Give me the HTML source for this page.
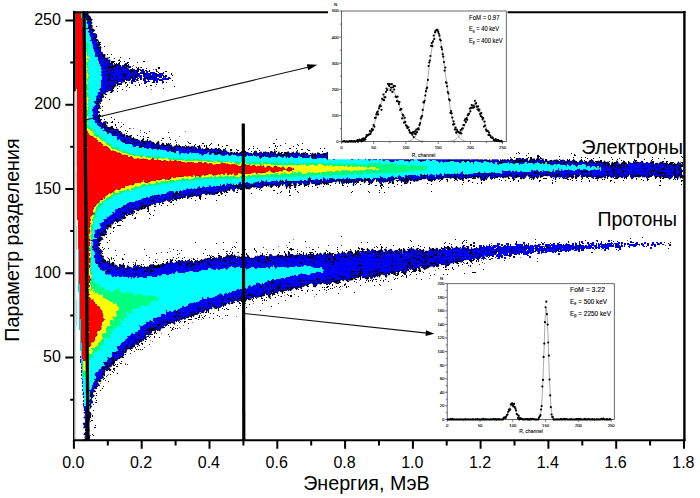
<!DOCTYPE html>
<html><head><meta charset="utf-8"><title>PSD</title>
<style>
html,body{margin:0;padding:0;background:#fff;}
body{width:700px;height:498px;position:relative;overflow:hidden;font-family:"Liberation Sans",sans-serif;color:#000;}
.t{position:absolute;white-space:nowrap;line-height:1;}
.xt{font-size:16px;top:454.5px;width:40px;margin-left:-20px;text-align:center;}
.yt{font-size:16px;left:19.4px;width:41.5px;text-align:right;}
</style></head><body>
<svg width="700" height="498" viewBox="0 0 700 498" style="position:absolute;left:0;top:0">
<rect x="0" y="0" width="700" height="498" fill="#fff"/>
<g id="density" shape-rendering="crispEdges">
<path d="M170.2 251.6h0.5M211.1 255.3h0.5M266.0 249.7h0.5M359.4 249.3h0.5M191.3 258.3h0.5M157.3 259.3h0.5M105.8 249.4h0.5M300.5 245.6h0.5M256.2 252.8h0.5M231.1 255.2h0.5M306.2 247.0h0.5M149.4 260.1h0.5M195.9 247.0h0.5M286.5 244.3h0.5M321.8 253.2h0.5M133.2 262.9h0.5M172.5 261.5h0.5M237.3 252.4h0.5M112.7 262.7h0.5M143.1 260.7h0.5M141.0 264.2h0.5M179.6 254.3h0.5M193.6 259.2h0.5M186.6 252.6h0.5M349.8 244.7h0.5M260.1 252.7h0.5M216.0 257.1h0.5M309.0 247.8h0.5M286.0 245.5h0.5M281.8 244.5h0.5M107.2 257.9h0.5M169.8 261.8h0.5M311.9 252.1h0.5M277.7 238.7h0.5M270.5 252.5h0.5M245.8 241.0h0.5M130.9 262.6h0.5M297.3 249.0h0.5M238.3 255.4h0.5M142.5 256.5h0.5M166.2 259.7h0.5M265.9 248.9h0.5M169.2 248.6h0.5M267.2 252.2h0.5M293.3 239.8h0.5M267.0 252.4h0.5M278.1 246.2h0.5M218.3 256.9h0.5" stroke="#000" stroke-width="0.5" fill="none"/>
<path d="M230.9 249.8h0.8M143.1 264.7h0.8M111.4 257.1h0.8M229.4 253.2h0.8M162.8 261.7h0.8M135.1 262.6h0.8M227.0 251.9h0.8M155.2 259.1h0.8M196.9 258.5h0.8M357.7 248.4h0.8M149.5 258.8h0.8M134.7 263.3h0.8M290.7 250.0h0.8M244.9 249.5h0.8M148.8 257.5h0.8M262.7 247.2h0.8M111.1 259.1h0.8M160.8 252.8h0.8M236.0 256.2h0.8M103.8 248.1h0.8M236.2 242.7h0.8M268.8 254.5h0.8M155.6 254.6h0.8M109.1 260.8h0.8M341.2 245.5h0.8M328.4 245.8h0.8M177.2 250.7h0.8M178.9 253.8h0.8M306.3 253.4h0.8M283.5 246.4h0.8M311.6 246.8h0.8M232.5 255.9h0.8M120.3 264.9h0.8M318.2 247.4h0.8M284.8 254.3h0.8M165.5 254.6h0.8M167.6 256.7h0.8M349.5 240.7h0.8M271.6 254.5h0.8M116.0 255.5h0.8" stroke="#000" stroke-width="0.8" fill="none"/>
<path d="M176.8 254.4h1M226.8 256.2h1M254.3 249.2h1M305.0 241.5h1M143.5 249.2h1M103.2 249.6h1M324.9 252.4h1M108.2 258.0h1M253.7 248.5h1M181.9 260.8h1M272.7 249.9h1M132.5 264.5h1M312.1 249.6h1M108.1 248.4h1M194.8 242.5h1M204.5 249.3h1M341.2 236.6h1M167.1 259.7h1M217.8 253.3h1M202.9 253.3h1M217.9 253.7h1M155.5 262.3h1M177.4 250.5h1M113.3 258.6h1M213.3 256.4h1M192.7 259.3h1M311.8 252.4h1M145.5 255.7h1M222.7 249.9h1M180.8 250.3h1M172.4 259.7h1M114.5 250.7h1M175.7 258.6h1M279.4 252.1h1M172.6 249.8h1M184.4 257.5h1M211.9 256.9h1M108.3 248.3h1M336.8 249.6h1M215.8 243.2h1M222.8 242.2h1M155.7 253.7h1" stroke="#000" stroke-width="1.0" fill="none"/>
<path d="M409.0 275.8h0.5M254.5 308.7h0.5M243.3 307.9h0.5M102.7 386.6h0.5M284.0 295.5h0.5M183.0 325.0h0.5M92.6 404.2h0.5M179.4 327.4h0.5M315.8 288.5h0.5M305.9 290.5h0.5M201.3 319.7h0.5M97.7 392.1h0.5M501.9 258.2h0.5M292.8 294.0h0.5M180.9 331.9h0.5M308.0 289.8h0.5M252.1 300.4h0.5M346.5 289.5h0.5M331.9 291.2h0.5M305.0 293.5h0.5M486.4 259.9h0.5M119.8 365.9h0.5M180.2 328.7h0.5M291.3 292.6h0.5M381.3 278.1h0.5M452.0 268.4h0.5M119.1 362.4h0.5M108.2 374.4h0.5M183.7 330.4h0.5M140.8 345.6h0.5M436.6 272.5h0.5M272.5 300.7h0.5M422.2 271.2h0.5M430.8 272.6h0.5M280.3 296.1h0.5M340.3 289.5h0.5M401.6 276.1h0.5M455.5 268.4h0.5M207.6 316.8h0.5M173.3 329.6h0.5M448.6 278.2h0.5M403.4 276.0h0.5M96.3 393.7h0.5M236.9 313.8h0.5M422.6 271.6h0.5M359.4 280.2h0.5M355.8 292.2h0.5M354.9 281.2h0.5M241.7 304.1h0.5M458.9 272.3h0.5M393.4 277.2h0.5M384.6 276.9h0.5M185.7 326.6h0.5M126.7 353.3h0.5M162.7 338.6h0.5M330.7 288.9h0.5M100.3 383.7h0.5M234.9 312.4h0.5M97.7 396.2h0.5M458.2 266.2h0.5M361.8 286.9h0.5M178.7 329.7h0.5M337.6 286.8h0.5M152.1 341.8h0.5M515.8 263.3h0.5M429.3 273.6h0.5M236.2 316.2h0.5M509.0 258.5h0.5M296.8 295.1h0.5M520.0 257.4h0.5M258.8 308.8h0.5M484.4 263.3h0.5M440.3 275.4h0.5M473.9 266.5h0.5M135.0 348.0h0.5M469.9 268.9h0.5M383.6 283.9h0.5M177.9 327.4h0.5M349.9 289.9h0.5M119.5 364.4h0.5M192.2 322.4h0.5M314.2 296.7h0.5M145.4 341.1h0.5M161.1 333.5h0.5M150.1 340.1h0.5M340.5 283.6h0.5M361.6 288.2h0.5M114.4 369.1h0.5M326.4 292.0h0.5M257.6 300.5h0.5M461.7 269.5h0.5M243.9 301.6h0.5M125.2 363.2h0.5M429.0 278.1h0.5M222.4 318.3h0.5M419.1 273.3h0.5M342.4 286.9h0.5M253.2 303.4h0.5M177.0 325.2h0.5" stroke="#000" stroke-width="0.5" fill="none"/>
<path d="M92.8 404.8h0.8M263.6 297.2h0.8M149.3 344.0h0.8M124.9 364.2h0.8M376.0 281.5h0.8M382.9 281.9h0.8M132.2 348.9h0.8M169.1 336.4h0.8M345.2 283.4h0.8M106.3 376.2h0.8M306.7 291.9h0.8M240.0 305.9h0.8M485.6 261.4h0.8M285.2 300.5h0.8M356.2 282.6h0.8M244.7 301.9h0.8M130.1 353.5h0.8M371.7 281.9h0.8M121.1 363.6h0.8M134.0 351.8h0.8M385.3 279.2h0.8M126.7 364.1h0.8M94.8 402.2h0.8M293.8 294.5h0.8M105.3 380.8h0.8M263.7 299.8h0.8M334.1 287.4h0.8M188.6 324.0h0.8M200.9 315.4h0.8M235.9 306.2h0.8M394.9 275.9h0.8M287.3 294.4h0.8M225.2 315.4h0.8M278.4 303.2h0.8M244.8 303.7h0.8M147.6 337.0h0.8M394.7 278.3h0.8M293.6 296.0h0.8M332.6 285.9h0.8M217.7 309.6h0.8M452.1 268.8h0.8M286.5 295.6h0.8M494.5 265.3h0.8M209.3 317.2h0.8M226.8 309.4h0.8M452.3 267.6h0.8M243.5 305.1h0.8M143.0 340.9h0.8M261.8 303.0h0.8M252.2 300.8h0.8M483.2 269.0h0.8M504.3 260.3h0.8M467.9 265.5h0.8M452.5 271.5h0.8M415.8 278.2h0.8M131.0 350.4h0.8M130.9 350.7h0.8M106.8 375.3h0.8M237.5 306.3h0.8M482.1 262.1h0.8M259.5 306.5h0.8M111.5 374.3h0.8M326.1 290.8h0.8M272.3 295.4h0.8M144.1 347.3h0.8M297.9 296.7h0.8M150.3 336.8h0.8M188.1 328.2h0.8M253.0 301.2h0.8M354.0 292.0h0.8M380.2 285.5h0.8M420.5 281.8h0.8M241.5 302.6h0.8" stroke="#000" stroke-width="0.8" fill="none"/>
<path d="M266.4 300.2h1M198.5 317.1h1M402.0 275.8h1M153.8 337.4h1M221.6 308.5h1M374.2 285.6h1M176.7 328.9h1M340.1 286.0h1M373.1 279.9h1M141.3 343.4h1M116.0 366.7h1M266.0 297.6h1M107.6 381.9h1M364.5 282.3h1M445.2 267.0h1M170.6 330.1h1M237.7 308.3h1M110.4 370.6h1M217.9 310.7h1M95.4 398.3h1M240.1 303.6h1M463.8 273.8h1M198.9 316.1h1M171.9 328.7h1M434.4 274.8h1M343.7 285.7h1M380.0 280.0h1M318.7 290.7h1M227.9 309.9h1M421.4 279.3h1M306.9 291.8h1M213.1 313.3h1M316.3 294.5h1M204.7 315.3h1M443.3 274.1h1M140.3 349.1h1M329.9 288.9h1M329.8 288.5h1M219.0 316.1h1M95.7 400.3h1M472.3 263.0h1M331.5 285.5h1M259.8 310.4h1M172.9 327.6h1M167.6 334.6h1M393.8 279.2h1M264.0 300.8h1M280.5 296.3h1M116.6 364.2h1M95.6 395.2h1M203.1 318.8h1M119.6 363.3h1M204.0 316.8h1M348.1 286.8h1M210.1 313.4h1M391.0 289.8h1M135.2 347.8h1M287.7 295.3h1M367.7 281.8h1M278.4 295.2h1M213.1 318.6h1M114.4 370.3h1M141.8 343.8h1M195.0 318.0h1M137.0 346.7h1M482.9 269.3h1M198.1 317.4h1M142.3 349.7h1M270.8 306.6h1M311.8 290.7h1M207.9 312.7h1M453.4 269.9h1M102.7 386.5h1M125.1 354.4h1M416.0 274.3h1M125.4 354.6h1M226.7 315.0h1M171.7 329.9h1M201.6 317.7h1M149.4 337.3h1M249.2 304.6h1M141.5 344.7h1M338.1 293.0h1M429.9 275.1h1M216.5 315.8h1M332.3 288.1h1M242.3 302.1h1M353.8 281.8h1" stroke="#000" stroke-width="1.0" fill="none"/>
<path d="M237.5 144.6h0.5M133.3 128.7h0.5M179.3 136.4h0.5M201.4 145.1h0.5M140.2 132.2h0.5M187.3 141.9h0.5M271.6 149.0h0.5M130.2 128.0h0.5M192.7 138.5h0.5M242.5 146.3h0.5M185.0 131.4h0.5M121.4 122.9h0.5M252.5 145.2h0.5M120.3 127.6h0.5M178.1 144.6h0.5" stroke="#000" stroke-width="0.5" fill="none"/>
<path d="M267.5 150.0h0.8M139.9 130.8h0.8M176.4 142.2h0.8M188.7 143.9h0.8M148.7 131.2h0.8M225.2 148.5h0.8M139.8 136.5h0.8M129.4 128.3h0.8M285.0 143.2h0.8M252.5 141.5h0.8" stroke="#000" stroke-width="0.8" fill="none"/>
<path d="M302.1 143.8h1M308.2 150.1h1M168.0 132.7h1M118.3 122.3h1M225.5 145.9h1M206.4 145.8h1M123.0 124.8h1M160.9 140.0h1M247.9 149.9h1M242.9 149.1h1M137.3 135.9h1M224.6 148.5h1M169.0 137.8h1M210.9 143.8h1M276.4 148.4h1" stroke="#000" stroke-width="1.0" fill="none"/>
<path d="M153.5 73.6h1.2M129.8 77.1h1.2M147.3 75.3h1.2M150.6 73.8h1.2M158.3 76.5h1.2M129.7 74.9h1.2M159.7 80.0h1.2M156.8 81.2h1.2M128.8 74.5h1.2M121.8 75.8h1.2M146.7 81.5h1.2M125.6 67.5h1.2M134.7 77.4h1.2M140.0 72.4h1.2M119.6 78.0h1.2M128.0 80.2h1.2M146.3 81.8h1.2M153.2 78.9h1.2M153.2 74.4h1.2M132.0 78.7h1.2M138.2 73.3h1.2M133.0 72.9h1.2M140.7 75.1h1.2M149.2 77.8h1.2M121.6 72.3h1.2M143.3 73.4h1.2M130.2 72.7h1.2M137.3 74.4h1.2M143.6 76.2h1.2M156.2 77.6h1.2M119.1 76.7h1.2M138.8 74.0h1.2M146.7 76.7h1.2M125.4 76.4h1.2M126.8 84.5h1.2M164.7 77.2h1.2M125.6 76.2h1.2M144.1 79.3h1.2M160.1 75.7h1.2M135.0 75.6h1.2M140.6 79.8h1.2M128.1 78.5h1.2M162.8 77.4h1.2M132.8 70.6h1.2M163.2 75.9h1.2M121.3 76.2h1.2M149.0 77.0h1.2M138.0 73.4h1.2M132.1 70.5h1.2M161.0 79.2h1.2M132.5 73.2h1.2M120.7 70.4h1.2M154.7 75.7h1.2M120.7 79.2h1.2M152.3 76.2h1.2M148.5 74.4h1.2M124.6 70.2h1.2M162.4 79.2h1.2M142.7 78.6h1.2M144.5 76.9h1.2M147.0 74.4h1.2M124.3 77.0h1.2M142.6 76.5h1.2M153.1 72.4h1.2M126.9 85.5h1.2M153.1 77.8h1.2M154.4 78.5h1.2M137.9 74.8h1.2M128.5 79.4h1.2M140.8 76.7h1.2M138.0 74.9h1.2M134.3 74.1h1.2M141.1 70.9h1.2M160.2 77.1h1.2M139.5 75.8h1.2M165.7 79.0h1.2M140.9 79.4h1.2M125.1 72.2h1.2M125.1 73.9h1.2M134.8 76.8h1.2M132.2 77.1h1.2M140.3 79.8h1.2M129.0 76.3h1.2M147.2 79.2h1.2M130.7 76.5h1.2M134.0 74.2h1.2M129.0 77.5h1.2M146.7 79.0h1.2M124.1 75.2h1.2M144.6 77.9h1.2M119.4 75.5h1.2M137.2 77.1h1.2M119.5 81.1h1.2M127.0 73.8h1.2" stroke="#0000ff" stroke-width="1.2" fill="none"/>
<path d="M148.2 81.4h1.7M147.0 77.7h1.7M142.6 71.0h1.7M143.1 72.6h1.7M147.2 74.6h1.7M133.3 78.5h1.7M163.8 76.4h1.7M118.3 84.1h1.7M140.3 73.3h1.7M149.5 79.0h1.7M143.6 76.0h1.7M121.5 67.8h1.7M153.4 80.1h1.7M120.6 69.5h1.7M130.4 78.6h1.7M121.5 66.2h1.7M154.8 78.9h1.7M136.2 80.2h1.7M145.9 74.2h1.7M153.7 75.4h1.7M139.8 77.9h1.7M144.2 73.8h1.7M129.3 67.3h1.7M155.2 76.8h1.7M143.9 76.0h1.7M126.1 76.4h1.7M126.3 73.2h1.7M131.1 75.8h1.7M127.8 77.2h1.7M155.6 75.0h1.7M126.5 72.2h1.7M132.2 73.8h1.7M120.8 75.0h1.7M154.9 79.7h1.7M129.3 78.3h1.7M149.9 78.0h1.7M151.4 76.2h1.7M148.1 76.6h1.7M136.8 78.4h1.7M147.4 75.4h1.7M154.0 78.7h1.7M123.9 70.7h1.7M144.9 77.0h1.7M164.0 78.9h1.7M146.0 72.2h1.7M141.6 73.3h1.7M157.8 74.7h1.7M144.2 82.9h1.7M162.1 73.4h1.7M129.9 76.1h1.7M126.5 76.5h1.7M129.7 69.9h1.7M146.4 75.6h1.7M135.8 76.0h1.7M126.0 69.5h1.7M156.1 80.7h1.7M154.8 74.3h1.7M130.6 77.1h1.7M148.5 78.5h1.7M126.0 74.3h1.7M130.4 74.3h1.7M162.2 78.9h1.7M161.8 82.0h1.7M139.1 69.6h1.7M135.6 71.2h1.7M151.5 75.4h1.7M142.9 74.2h1.7M142.9 78.4h1.7M152.2 76.9h1.7M148.5 77.1h1.7M140.1 78.1h1.7M153.0 79.2h1.7M130.1 74.6h1.7M149.1 76.3h1.7M120.8 72.1h1.7M162.6 79.2h1.7M135.2 76.3h1.7M156.5 76.4h1.7M125.0 74.0h1.7M124.7 79.2h1.7M163.2 76.5h1.7" stroke="#0000ff" stroke-width="1.7" fill="none"/>
<path d="M160.3 74.5h2.2M125.1 64.3h2.2M154.3 75.6h2.2M153.3 76.0h2.2M152.7 81.9h2.2M150.4 73.2h2.2M167.5 77.7h2.2M133.9 75.3h2.2M154.3 77.4h2.2M118.9 73.5h2.2M130.9 70.6h2.2M152.2 78.7h2.2M131.7 79.2h2.2M120.1 68.4h2.2M155.9 75.2h2.2M118.2 78.3h2.2M141.5 69.9h2.2M131.1 83.0h2.2M148.6 73.9h2.2M148.0 74.9h2.2M152.6 77.1h2.2M160.3 79.9h2.2M137.4 76.0h2.2M139.1 76.4h2.2M155.9 81.4h2.2M131.1 74.0h2.2M127.3 78.1h2.2M125.7 76.6h2.2M122.8 77.2h2.2M142.8 80.2h2.2M138.8 75.6h2.2M150.7 78.8h2.2M152.6 75.1h2.2M134.6 70.6h2.2M146.5 74.2h2.2M140.7 71.2h2.2M127.0 65.8h2.2M134.5 72.9h2.2M153.5 75.6h2.2M156.4 79.0h2.2M131.4 80.6h2.2M121.4 70.4h2.2M136.3 75.7h2.2M135.5 73.7h2.2M126.4 75.7h2.2M143.5 77.6h2.2M159.0 79.8h2.2M140.3 72.6h2.2M121.4 78.5h2.2M129.1 78.4h2.2M130.5 76.4h2.2M143.0 74.9h2.2M152.7 72.7h2.2M123.2 68.6h2.2M144.8 74.7h2.2M146.9 78.7h2.2M136.2 75.1h2.2M152.3 76.6h2.2M152.5 78.3h2.2M129.7 74.5h2.2M156.5 74.9h2.2M151.5 73.7h2.2M138.1 75.4h2.2M131.7 71.4h2.2M139.9 78.4h2.2M145.8 78.0h2.2M166.3 79.3h2.2M126.8 74.0h2.2M122.4 73.5h2.2M132.3 70.2h2.2M164.5 76.3h2.2M120.2 83.8h2.2M134.9 76.9h2.2M158.7 76.8h2.2M146.3 78.3h2.2M150.6 72.9h2.2M148.6 77.5h2.2M148.4 77.7h2.2M132.7 81.2h2.2M157.5 75.6h2.2M150.1 76.1h2.2M133.6 78.8h2.2M143.2 71.6h2.2M143.6 80.4h2.2M125.9 75.5h2.2" stroke="#0000ff" stroke-width="2.2" fill="none"/>
<path d="M116.6 64.4h0.6M123.8 77.4h0.6M119.2 86.4h0.6M164.9 78.5h0.6M120.5 74.1h0.6M115.8 76.0h0.6M130.4 73.0h0.6M141.5 70.4h0.6M135.0 73.9h0.6M152.0 78.7h0.6M166.7 75.9h0.6M157.4 71.4h0.6M156.8 84.9h0.6M137.8 70.4h0.6M138.0 82.2h0.6M131.5 70.8h0.6M148.3 71.9h0.6M135.6 77.4h0.6M148.0 74.0h0.6M153.1 81.0h0.6M114.6 65.3h0.6M154.0 77.9h0.6M118.6 68.8h0.6M150.7 81.7h0.6M114.0 73.7h0.6M119.5 62.8h0.6M119.9 68.0h0.6M115.9 67.7h0.6M154.4 82.0h0.6M125.7 79.6h0.6M127.7 77.8h0.6M126.4 90.6h0.6M140.9 83.5h0.6M144.5 73.5h0.6M155.3 86.1h0.6M119.0 86.7h0.6M150.4 77.8h0.6M162.3 83.8h0.6M128.9 82.3h0.6M124.8 70.1h0.6M160.9 76.9h0.6M119.3 59.0h0.6M133.4 65.4h0.6M150.6 65.0h0.6M119.6 76.1h0.6M132.9 79.7h0.6M160.5 89.6h0.6M115.5 73.1h0.6M163.0 75.4h0.6M117.0 75.8h0.6M122.1 73.5h0.6M134.2 77.0h0.6M136.2 72.6h0.6M153.0 69.2h0.6M137.9 80.0h0.6M142.3 69.6h0.6M141.6 83.0h0.6M140.2 67.0h0.6M145.7 81.2h0.6M116.7 69.4h0.6M153.6 81.1h0.6M155.1 69.4h0.6M132.1 66.1h0.6M119.9 66.5h0.6M133.0 71.8h0.6M120.1 70.0h0.6M141.6 67.1h0.6M114.2 82.4h0.6M156.7 76.8h0.6M136.5 77.2h0.6M122.9 66.7h0.6M155.6 71.7h0.6M133.0 78.0h0.6M164.1 77.4h0.6M161.2 76.0h0.6M146.2 76.2h0.6M150.9 89.6h0.6M168.8 72.1h0.6M168.6 73.3h0.6" stroke="#000" stroke-width="0.6" fill="none"/>
<path d="M144.6 78.3h0.9M146.5 70.8h0.9M133.0 78.4h0.9M136.7 75.0h0.9M128.2 70.0h0.9M163.4 72.5h0.9M119.6 72.8h0.9M133.8 77.0h0.9M133.0 78.4h0.9M145.5 81.6h0.9M158.7 73.5h0.9M133.3 74.3h0.9M122.9 67.6h0.9M113.4 76.3h0.9M132.0 68.2h0.9M162.8 76.5h0.9M148.2 80.5h0.9M146.1 68.3h0.9M126.6 79.1h0.9M157.7 72.4h0.9M116.0 77.7h0.9M130.4 74.9h0.9M123.5 76.2h0.9M135.3 81.0h0.9M150.7 75.1h0.9M133.1 73.3h0.9M156.1 84.8h0.9M148.7 79.3h0.9M161.4 77.8h0.9M112.3 77.2h0.9M114.3 58.2h0.9M142.4 73.7h0.9M125.7 80.1h0.9M124.3 61.4h0.9M171.8 80.5h0.9M117.7 80.0h0.9M155.3 73.9h0.9M143.0 73.6h0.9M122.9 77.8h0.9M151.7 72.3h0.9M134.5 72.0h0.9M162.8 88.4h0.9M145.3 80.1h0.9M127.7 67.7h0.9M142.9 72.7h0.9M159.7 73.4h0.9M151.1 77.7h0.9M145.9 77.9h0.9M140.6 67.1h0.9M144.1 77.6h0.9M114.9 77.8h0.9M136.6 62.6h0.9M121.1 81.5h0.9M132.5 85.0h0.9M145.3 80.1h0.9M135.3 85.8h0.9M137.6 73.0h0.9M136.1 71.7h0.9M140.5 72.9h0.9M114.0 71.0h0.9M170.5 86.3h0.9M126.0 80.5h0.9M125.8 77.0h0.9M165.9 75.2h0.9M145.7 86.6h0.9M118.9 73.3h0.9M119.1 76.4h0.9M148.1 78.0h0.9M123.0 75.3h0.9M123.1 69.4h0.9M134.9 77.1h0.9M130.5 78.1h0.9M134.5 70.7h0.9M155.5 81.5h0.9M130.6 69.6h0.9M136.3 72.8h0.9M127.2 73.1h0.9M129.3 87.3h0.9" stroke="#000" stroke-width="0.9" fill="none"/>
<path d="M140.2 73.7h1.2M154.4 77.6h1.2M137.3 71.0h1.2M119.6 57.8h1.2M115.9 73.7h1.2M118.3 60.5h1.2M136.7 72.5h1.2M173.8 86.1h1.2M127.1 63.6h1.2M113.4 61.6h1.2M143.6 78.6h1.2M129.4 74.4h1.2M130.0 72.0h1.2M137.4 69.0h1.2M120.4 74.4h1.2M126.4 75.4h1.2M137.5 78.3h1.2M155.6 75.3h1.2M127.1 75.1h1.2M119.7 61.6h1.2M136.4 75.6h1.2M116.5 85.4h1.2M140.2 78.7h1.2M143.4 61.1h1.2M121.0 69.7h1.2M118.7 81.6h1.2M120.1 84.1h1.2M127.2 62.8h1.2M144.5 73.3h1.2M121.0 75.8h1.2M125.7 65.8h1.2M151.9 82.1h1.2M143.5 83.1h1.2M150.4 85.2h1.2M140.0 78.9h1.2M160.4 80.4h1.2M149.1 71.0h1.2M156.0 69.6h1.2M121.7 72.5h1.2M138.5 85.7h1.2M130.4 75.1h1.2M143.4 74.6h1.2M147.2 78.4h1.2M125.0 65.4h1.2M112.8 68.5h1.2M136.7 77.2h1.2M116.1 66.2h1.2M146.7 77.4h1.2M145.3 70.2h1.2M125.6 72.3h1.2M139.6 70.5h1.2M134.5 81.3h1.2M156.1 70.9h1.2M164.9 76.1h1.2M137.2 70.0h1.2M172.2 75.8h1.2M165.9 82.2h1.2M145.9 82.6h1.2M129.0 67.8h1.2M117.1 77.9h1.2M168.0 78.8h1.2M170.7 73.9h1.2M132.7 72.3h1.2M158.0 74.8h1.2M171.9 80.1h1.2M140.6 70.1h1.2M169.9 78.4h1.2M158.4 68.0h1.2M149.5 73.5h1.2M150.2 77.5h1.2M122.6 70.4h1.2M156.6 74.5h1.2M139.5 77.8h1.2M125.7 82.2h1.2M165.4 71.8h1.2M124.6 69.2h1.2M115.8 80.8h1.2M151.8 78.6h1.2M127.4 76.0h1.2M116.9 68.0h1.2M149.7 73.0h1.2M130.2 72.1h1.2M120.1 74.3h1.2" stroke="#000" stroke-width="1.2" fill="none"/>
<defs>
<path id="bp" d="M82.8 11.2 L85.2 12.1 L86.2 12.5 L87.7 11.3 L88.0 12.9 L88.1 13.7 L88.1 14.5 L88.0 15.3 L89.5 15.8 L90.4 16.7 L90.3 17.8 L91.4 18.8 L92.3 19.8 L91.0 21.3 L91.7 22.2 L92.0 23.2 L91.0 24.5 L92.1 25.2 L92.4 26.2 L92.2 27.3 L92.1 28.4 L93.0 29.1 L94.3 29.7 L94.6 30.7 L93.5 32.2 L93.1 33.4 L95.3 33.6 L96.5 34.3 L96.7 35.3 L96.8 36.3 L96.6 37.4 L95.4 39.0 L97.1 39.4 L98.3 40.0 L97.2 41.5 L98.7 42.0 L99.5 42.7 L99.7 43.7 L100.0 44.7 L98.4 46.5 L100.8 46.5 L101.0 47.5 L100.7 48.8 L101.0 49.7 L100.9 50.9 L101.5 51.7 L102.4 52.4 L102.5 53.6 L103.3 54.3 L104.9 54.5 L105.1 55.5 L104.7 57.0 L104.5 58.4 L106.7 58.1 L108.5 57.8 L108.1 59.6 L108.9 60.1 L110.1 59.9 L109.7 62.5 L110.2 64.0 L112.0 62.5 L113.0 63.0 L112.6 66.7 L114.5 64.6 L115.7 64.4 L116.8 64.4 L118.0 63.8 L119.1 63.6 L119.7 65.0 L120.5 65.8 L121.1 66.9 L122.1 67.0 L124.3 64.6 L125.2 65.0 L125.3 67.1 L127.1 65.6 L127.0 68.3 L128.3 68.0 L128.7 69.3 L129.6 69.8 L130.7 69.8 L131.5 70.5 L133.0 69.8 L133.3 71.3 L134.8 71.0 L136.6 70.0 L136.8 72.4 L137.5 73.3 L137.7 73.9 L137.5 74.1 L137.7 75.2 L136.0 74.6 L134.9 75.0 L134.6 77.0 L134.9 80.1 L133.2 78.9 L131.1 76.9 L130.4 77.8 L129.7 78.6 L129.7 81.5 L127.9 79.7 L127.3 80.7 L125.0 77.8 L125.3 81.2 L124.5 81.9 L123.5 82.0 L122.5 82.3 L121.9 83.3 L119.8 81.3 L118.8 81.6 L118.3 82.8 L117.5 83.5 L116.7 84.2 L115.6 84.3 L116.1 86.8 L113.2 84.5 L114.2 87.6 L113.0 87.7 L112.1 88.2 L112.9 90.9 L112.7 92.3 L110.4 90.9 L108.7 90.4 L108.3 91.4 L107.3 91.8 L105.7 91.7 L105.8 93.2 L105.0 93.9 L103.2 93.7 L103.0 95.0 L104.0 97.0 L102.9 97.4 L101.9 98.0 L101.8 99.1 L102.0 100.3 L101.7 101.3 L100.6 101.9 L99.5 102.7 L99.1 103.7 L99.1 104.8 L100.2 106.0 L100.5 107.1 L99.2 107.9 L99.3 108.9 L97.7 109.8 L97.5 110.8 L99.9 112.0 L98.9 113.0 L98.0 114.1 L99.0 115.0 L99.9 115.9 L99.9 116.9 L99.7 118.2 L99.9 119.2 L101.0 119.8 L100.7 121.2 L101.7 121.8 L102.2 122.8 L105.0 121.7 L106.5 121.5 L106.0 123.3 L106.4 124.3 L106.8 125.4 L107.2 126.7 L107.9 127.5 L108.8 128.0 L110.5 127.0 L110.5 129.2 L112.4 127.5 L112.9 128.7 L113.7 129.5 L114.2 130.9 L116.1 128.9 L117.0 129.3 L118.1 129.2 L118.6 130.8 L119.1 132.1 L119.9 132.9 L121.2 132.4 L122.0 133.0 L122.7 133.9 L123.8 133.8 L124.8 134.2 L125.0 135.7 L125.3 137.2 L127.8 134.9 L127.5 137.5 L129.6 135.8 L130.9 135.5 L131.1 137.4 L131.7 138.5 L133.0 138.0 L133.8 138.5 L134.7 138.8 L135.6 139.2 L136.6 139.5 L137.7 139.2 L138.5 140.1 L139.4 140.4 L139.7 143.4 L141.5 140.1 L142.8 138.9 L143.3 141.1 L144.2 142.0 L145.4 141.0 L146.3 141.6 L147.7 139.6 L148.4 141.5 L149.5 140.9 L150.6 140.7 L151.4 141.9 L152.4 141.7 L153.1 144.0 L154.2 143.2 L155.2 143.9 L156.1 144.2 L157.5 141.8 L158.7 140.7 L159.0 145.3 L160.1 145.0 L161.3 143.6 L162.3 143.3 L163.3 143.1 L164.2 144.7 L165.1 145.5 L166.0 145.9 L167.0 145.9 L168.4 142.8 L169.2 143.9 L170.1 145.4 L171.2 144.8 L172.1 146.2 L172.8 149.1 L174.1 146.1 L175.1 146.4 L176.2 145.1 L177.1 145.5 L178.1 145.7 L179.1 146.3 L180.0 147.5 L181.1 146.8 L182.1 146.6 L183.0 147.1 L184.1 146.5 L185.1 146.8 L186.1 146.2 L187.1 146.9 L188.1 146.5 L189.2 146.2 L190.1 147.3 L191.1 146.7 L192.2 146.2 L193.1 147.3 L194.3 145.4 L195.1 147.4 L196.1 147.3 L196.9 149.0 L197.9 149.0 L199.1 146.9 L200.2 146.8 L201.0 148.8 L202.0 148.6 L203.0 148.8 L203.9 149.5 L205.0 149.1 L206.0 148.6 L207.1 148.0 L208.1 148.2 L209.0 148.7 L210.0 149.3 L210.9 149.7 L212.0 149.2 L213.0 149.1 L213.9 149.7 L215.1 148.6 L216.2 147.9 L217.0 149.1 L218.0 149.2 L219.0 149.7 L220.0 149.8 L220.9 150.7 L221.9 150.3 L222.8 151.2 L224.0 149.7 L225.1 149.3 L226.0 150.1 L226.9 151.4 L227.8 152.0 L228.8 152.6 L229.7 153.1 L230.9 151.3 L231.8 153.3 L232.8 152.6 L233.8 152.8 L234.8 152.4 L235.8 153.0 L236.9 151.8 L237.8 152.2 L238.8 153.4 L239.8 153.0 L240.9 151.9 L241.9 151.8 L242.8 152.0 L243.9 151.8 L244.8 153.2 L245.9 151.6 L246.8 152.2 L247.9 152.0 L248.8 152.8 L249.8 153.5 L250.8 153.3 L251.8 153.4 L252.8 154.0 L253.9 152.3 L254.9 151.0 L255.9 151.2 L256.9 151.6 L257.8 153.3 L258.8 153.7 L259.9 152.0 L260.9 151.4 L261.9 152.8 L262.9 152.7 L263.9 151.9 L264.9 152.5 L265.9 151.3 L266.9 151.7 L267.9 153.2 L268.9 153.1 L269.9 152.2 L270.9 151.3 L271.9 151.6 L272.9 152.3 L273.9 152.8 L274.9 150.4 L275.8 154.0 L276.8 154.8 L277.9 153.1 L278.9 151.7 L279.9 153.6 L280.9 153.7 L281.9 153.5 L282.8 154.9 L283.9 153.6 L284.9 152.2 L285.9 152.8 L286.9 152.4 L287.9 151.7 L288.9 152.0 L289.9 153.4 L290.9 153.4 L291.9 152.7 L292.9 152.7 L293.9 151.9 L294.9 153.3 L295.9 152.7 L297.0 151.2 L297.9 153.3 L298.9 153.3 L299.9 152.9 L300.8 154.8 L301.9 153.8 L302.9 153.1 L303.9 152.9 L304.9 153.2 L305.9 154.1 L306.9 153.9 L307.8 154.8 L308.8 155.1 L309.8 155.1 L310.8 155.2 L311.9 153.5 L312.9 153.2 L313.9 154.5 L314.9 153.3 L315.9 154.1 L316.8 155.1 L317.9 152.4 L318.9 153.8 L319.9 152.9 L320.9 154.5 L321.9 154.2 L322.9 154.1 L323.9 152.9 L324.9 153.8 L325.9 154.6 L327.0 152.1 L328.0 152.2 L328.9 153.2 L329.9 154.3 L330.9 154.3 L331.9 154.1 L332.9 154.1 L333.9 155.5 L334.8 156.6 L335.8 156.5 L336.9 155.4 L337.9 154.5 L338.9 155.7 L339.9 154.6 L340.9 155.8 L341.9 154.3 L342.9 153.0 L343.9 153.3 L344.9 153.1 L345.9 153.4 L346.9 153.9 L347.9 153.4 L348.9 154.2 L349.9 155.6 L350.9 154.6 L351.9 153.9 L352.9 154.8 L353.9 155.1 L354.9 154.6 L355.9 155.4 L356.9 156.5 L357.9 156.5 L358.9 155.7 L359.8 157.4 L360.8 158.1 L361.9 156.4 L362.9 155.2 L363.9 156.3 L364.8 157.6 L365.9 155.3 L366.9 156.0 L367.9 155.2 L368.9 155.0 L369.9 154.5 L370.9 154.3 L371.9 155.3 L372.9 156.0 L373.8 158.5 L374.8 157.8 L375.9 157.0 L376.9 156.8 L377.8 157.6 L378.8 157.6 L379.9 157.4 L380.9 156.0 L381.9 155.7 L382.9 156.0 L383.9 154.9 L384.9 154.5 L385.9 155.7 L386.9 157.2 L387.9 156.0 L388.9 156.5 L389.8 158.6 L390.9 157.1 L391.9 155.7 L392.9 156.0 L393.9 157.0 L394.9 156.8 L395.9 155.4 L396.9 155.9 L397.9 156.3 L398.9 155.2 L399.9 157.5 L400.9 157.6 L401.9 157.4 L402.9 156.4 L403.9 157.5 L404.9 157.3 L405.9 156.2 L406.9 156.0 L407.9 156.5 L408.9 157.6 L409.8 160.7 L410.9 158.3 L411.9 156.6 L412.9 155.8 L413.9 156.3 L414.9 157.8 L415.9 158.5 L416.9 157.2 L417.9 156.4 L418.9 157.1 L419.9 157.9 L420.9 157.3 L421.9 157.2 L422.9 158.4 L423.9 158.3 L424.9 158.3 L425.9 159.3 L426.9 158.2 L427.9 157.9 L428.9 157.8 L429.9 157.3 L430.9 156.6 L431.9 156.5 L432.9 157.1 L433.9 159.5 L434.9 157.9 L435.9 158.5 L436.9 155.9 L438.0 155.5 L438.9 156.5 L439.9 156.4 L440.9 157.1 L441.9 157.1 L442.9 158.7 L443.9 156.6 L444.9 156.6 L445.9 157.8 L446.9 156.3 L447.9 156.9 L448.9 158.3 L449.9 157.5 L450.9 157.0 L451.9 160.0 L452.9 159.9 L453.9 156.3 L455.0 156.0 L455.9 157.0 L456.9 157.4 L457.9 157.7 L458.9 157.2 L459.9 157.7 L460.9 158.1 L461.9 156.8 L463.0 156.6 L463.9 157.3 L464.9 158.5 L465.9 159.1 L466.9 158.3 L467.9 158.0 L468.9 158.4 L469.9 159.9 L470.9 159.3 L471.9 158.2 L472.9 159.2 L473.9 158.2 L474.9 157.8 L475.9 158.7 L476.9 158.2 L477.9 158.5 L478.9 159.6 L479.9 160.0 L480.9 159.2 L481.9 158.6 L482.9 160.4 L483.9 159.5 L484.9 158.0 L485.9 159.2 L486.9 159.4 L487.9 160.3 L488.9 159.3 L489.9 159.4 L490.8 162.6 L491.9 159.5 L492.9 158.8 L493.9 158.9 L494.9 158.5 L495.9 158.6 L496.9 158.1 L497.9 158.7 L498.9 160.7 L499.9 161.6 L500.9 161.1 L501.9 159.3 L502.9 159.5 L503.9 160.1 L504.9 158.6 L505.9 160.4 L506.9 159.7 L507.9 159.0 L508.9 160.0 L509.9 160.8 L511.0 158.6 L511.9 159.0 L512.9 159.3 L513.9 159.8 L514.9 161.0 L515.9 159.3 L517.0 158.1 L518.0 158.9 L519.0 158.4 L520.0 157.3 L521.0 158.8 L521.9 159.5 L523.0 158.3 L524.0 158.1 L524.9 159.6 L525.9 159.2 L527.0 158.2 L527.9 160.2 L528.9 161.8 L529.9 159.6 L531.0 157.7 L532.0 159.2 L533.0 159.3 L534.0 158.6 L535.0 159.4 L535.9 160.0 L537.0 158.6 L538.0 156.7 L539.0 157.6 L539.9 159.9 L540.9 160.7 L542.0 158.8 L543.0 158.4 L543.9 161.0 L544.9 160.5 L546.0 159.8 L546.9 160.3 L547.9 161.4 L548.9 161.3 L549.9 160.8 L550.9 160.7 L552.0 160.1 L552.9 161.6 L554.0 160.0 L554.9 160.4 L556.0 160.1 L557.0 159.4 L557.9 161.6 L558.9 161.6 L560.0 160.1 L561.0 159.9 L561.9 160.7 L563.0 159.7 L564.0 159.6 L564.9 161.0 L565.9 162.2 L566.9 160.9 L568.0 159.5 L569.0 160.1 L570.0 160.6 L570.9 161.8 L571.9 161.1 L573.0 158.7 L574.0 159.6 L575.0 160.9 L575.9 161.2 L576.9 161.7 L577.9 163.1 L578.9 162.4 L580.0 160.6 L581.0 159.6 L582.0 160.2 L582.9 162.1 L583.9 161.7 L584.9 162.0 L585.9 162.2 L586.9 162.5 L587.9 162.8 L589.0 161.2 L590.0 160.3 L591.0 159.5 L592.0 159.3 L593.0 160.6 L593.9 162.4 L594.9 163.7 L595.9 163.0 L597.0 161.5 L598.0 160.8 L599.0 160.9 L599.9 162.8 L601.0 161.7 L602.0 162.0 L602.9 162.8 L604.0 161.0 L605.0 161.2 L605.9 162.6 L606.9 163.3 L608.0 161.5 L608.9 163.1 L609.9 164.5 L610.8 166.8 L611.9 162.7 L613.0 161.0 L613.9 165.3 L615.0 162.1 L616.0 161.0 L617.0 160.6 L618.0 162.5 L618.9 164.5 L619.9 163.6 L620.9 164.7 L622.0 162.4 L623.1 162.0 L624.2 162.8 L625.3 162.6 L626.5 163.1 L627.6 163.9 L628.9 161.8 L630.0 163.1 L631.3 162.9 L632.5 163.1 L633.8 162.9 L635.1 161.0 L636.4 161.7 L637.7 162.3 L639.0 162.7 L640.3 162.6 L641.6 160.5 L643.0 161.9 L644.3 163.5 L645.6 163.4 L646.9 162.3 L648.3 162.8 L649.6 162.7 L650.9 161.7 L652.3 162.2 L653.5 164.0 L654.8 163.5 L656.1 163.4 L657.4 163.2 L658.7 164.1 L660.0 162.6 L661.2 161.3 L662.4 162.2 L663.6 162.7 L664.8 163.2 L665.9 162.3 L667.1 162.6 L668.1 164.5 L669.2 163.9 L670.3 162.5 L671.3 162.6 L672.3 163.3 L673.2 163.7 L674.1 164.1 L675.0 164.2 L675.8 164.1 L676.6 164.6 L677.5 163.3 L678.3 161.7 L678.9 163.7 L679.5 163.4 L680.3 161.8 L680.6 163.9 L681.2 163.5 L681.6 163.8 L682.1 163.5 L682.3 164.4 L682.5 164.7 L682.9 164.4 L682.1 165.8 L681.7 165.8 L682.2 165.1 L683.0 165.3 L681.8 165.9 L680.9 166.9 L680.9 168.1 L682.4 169.5 L682.9 171.0 L681.4 172.4 L681.8 173.8 L682.8 175.1 L684.9 176.2 L685.5 177.0 L683.8 177.4 L683.0 177.5 L682.9 179.1 L682.8 176.0 L682.6 176.9 L682.4 175.9 L682.1 177.6 L681.7 178.7 L681.3 176.9 L680.9 175.8 L680.4 178.4 L679.8 176.2 L679.2 175.2 L678.6 176.2 L677.9 179.0 L677.1 179.4 L676.3 177.3 L675.5 177.8 L674.7 177.7 L673.8 175.3 L672.8 175.8 L671.9 178.3 L670.9 178.0 L669.8 180.1 L668.8 177.9 L667.7 177.7 L666.6 177.0 L665.4 176.7 L664.3 178.1 L663.1 178.4 L661.9 175.1 L660.6 179.2 L659.4 177.0 L658.2 176.1 L656.9 177.6 L655.6 177.9 L654.3 175.8 L653.0 174.9 L651.7 176.3 L650.4 176.8 L649.0 177.2 L647.7 178.6 L646.4 178.3 L645.0 176.8 L643.7 176.8 L642.4 177.0 L641.0 174.9 L639.7 177.5 L638.4 177.4 L637.1 176.4 L635.8 176.8 L634.5 176.8 L633.2 178.0 L632.0 179.2 L630.7 176.9 L629.5 175.1 L628.3 175.9 L627.1 177.2 L625.9 178.1 L624.8 178.0 L623.7 176.5 L622.6 177.8 L621.5 178.0 L620.5 176.6 L619.5 176.6 L618.5 177.8 L617.5 177.7 L616.5 178.0 L615.5 177.3 L614.5 176.1 L613.5 178.0 L612.5 177.1 L611.5 177.5 L610.5 176.9 L609.5 176.1 L608.5 175.7 L607.5 177.7 L606.5 176.2 L605.5 178.0 L604.5 178.1 L603.5 176.5 L602.5 177.2 L601.5 177.9 L600.5 177.7 L599.5 177.7 L598.5 178.6 L597.5 179.2 L596.5 178.3 L595.5 176.9 L594.5 176.9 L593.5 178.6 L592.5 177.8 L591.5 177.3 L590.5 176.5 L589.5 175.9 L588.5 176.7 L587.5 177.5 L586.5 177.3 L585.5 176.4 L584.5 175.9 L583.5 176.9 L582.5 179.0 L581.5 177.0 L580.5 174.8 L579.5 175.9 L578.5 176.6 L577.5 177.1 L576.5 178.1 L575.5 177.9 L574.5 175.4 L573.5 177.6 L572.5 178.5 L571.5 178.3 L570.5 176.8 L569.5 176.9 L568.5 177.3 L567.5 178.5 L566.5 178.6 L565.5 177.2 L564.5 178.0 L563.5 179.1 L562.5 177.9 L561.5 177.3 L560.5 177.3 L559.5 177.0 L558.5 176.9 L557.5 176.8 L556.5 178.3 L555.5 179.9 L554.5 177.3 L553.5 176.8 L552.5 176.9 L551.5 177.7 L550.5 177.2 L549.5 175.6 L548.5 175.7 L547.5 175.8 L546.5 175.8 L545.5 176.2 L544.5 175.9 L543.5 176.2 L542.5 176.5 L541.5 177.0 L540.4 175.3 L539.4 175.4 L538.5 177.3 L537.5 178.5 L536.5 177.5 L535.4 176.1 L534.5 178.3 L533.5 179.4 L532.5 178.4 L531.5 178.2 L530.5 178.2 L529.4 177.0 L528.4 176.3 L527.4 175.3 L526.4 175.8 L525.5 177.4 L524.5 178.5 L523.5 178.7 L522.5 177.9 L521.5 178.8 L520.5 178.8 L519.4 177.3 L518.4 176.9 L517.4 177.2 L516.4 177.6 L515.4 177.9 L514.5 178.3 L513.5 179.0 L512.5 178.6 L511.4 176.3 L510.4 176.3 L509.4 176.3 L508.4 177.9 L507.4 177.2 L506.4 177.0 L505.4 177.5 L504.4 176.9 L503.4 178.2 L502.4 177.5 L501.4 176.8 L500.4 177.5 L499.4 177.2 L498.4 177.3 L497.4 177.9 L496.4 177.6 L495.4 177.6 L494.4 177.9 L493.4 178.1 L492.5 179.3 L491.5 179.3 L490.5 178.6 L489.4 175.4 L488.4 177.0 L487.4 178.2 L486.5 179.0 L485.5 179.4 L484.5 180.3 L483.5 179.1 L482.5 180.0 L481.5 181.0 L480.5 179.3 L479.4 176.7 L478.4 178.2 L477.4 177.5 L476.4 176.6 L475.4 176.8 L474.5 179.0 L473.4 177.8 L472.4 176.7 L471.4 178.2 L470.4 177.9 L469.4 177.5 L468.4 178.0 L467.4 177.9 L466.5 179.2 L465.4 178.5 L464.4 177.9 L463.5 179.3 L462.5 181.3 L461.4 178.7 L460.4 178.5 L459.4 179.2 L458.4 178.5 L457.4 178.4 L456.5 180.0 L455.5 179.7 L454.4 178.0 L453.4 177.9 L452.4 177.5 L451.4 177.9 L450.4 178.5 L449.4 177.7 L448.4 178.5 L447.4 178.4 L446.3 177.0 L445.4 177.7 L444.4 177.7 L443.4 177.7 L442.4 179.7 L441.4 179.5 L440.4 178.7 L439.4 179.2 L438.4 179.4 L437.4 178.8 L436.4 178.5 L435.4 180.0 L434.4 180.1 L433.4 179.1 L432.4 180.0 L431.5 182.0 L430.4 179.8 L429.5 180.9 L428.4 180.4 L427.4 179.3 L426.4 178.2 L425.4 178.1 L424.4 178.8 L423.4 178.8 L422.4 178.6 L421.4 179.7 L420.4 180.2 L419.4 179.8 L418.4 180.4 L417.5 180.9 L416.5 181.2 L415.5 181.1 L414.5 181.7 L413.5 181.2 L412.4 180.3 L411.4 180.7 L410.4 180.4 L409.4 180.0 L408.4 180.7 L407.5 183.3 L406.5 182.1 L405.5 183.6 L404.5 183.9 L403.4 181.2 L402.4 181.2 L401.5 182.0 L400.4 179.7 L399.4 180.3 L398.4 179.3 L397.4 178.7 L396.4 179.2 L395.4 178.8 L394.4 179.1 L393.4 181.3 L392.5 183.0 L391.4 181.2 L390.5 182.6 L389.5 183.2 L388.4 180.6 L387.4 180.1 L386.4 181.8 L385.4 181.9 L384.4 181.8 L383.5 182.5 L382.4 182.0 L381.5 185.9 L380.5 183.4 L379.5 183.1 L378.4 182.0 L377.4 180.0 L376.4 179.5 L375.3 178.4 L374.4 180.1 L373.4 181.5 L372.4 182.8 L371.4 182.7 L370.5 183.3 L369.5 184.9 L368.4 180.9 L367.4 180.5 L366.4 180.9 L365.4 181.4 L364.4 183.2 L363.4 178.7 L362.4 182.6 L361.4 181.4 L360.4 179.8 L359.4 181.2 L358.4 182.8 L357.4 182.4 L356.4 182.4 L355.4 183.2 L354.4 182.9 L353.5 186.0 L352.4 181.6 L351.4 182.8 L350.4 183.1 L349.4 183.5 L348.4 182.8 L347.4 182.4 L346.4 183.7 L345.4 182.8 L344.4 183.1 L343.4 183.5 L342.5 184.4 L341.4 182.4 L340.4 181.0 L339.4 182.1 L338.4 180.8 L337.4 181.1 L336.4 182.2 L335.4 182.2 L334.4 181.8 L333.4 181.5 L332.4 182.1 L331.4 182.7 L330.4 182.7 L329.4 181.8 L328.4 183.5 L327.5 184.4 L326.4 183.3 L325.4 183.4 L324.5 184.6 L323.5 183.9 L322.4 183.1 L321.4 183.9 L320.4 183.7 L319.5 184.7 L318.5 184.7 L317.5 184.9 L316.5 185.3 L315.5 184.3 L314.4 183.7 L313.4 183.5 L312.4 183.6 L311.4 183.3 L310.3 181.9 L309.5 184.3 L308.5 185.1 L307.5 184.8 L306.4 183.9 L305.5 184.5 L304.5 185.1 L303.4 183.6 L302.4 183.0 L301.4 184.5 L300.5 184.7 L299.5 184.7 L298.4 183.6 L297.3 183.2 L296.4 183.5 L295.7 187.7 L294.6 186.7 L293.4 183.8 L292.3 182.7 L291.3 183.5 L290.5 186.2 L289.7 188.3 L288.4 185.1 L287.6 186.9 L286.7 188.3 L285.4 185.0 L284.3 183.8 L283.4 184.5 L282.5 185.8 L281.3 183.6 L280.4 184.8 L279.5 186.7 L278.6 188.1 L277.5 186.0 L276.4 184.8 L275.4 185.1 L274.4 185.5 L273.5 186.2 L272.5 186.2 L271.6 187.6 L270.5 187.1 L269.4 185.2 L268.5 186.3 L267.3 184.8 L266.5 186.6 L265.4 185.5 L264.4 185.5 L263.4 186.0 L262.5 187.4 L261.6 187.7 L260.6 188.8 L259.5 187.8 L258.5 187.6 L257.5 187.7 L256.5 187.1 L255.4 186.9 L254.5 187.3 L253.5 187.3 L252.2 184.7 L251.5 188.0 L250.5 187.9 L249.6 189.2 L248.6 188.8 L247.6 188.6 L246.6 189.0 L245.5 188.2 L244.5 187.8 L243.5 188.2 L242.7 189.7 L241.6 189.1 L240.5 188.5 L239.6 189.3 L238.6 189.5 L237.5 189.0 L236.2 187.1 L235.5 189.3 L234.8 191.1 L233.9 191.7 L232.7 190.7 L231.5 189.3 L230.5 189.2 L229.7 190.7 L228.6 190.2 L227.6 190.4 L226.7 191.4 L225.7 191.3 L224.9 192.5 L223.8 192.0 L222.6 190.8 L221.8 191.8 L220.9 193.1 L219.9 192.8 L218.6 191.2 L217.7 191.9 L217.0 194.0 L215.9 193.2 L215.0 194.2 L214.2 195.7 L213.1 195.0 L212.0 194.1 L211.0 194.1 L210.0 194.2 L208.9 193.9 L207.9 193.8 L207.0 194.6 L206.0 194.9 L204.9 194.2 L203.8 193.4 L202.7 193.3 L201.8 193.7 L201.3 196.8 L200.5 198.1 L199.1 196.2 L198.0 195.5 L197.2 196.5 L196.2 197.0 L194.8 194.7 L194.1 196.3 L193.1 196.5 L192.1 196.5 L191.2 197.3 L190.1 196.9 L189.1 196.8 L188.4 198.3 L187.4 198.6 L185.6 194.3 L185.3 198.4 L184.2 197.6 L183.2 197.8 L182.1 197.6 L180.9 196.4 L180.3 198.5 L179.4 199.2 L178.1 197.9 L177.2 198.3 L176.5 200.2 L175.5 200.1 L174.1 198.1 L173.3 199.4 L172.5 200.6 L171.2 199.4 L170.4 200.5 L169.9 202.7 L168.6 201.3 L167.4 200.5 L166.3 200.1 L165.4 201.0 L164.5 201.3 L163.6 201.8 L162.7 202.6 L161.5 201.9 L160.7 202.7 L160.0 204.0 L158.5 202.3 L157.6 202.8 L156.6 203.1 L155.6 203.1 L155.1 205.2 L153.6 203.6 L152.9 204.5 L151.7 204.0 L150.9 205.0 L150.2 206.0 L149.2 206.1 L148.4 207.0 L148.7 210.6 L146.5 207.4 L145.6 207.9 L144.5 207.8 L143.2 207.3 L142.6 208.5 L142.1 209.9 L140.6 208.9 L139.8 209.6 L139.1 210.5 L138.1 210.8 L136.8 210.3 L135.5 209.9 L134.5 210.2 L133.9 211.1 L133.4 212.5 L133.2 214.3 L132.0 214.2 L130.3 213.1 L129.6 214.0 L128.9 214.7 L127.4 214.1 L126.8 215.1 L126.0 215.7 L124.2 214.6 L125.2 218.3 L124.6 219.3 L123.2 219.0 L122.0 218.8 L121.3 219.6 L120.7 220.7 L119.9 221.2 L118.8 221.5 L117.6 221.3 L116.3 221.2 L115.2 221.3 L114.4 221.9 L113.5 222.4 L113.1 223.7 L112.3 224.3 L110.9 224.1 L111.3 226.2 L111.3 227.7 L109.3 226.9 L108.0 226.9 L108.0 228.3 L107.8 229.5 L106.0 229.4 L105.8 230.6 L107.2 232.8 L106.2 233.3 L106.6 234.7 L104.2 234.3 L104.8 235.9 L102.2 235.5 L101.1 236.0 L102.1 237.8 L103.2 239.4 L101.9 239.8 L101.0 240.5 L100.4 241.3 L99.2 242.1 L99.4 243.2 L99.8 244.3 L100.1 245.3 L97.7 246.3 L99.0 247.3 L99.9 248.3 L98.3 249.7 L100.7 250.1 L102.7 250.6 L102.4 251.7 L101.1 253.2 L101.1 254.3 L102.2 254.9 L101.9 256.2 L103.6 256.2 L103.2 257.7 L104.0 258.3 L104.3 259.5 L105.3 259.9 L105.9 260.9 L106.6 261.8 L108.4 261.0 L108.1 263.5 L109.8 262.6 L110.0 264.3 L112.0 262.4 L112.7 263.2 L113.9 263.0 L114.2 264.7 L115.2 265.1 L116.3 265.2 L117.1 265.8 L117.8 267.2 L118.8 267.7 L120.3 265.7 L121.3 265.2 L122.2 265.9 L123.2 263.8 L124.1 267.0 L125.0 267.6 L126.0 267.8 L127.1 267.2 L128.1 264.7 L129.1 267.2 L130.1 267.2 L131.1 267.8 L132.1 268.2 L133.1 267.3 L134.1 265.5 L135.1 265.3 L136.1 266.7 L137.1 265.5 L138.0 264.9 L139.1 266.9 L140.1 266.8 L141.0 265.6 L142.2 267.1 L143.3 268.8 L144.2 267.3 L145.2 267.1 L146.2 267.6 L147.1 266.3 L148.2 267.2 L149.2 267.2 L150.0 265.0 L150.9 264.8 L152.0 264.9 L152.9 264.6 L153.9 264.4 L155.1 265.9 L156.2 266.0 L157.0 264.9 L158.2 266.0 L159.1 265.1 L160.0 264.6 L161.0 264.9 L162.0 264.2 L163.0 264.3 L164.0 264.0 L165.0 264.0 L165.9 263.2 L166.8 262.8 L167.9 263.5 L168.8 262.5 L169.8 262.5 L170.5 259.0 L171.8 262.2 L172.9 262.5 L173.9 263.1 L174.9 263.1 L175.9 262.4 L176.9 262.2 L177.8 261.6 L178.6 259.4 L179.7 260.3 L180.8 261.1 L181.7 260.4 L182.7 260.6 L183.8 261.6 L184.8 261.5 L185.8 261.2 L186.8 261.6 L187.7 260.4 L188.6 259.5 L189.8 260.6 L190.9 261.8 L191.9 261.9 L193.1 262.8 L194.0 262.3 L194.9 261.1 L195.8 260.7 L196.9 261.1 L197.8 260.2 L198.9 261.0 L199.9 260.9 L200.8 260.1 L201.6 258.7 L202.8 260.2 L203.8 260.0 L204.7 258.9 L205.6 258.5 L206.7 258.7 L207.6 258.0 L208.6 258.1 L209.7 258.5 L210.6 258.0 L211.7 258.7 L212.6 258.2 L213.6 257.9 L214.7 258.1 L215.6 258.0 L216.7 258.3 L217.7 258.1 L218.6 257.2 L219.5 256.4 L220.5 256.4 L221.6 256.9 L222.7 257.9 L223.8 258.5 L224.7 257.5 L225.6 256.7 L226.5 255.8 L227.4 254.1 L228.5 254.6 L229.6 256.4 L230.5 255.0 L231.5 253.7 L232.6 255.6 L233.6 256.3 L234.6 254.7 L235.6 256.9 L236.6 258.3 L237.6 256.4 L238.6 256.8 L239.6 256.6 L240.6 257.3 L241.6 256.8 L242.7 254.7 L243.6 254.4 L244.6 256.1 L245.6 257.2 L246.6 257.2 L247.6 254.7 L248.6 256.4 L249.6 257.3 L250.6 257.8 L251.6 257.7 L252.6 258.5 L253.6 257.9 L254.6 256.4 L255.6 256.3 L256.6 257.0 L257.6 255.4 L258.6 256.0 L259.6 255.8 L260.6 255.3 L261.6 255.3 L262.6 255.0 L263.6 255.6 L264.6 255.6 L265.6 256.7 L266.7 259.0 L267.7 258.3 L268.6 256.9 L269.6 255.7 L270.5 253.9 L271.6 254.7 L272.6 256.7 L273.6 256.0 L274.6 256.3 L275.6 256.3 L276.6 255.5 L277.6 254.9 L278.6 254.3 L279.6 255.8 L280.6 256.0 L281.6 255.3 L282.6 256.1 L283.6 256.3 L284.6 256.6 L285.5 253.4 L286.6 254.4 L287.6 256.4 L288.6 254.9 L289.5 252.4 L290.6 255.2 L291.6 255.4 L292.6 254.3 L293.6 255.4 L294.6 255.6 L295.6 255.4 L296.6 255.0 L297.6 254.8 L298.6 254.9 L299.6 254.6 L300.6 253.8 L301.6 254.0 L302.6 255.5 L303.6 254.4 L304.6 255.3 L305.6 254.7 L306.6 254.2 L307.6 255.7 L308.6 255.4 L309.7 255.8 L310.6 253.7 L311.6 253.8 L312.6 254.9 L313.6 254.4 L314.7 255.7 L315.6 254.6 L316.6 254.2 L317.6 255.3 L318.6 254.8 L319.6 253.5 L320.6 253.0 L321.6 254.2 L322.7 255.4 L323.6 254.2 L324.5 252.7 L325.6 254.1 L326.6 253.9 L327.6 253.1 L328.7 255.0 L329.5 252.1 L330.5 252.7 L331.6 253.8 L332.7 254.6 L333.8 256.3 L334.7 255.1 L335.6 254.1 L336.7 254.9 L337.6 253.8 L338.5 252.3 L339.6 253.7 L340.7 254.0 L341.6 252.8 L342.6 252.7 L343.5 252.6 L344.5 252.3 L345.6 252.8 L346.7 254.0 L347.6 253.1 L348.5 251.2 L349.5 251.4 L350.5 251.2 L351.4 250.7 L352.6 252.5 L353.7 254.5 L354.7 253.8 L355.5 251.4 L356.5 251.6 L357.5 250.7 L358.4 249.6 L359.6 252.2 L360.6 253.2 L361.5 251.0 L362.4 249.3 L363.5 250.8 L364.6 251.9 L365.5 250.8 L366.5 251.1 L367.4 248.4 L368.4 249.3 L369.5 250.2 L370.5 251.1 L371.5 249.7 L372.4 249.2 L373.5 250.0 L374.5 250.4 L375.5 250.6 L376.5 251.1 L377.5 251.2 L378.5 251.1 L379.5 249.8 L380.5 250.3 L381.4 248.3 L382.5 250.2 L383.6 253.1 L384.6 251.6 L385.5 248.7 L386.5 249.8 L387.5 250.9 L388.5 250.1 L389.5 250.3 L390.5 249.1 L391.5 248.8 L392.5 250.6 L393.6 251.9 L394.5 251.1 L395.5 249.8 L396.5 250.2 L397.6 251.1 L398.6 251.1 L399.5 249.8 L400.5 249.7 L401.6 250.9 L402.6 253.9 L403.5 247.8 L404.5 249.3 L405.5 250.5 L406.6 250.8 L407.5 250.6 L408.5 249.4 L409.5 249.0 L410.5 248.7 L411.5 247.1 L412.5 248.6 L413.5 248.9 L414.5 250.1 L415.5 249.6 L416.5 248.7 L417.5 249.1 L418.5 250.2 L419.6 250.8 L420.5 249.4 L421.5 249.8 L422.6 250.1 L423.5 249.2 L424.6 253.1 L425.6 251.0 L426.6 251.1 L427.6 251.4 L428.6 250.7 L429.6 250.0 L430.5 248.6 L431.5 249.0 L432.6 249.8 L433.6 249.8 L434.6 249.7 L435.5 248.7 L436.5 248.0 L437.5 249.0 L438.6 250.6 L439.5 249.4 L440.5 249.2 L441.6 250.4 L442.6 249.5 L443.5 248.2 L444.5 248.0 L445.5 249.1 L446.6 250.0 L447.5 248.8 L448.5 247.5 L449.5 248.2 L450.6 249.5 L451.6 249.4 L452.5 248.4 L453.6 249.0 L454.5 248.4 L455.5 248.0 L456.5 246.2 L457.6 248.7 L458.5 247.6 L459.5 248.3 L460.6 248.8 L461.6 248.5 L462.6 248.7 L463.5 244.8 L464.5 248.1 L465.5 247.5 L466.6 248.4 L467.6 249.7 L468.6 250.3 L469.6 248.9 L470.6 248.7 L471.6 249.8 L472.6 249.0 L473.6 248.8 L474.6 249.4 L475.6 250.3 L476.6 249.0 L477.6 248.1 L478.6 248.8 L479.6 248.2 L480.6 249.1 L481.7 249.8 L482.9 248.3 L484.2 247.6 L485.5 248.5 L486.8 247.7 L488.1 248.2 L489.4 249.2 L490.7 248.7 L491.9 249.1 L492.9 250.3 L494.0 250.1 L495.0 248.7 L495.6 250.0 L496.2 250.0 L497.0 248.6 L498.2 248.8 L497.3 249.8 L496.1 251.0 L496.5 252.0 L496.5 252.3 L496.6 252.9 L496.4 253.8 L495.9 254.6 L494.3 252.9 L493.6 253.8 L492.4 253.2 L491.4 254.1 L490.5 255.7 L489.2 256.1 L487.8 255.0 L486.5 255.3 L485.3 255.9 L483.7 254.3 L482.6 255.1 L481.5 255.8 L480.7 257.4 L479.7 257.2 L478.9 258.3 L477.8 258.1 L476.6 257.2 L475.8 258.1 L474.7 257.7 L473.5 257.1 L472.8 258.3 L471.9 259.2 L471.7 263.0 L470.0 260.0 L468.3 256.9 L467.6 258.3 L466.9 259.7 L465.9 259.8 L464.9 259.8 L463.7 259.3 L462.9 260.2 L462.3 261.9 L461.3 262.3 L460.1 261.6 L458.9 260.5 L458.0 261.1 L457.6 263.9 L456.4 263.4 L455.3 263.0 L454.0 261.7 L453.2 262.6 L452.3 263.2 L451.2 262.8 L450.2 263.2 L449.3 263.4 L448.2 263.3 L447.6 265.3 L446.6 265.5 L446.1 268.0 L444.5 265.2 L443.4 264.7 L442.4 264.6 L441.4 264.7 L440.1 263.5 L439.2 264.3 L438.6 266.3 L437.8 267.1 L436.4 265.6 L435.4 265.5 L434.7 266.9 L433.6 266.9 L432.5 266.2 L431.5 266.2 L430.5 266.3 L429.6 267.2 L428.8 268.0 L427.7 267.8 L426.8 268.3 L425.9 269.3 L425.0 269.6 L423.9 269.3 L422.7 268.4 L421.1 265.2 L420.3 266.6 L420.0 270.4 L418.7 268.9 L417.5 267.9 L416.7 269.0 L415.8 269.4 L414.9 270.1 L414.1 271.1 L412.9 270.3 L411.6 268.9 L410.7 269.4 L409.6 269.3 L408.3 267.5 L407.8 270.1 L407.1 272.2 L406.1 272.2 L405.5 274.6 L404.1 272.3 L403.1 272.4 L401.9 271.6 L400.8 271.1 L399.9 271.7 L399.1 272.5 L398.1 272.8 L396.8 271.1 L396.2 273.7 L395.1 273.0 L394.3 274.2 L393.3 274.3 L392.2 274.3 L390.9 272.3 L390.0 272.9 L389.4 275.2 L388.2 274.6 L387.1 274.0 L386.6 277.2 L385.6 277.2 L384.2 274.9 L383.2 274.6 L382.1 274.4 L381.1 274.3 L380.2 275.3 L379.5 277.2 L378.2 275.0 L377.4 276.8 L376.3 275.7 L375.4 276.7 L374.5 277.7 L373.4 276.8 L372.5 277.8 L371.7 279.6 L370.6 278.6 L369.4 277.2 L368.4 277.0 L367.7 279.4 L366.6 279.1 L365.5 278.6 L364.5 278.3 L363.4 277.5 L362.4 277.9 L361.0 274.6 L360.5 278.2 L359.2 276.5 L358.3 277.1 L357.3 277.5 L356.3 277.6 L355.4 278.5 L354.5 278.9 L353.4 278.4 L352.6 279.9 L351.7 280.2 L350.6 280.1 L349.7 280.5 L348.6 280.3 L347.6 280.1 L346.6 280.0 L345.6 280.5 L344.4 279.3 L343.8 281.6 L342.5 280.0 L341.4 279.6 L340.5 280.3 L339.7 281.4 L338.9 282.5 L337.8 282.4 L337.0 283.7 L336.0 283.7 L334.8 282.3 L333.7 282.2 L332.7 281.8 L331.7 282.3 L330.9 283.4 L329.9 283.4 L328.9 283.7 L327.9 283.7 L327.2 286.0 L325.8 283.5 L324.9 284.0 L323.8 283.7 L322.7 282.5 L321.8 283.4 L320.9 284.2 L319.8 283.6 L318.9 284.4 L317.7 283.1 L316.9 284.7 L316.2 286.9 L315.2 286.8 L314.2 286.7 L312.7 283.9 L311.6 283.0 L310.5 282.8 L309.8 284.3 L308.7 283.8 L307.9 285.5 L307.0 286.2 L305.8 285.0 L304.8 285.3 L304.0 286.5 L302.9 286.1 L302.2 287.8 L301.4 288.9 L300.2 287.8 L299.0 287.1 L298.2 288.1 L297.3 288.9 L296.3 288.8 L295.3 288.6 L294.2 288.3 L293.1 288.3 L292.2 288.8 L291.5 290.1 L290.7 291.1 L289.4 290.0 L288.5 290.7 L287.3 289.8 L286.5 290.5 L285.6 291.5 L284.5 290.8 L283.5 290.9 L282.7 292.1 L281.7 292.3 L280.6 291.9 L279.1 289.8 L278.5 291.5 L277.9 293.6 L276.7 292.6 L275.5 292.1 L275.0 294.0 L274.2 295.0 L272.1 290.9 L271.7 293.4 L270.9 294.2 L270.1 295.1 L270.2 299.4 L268.2 295.7 L266.9 294.6 L265.3 292.7 L264.9 295.2 L264.0 295.7 L263.0 295.8 L262.1 296.3 L261.4 297.5 L260.2 296.8 L259.2 296.9 L258.3 297.6 L257.2 297.3 L256.2 297.4 L255.2 297.4 L254.2 297.5 L253.1 297.5 L252.3 298.4 L251.2 298.2 L250.2 298.1 L249.6 299.9 L248.5 299.6 L247.2 298.5 L246.5 299.7 L245.7 300.9 L244.2 298.7 L243.7 301.1 L242.7 301.2 L241.8 302.0 L240.5 300.4 L239.6 301.2 L238.8 302.4 L237.7 301.9 L236.4 300.4 L235.4 300.5 L234.6 301.3 L233.6 301.8 L233.0 303.5 L231.8 302.6 L230.5 301.9 L230.1 304.0 L229.1 304.2 L227.7 302.9 L227.0 304.0 L226.1 304.6 L225.1 304.7 L224.2 305.1 L223.4 306.0 L222.5 306.4 L221.5 306.5 L220.7 307.3 L219.7 307.5 L218.8 307.9 L217.8 308.2 L216.5 307.5 L215.8 308.6 L214.7 308.3 L213.0 306.7 L212.0 306.7 L211.8 309.2 L210.8 309.5 L209.6 308.8 L208.9 310.0 L208.1 310.8 L207.2 311.1 L205.8 310.1 L204.7 310.1 L204.1 311.6 L203.5 312.7 L202.5 313.0 L201.3 312.5 L199.8 311.3 L199.2 312.7 L198.7 314.2 L197.6 314.1 L196.8 315.0 L195.7 314.8 L194.5 314.2 L193.9 315.7 L193.3 317.1 L191.8 315.7 L191.2 317.1 L189.7 315.9 L189.0 316.8 L188.3 317.8 L187.1 317.5 L186.2 317.9 L185.6 319.3 L184.6 319.3 L183.2 318.3 L182.5 319.4 L181.5 319.6 L180.1 318.9 L179.7 320.5 L179.0 321.3 L177.8 321.1 L176.7 321.1 L175.6 321.0 L175.2 322.7 L174.8 324.3 L173.2 323.2 L171.9 322.6 L171.1 323.4 L170.1 323.7 L168.9 323.3 L168.4 324.7 L167.6 325.4 L166.5 325.5 L165.7 326.2 L164.2 325.2 L163.9 327.0 L163.2 328.0 L162.0 327.7 L161.3 328.5 L160.3 328.8 L160.1 330.8 L159.0 330.7 L157.6 330.1 L156.1 329.4 L155.6 330.7 L155.5 332.6 L152.3 328.7 L151.9 330.2 L151.7 331.8 L150.9 332.4 L151.1 334.7 L149.8 334.4 L149.2 335.2 L147.8 335.0 L146.5 334.9 L146.2 336.2 L146.2 337.8 L145.8 338.8 L144.9 339.3 L143.8 339.5 L142.6 339.7 L142.1 340.6 L142.1 342.2 L140.0 341.3 L138.7 341.4 L138.2 342.2 L139.7 345.8 L137.6 344.7 L135.8 344.0 L135.2 344.9 L134.9 346.3 L134.0 346.7 L133.1 347.1 L132.0 347.3 L131.6 348.5 L131.0 349.4 L129.5 348.9 L128.1 348.7 L127.3 349.3 L126.6 350.1 L126.3 351.4 L126.0 352.7 L124.7 352.6 L124.0 353.3 L123.9 354.8 L123.4 355.8 L122.8 356.6 L121.5 356.6 L121.1 357.7 L119.8 357.7 L118.8 358.1 L118.5 359.3 L117.6 359.7 L117.0 360.5 L115.5 360.4 L114.7 361.0 L114.6 362.3 L114.3 363.4 L114.0 364.4 L112.8 364.7 L112.1 365.4 L111.6 366.3 L110.7 366.8 L108.9 366.7 L110.9 369.6 L108.8 369.1 L108.3 370.0 L106.2 369.7 L104.5 369.6 L105.0 371.2 L104.8 372.4 L104.9 373.7 L104.7 374.9 L103.6 375.3 L102.8 375.9 L103.8 377.9 L102.7 378.3 L101.3 378.6 L100.1 379.0 L101.1 380.8 L100.7 381.7 L98.2 381.3 L98.1 382.4 L98.2 383.7 L99.8 385.8 L96.8 385.2 L96.6 386.3 L97.5 387.8 L96.5 388.5 L93.8 388.3 L93.6 389.4 L95.6 391.2 L94.6 391.8 L93.3 392.5 L92.2 393.2 L93.0 394.4 L94.9 395.9 L94.1 396.7 L92.5 397.4 L91.8 398.3 L91.2 399.2 L92.2 400.4 L93.4 401.6 L93.4 402.6 L90.9 403.2 L90.4 404.2 L91.1 405.3 L92.0 406.5 L91.1 407.4 L89.4 408.1 L88.0 409.0 L88.7 410.1 L89.3 411.2 L89.9 412.2 L91.3 413.4 L91.2 414.4 L90.6 415.3 L90.7 416.4 L90.6 417.4 L90.0 418.3 L89.8 419.3 L89.2 420.2 L88.9 421.2 L89.3 422.2 L88.1 423.2 L87.8 424.2 L88.7 425.2 L88.0 426.3 L88.9 427.5 L88.6 428.8 L89.1 430.1 L88.7 431.4 L87.0 432.7 L87.0 434.0 L88.4 435.3 L90.3 436.4 L90.2 437.5 L89.4 438.4 L88.0 439.0 L88.2 439.6 L88.9 440.1 L88.4 439.2 L87.3 439.5 L86.1 439.8 L86.1 438.7 L85.8 440.3 L85.4 440.5 L85.8 440.1 L85.0 440.5 L84.1 440.8 L83.7 440.8 L85.1 440.1 L85.9 439.8 L85.8 439.8 L84.7 440.0 L84.9 439.9 L83.1 440.2 L84.5 439.8 L83.6 439.9 L84.9 439.6 L86.1 439.3 L85.2 439.3 L88.2 438.8 L86.6 439.0 L87.4 438.8 L86.3 438.8 L85.5 438.8 L87.2 438.5 L87.1 438.4 L86.7 438.3 L84.8 438.4 L84.8 438.3 L86.6 438.0 L84.3 438.0 L84.8 437.8 L86.8 437.5 L87.1 437.4 L87.2 437.2 L86.3 437.1 L85.0 437.0 L84.7 436.9 L85.1 436.7 L85.7 436.5 L85.4 436.3 L85.1 436.1 L86.1 435.9 L86.3 435.7 L87.2 435.4 L88.5 435.1 L86.1 435.0 L85.3 434.9 L84.1 434.7 L83.6 434.5 L84.9 434.2 L85.0 434.0 L83.9 433.8 L84.4 433.5 L85.7 433.2 L85.6 432.9 L84.9 432.7 L85.7 432.4 L86.2 432.1 L85.9 431.9 L86.2 431.6 L85.2 431.3 L84.7 431.1 L84.9 430.8 L85.5 430.4 L86.5 430.1 L85.0 429.8 L85.4 429.5 L85.3 429.2 L85.2 428.9 L86.1 428.5 L84.7 428.3 L83.7 427.9 L84.1 427.6 L83.6 427.3 L83.5 426.9 L83.9 426.6 L84.5 426.2 L84.1 425.8 L85.1 425.4 L83.7 425.1 L84.0 424.7 L83.8 424.3 L82.4 424.0 L82.8 423.6 L84.4 423.1 L85.5 422.7 L85.3 422.3 L85.7 421.9 L87.0 421.5 L86.7 421.0 L85.6 420.6 L86.1 420.2 L84.8 419.8 L85.0 419.4 L86.0 418.9 L85.7 418.4 L84.9 418.0 L83.6 417.6 L84.3 417.1 L85.6 416.6 L84.2 416.2 L85.0 415.7 L85.0 415.2 L87.1 414.7 L87.5 414.2 L85.9 413.7 L84.3 413.2 L83.6 412.7 L84.9 412.2 L85.8 411.7 L86.4 411.2 L84.4 410.7 L83.4 410.2 L85.2 409.6 L86.1 409.1 L86.8 408.5 L85.3 408.0 L83.8 407.4 L83.4 406.9 L84.6 406.3 L84.4 405.8 L84.6 405.2 L86.2 404.6 L85.7 404.0 L83.5 403.5 L82.7 402.9 L84.7 402.3 L85.9 401.7 L83.5 401.1 L84.4 400.5 L85.2 399.8 L85.5 399.2 L85.0 398.6 L84.5 398.0 L84.3 397.4 L84.5 396.7 L85.0 396.1 L85.0 395.4 L85.2 394.8 L82.4 394.2 L87.6 393.5 L85.3 392.8 L85.2 392.1 L85.4 391.5 L85.2 390.8 L86.2 390.1 L85.2 389.4 L84.2 388.8 L84.5 388.1 L84.5 387.4 L83.5 386.7 L83.3 385.9 L84.2 385.2 L83.8 384.5 L83.8 383.8 L83.3 383.1 L84.4 382.3 L85.8 381.6 L86.1 380.8 L85.2 380.1 L83.0 379.4 L83.8 378.6 L86.5 377.8 L83.4 377.1 L84.1 376.3 L86.1 375.5 L84.4 374.7 L84.6 373.9 L85.7 373.2 L86.1 372.4 L83.9 371.6 L84.2 370.8 L84.1 370.0 L83.5 369.2 L83.6 368.3 L82.9 367.5 L84.7 366.7 L84.9 365.8 L83.5 365.0 L83.5 364.2 L83.7 363.3 L85.1 362.5 L84.2 361.6 L82.6 360.8 L83.9 359.9 L83.6 359.0 L82.9 358.2 L84.3 357.3 L85.1 356.4 L84.0 355.5 L83.5 354.6 L83.2 353.7 L83.2 352.8 L84.0 351.9 L85.2 351.0 L85.8 350.1 L84.5 349.2 L83.4 348.3 L84.2 347.3 L83.5 346.4 L82.7 345.5 L83.7 344.5 L83.2 343.6 L82.8 342.6 L83.8 341.6 L83.3 340.7 L82.4 339.7 L83.7 338.7 L83.8 337.8 L83.3 336.8 L84.0 335.8 L85.2 334.8 L83.8 333.8 L80.2 332.8 L83.5 331.8 L83.0 330.8 L84.3 329.8 L85.1 328.8 L81.3 327.8 L84.8 326.7 L84.3 325.7 L84.1 324.7 L84.6 323.6 L83.5 322.6 L84.0 321.5 L83.6 320.5 L83.5 319.4 L84.0 318.3 L83.8 317.3 L85.4 316.2 L85.5 315.1 L84.1 314.0 L83.7 313.0 L83.8 311.9 L83.0 310.8 L82.5 309.7 L83.3 308.6 L84.5 307.4 L83.2 306.3 L82.8 305.2 L84.3 304.1 L84.5 303.0 L83.4 301.8 L84.9 300.7 L83.9 299.5 L83.7 298.4 L84.5 297.2 L83.7 296.1 L82.8 294.9 L84.4 293.7 L84.4 292.6 L83.7 291.4 L83.3 290.2 L82.8 289.0 L83.1 287.8 L84.5 286.6 L83.9 285.4 L82.9 284.2 L83.0 283.0 L83.7 281.8 L84.0 280.6 L84.0 279.4 L81.5 278.2 L83.1 276.9 L81.2 275.7 L82.5 274.4 L85.4 273.2 L84.0 271.9 L82.5 270.7 L84.7 269.4 L84.8 268.2 L86.1 266.9 L82.1 265.6 L84.8 264.3 L84.2 263.1 L83.7 261.8 L83.9 260.5 L84.5 259.2 L85.2 257.9 L85.1 256.6 L84.4 255.3 L84.4 253.9 L83.9 252.6 L83.5 251.3 L82.4 250.0 L81.4 248.6 L83.8 247.3 L84.1 246.0 L84.5 244.6 L82.9 243.3 L83.9 241.9 L85.4 240.5 L84.3 239.2 L84.2 237.8 L84.4 236.4 L85.1 235.0 L85.1 233.6 L83.1 232.3 L82.7 230.9 L84.6 229.5 L84.8 228.1 L84.0 226.7 L84.0 225.2 L84.4 223.8 L84.4 222.4 L83.2 221.0 L82.4 219.5 L83.7 218.1 L84.2 216.7 L84.0 215.2 L85.5 213.8 L85.0 212.3 L83.9 210.8 L83.7 209.4 L82.9 207.9 L83.4 206.4 L82.8 205.0 L81.4 203.5 L83.4 202.0 L84.8 200.5 L84.6 199.0 L84.8 197.5 L84.1 196.0 L84.5 194.5 L83.2 193.0 L83.6 191.4 L83.9 189.9 L84.1 188.4 L83.4 186.9 L85.8 185.3 L85.7 183.8 L85.1 182.2 L84.8 180.7 L84.1 179.1 L85.0 177.6 L84.2 176.0 L83.6 174.4 L82.7 172.8 L83.5 171.3 L83.0 169.7 L82.2 168.1 L83.7 166.5 L83.9 164.9 L85.2 163.3 L82.5 161.7 L82.5 160.1 L83.7 158.4 L83.7 156.8 L83.8 155.2 L85.0 153.6 L83.9 151.9 L82.2 150.3 L82.6 148.6 L84.0 147.0 L83.0 145.3 L82.9 143.7 L83.5 142.0 L84.6 140.3 L81.7 138.7 L82.8 137.0 L83.1 135.3 L86.1 133.6 L84.8 131.9 L84.5 130.2 L82.7 128.5 L83.1 126.8 L83.3 125.1 L83.5 123.4 L83.4 121.7 L83.0 120.0 L83.0 118.2 L83.7 116.5 L83.5 114.7 L83.0 113.0 L81.5 111.3 L83.4 109.5 L83.6 107.7 L82.1 106.0 L82.1 104.2 L82.3 102.4 L84.8 100.7 L86.3 98.9 L84.5 97.1 L83.6 95.3 L83.9 93.5 L82.6 91.7 L83.5 89.9 L85.1 88.1 L85.0 86.3 L84.5 84.5 L84.4 82.7 L84.1 80.8 L84.0 79.0 L84.1 77.2 L84.1 75.3 L83.4 73.5 L82.8 71.6 L83.8 69.8 L84.0 67.9 L82.0 66.1 L82.3 64.2 L82.4 62.3 L83.6 60.4 L85.7 58.6 L84.8 56.7 L83.9 54.8 L82.6 52.9 L83.0 51.0 L83.7 49.1 L83.4 47.2 L83.4 45.3 L84.4 43.3 L84.7 41.4 L83.6 39.5 L81.7 37.5 L82.4 35.6 L85.3 33.7 L83.7 31.7 L85.3 29.8 L87.4 27.8 L85.2 25.9 L84.8 23.9 L85.7 21.9 L85.0 19.9 L85.4 18.0 L84.6 16.0 L84.4 14.0Z"/>
<clipPath id="cbp"><use href="#bp"/></clipPath>
<clipPath id="cpl"><path d="M86.5 13.5H683V439H90.5Z"/></clipPath>
<pattern id="sp1" width="61" height="53" patternUnits="userSpaceOnUse"><path d="M52 25h1v1h-1zM25 45h1v1h-1zM59 40h1v1h-1zM55 15h1v2h-1zM7 16h1v1h-1zM31 6h2v2h-2zM48 21h1v1h-1zM48 47h1v2h-1zM41 13h1v1h-1zM37 47h1v1h-1zM11 24h1v1h-1zM18 21h1v2h-1zM27 48h1v1h-1zM5 34h1v1h-1zM21 26h2v1h-2zM55 13h1v1h-1zM40 10h1v1h-1zM41 33h1v1h-1zM37 11h1v1h-1zM18 40h1v1h-1zM44 31h1v1h-1zM59 33h1v1h-1zM58 3h1v1h-1zM47 41h1v1h-1zM41 22h2v2h-2zM12 12h1v1h-1zM25 14h1v1h-1zM36 47h1v1h-1zM52 28h1v1h-1zM59 52h1v1h-1zM44 35h1v1h-1zM26 25h1v2h-1zM11 6h1v1h-1zM22 16h1v2h-1zM29 47h2v1h-2zM46 12h1v1h-1zM59 38h1v1h-1zM57 18h2v2h-2zM58 13h2v1h-2zM35 9h1v2h-1zM34 15h1v2h-1zM5 37h1v2h-1zM31 33h1v1h-1zM2 21h2v2h-2zM32 6h1v1h-1zM44 27h1v1h-1zM45 14h1v1h-1zM52 10h1v1h-1zM39 1h2v1h-2zM29 47h1v1h-1zM28 3h1v1h-1zM60 5h1v1h-1zM54 13h1v1h-1zM29 39h1v2h-1zM1 37h1v2h-1zM43 52h1v1h-1zM42 8h1v1h-1zM13 24h2v1h-2zM7 44h1v1h-1zM32 27h1v1h-1zM0 30h1v2h-1zM15 18h2v1h-2zM9 33h2v1h-2zM3 9h1v1h-1zM25 2h1v1h-1zM41 2h2v2h-2zM19 18h1v1h-1zM14 47h1v1h-1zM4 27h1v2h-1zM9 27h1v1h-1zM9 39h1v1h-1zM55 8h2v1h-2zM54 26h2v2h-2zM21 28h1v2h-1zM26 2h1v1h-1zM18 18h1v2h-1zM46 25h1v1h-1zM23 19h1v1h-1zM20 17h1v1h-1zM39 1h2v1h-2zM38 16h1v2h-1zM12 31h1v1h-1zM9 15h1v1h-1zM30 39h1v1h-1zM10 29h1v1h-1zM35 19h1v2h-1zM4 27h1v1h-1zM20 9h1v1h-1zM6 10h2v1h-2zM56 39h1v1h-1zM51 37h2v1h-2zM20 30h1v1h-1zM38 33h1v1h-1zM50 25h1v1h-1zM15 36h2v1h-2zM16 17h1v1h-1zM10 37h1v1h-1zM45 13h1v1h-1zM59 46h1v1h-1zM7 10h2v1h-2zM45 2h1v1h-1zM25 19h1v1h-1zM35 2h2v1h-2zM15 9h1v2h-1zM2 2h1v1h-1zM55 30h1v1h-1zM45 25h1v1h-1zM43 31h1v2h-1zM27 21h1v2h-1zM18 11h2v1h-2zM34 22h2v1h-2zM20 27h1v2h-1zM45 8h1v1h-1zM33 28h1v1h-1zM38 20h2v1h-2zM1 20h2v2h-2zM1 49h1v1h-1zM6 33h1v2h-1zM60 2h2v1h-2zM34 30h1v1h-1zM2 14h2v1h-2zM42 11h1v1h-1zM27 18h2v2h-2zM59 21h1v1h-1zM32 21h2v1h-2zM0 33h2v1h-2zM43 43h1v1h-1zM41 18h1v2h-1zM49 20h1v1h-1zM35 44h1v1h-1zM20 48h1v1h-1zM28 32h1v1h-1zM37 21h1v1h-1zM2 19h1v2h-1zM45 25h1v1h-1zM35 36h1v2h-1zM34 21h1v1h-1zM12 39h2v1h-2zM26 36h1v1h-1zM8 6h2v2h-2zM22 29h1v1h-1zM58 2h1v1h-1zM46 17h1v1h-1zM23 33h1v1h-1zM10 50h1v1h-1zM48 47h1v1h-1zM17 15h2v1h-2zM38 26h1v1h-1zM8 44h1v1h-1zM34 30h1v1h-1zM54 43h1v1h-1zM60 3h1v2h-1zM17 30h1v1h-1zM52 2h1v1h-1zM37 6h1v1h-1zM50 27h1v1h-1zM2 41h1v1h-1zM51 22h1v1h-1zM57 12h1v1h-1zM2 12h1v1h-1zM36 27h1v1h-1zM8 17h2v1h-2zM43 18h1v2h-1zM55 7h1v1h-1zM46 18h1v1h-1zM36 6h1v1h-1zM29 10h2v1h-2zM31 41h2v1h-2zM13 48h1v1h-1zM45 33h2v2h-2zM57 26h1v1h-1zM19 34h1v1h-1zM1 45h1v1h-1zM17 40h1v1h-1zM9 26h1v1h-1zM60 40h1v1h-1zM24 32h1v2h-1zM52 14h1v1h-1zM15 46h1v1h-1zM59 31h1v1h-1zM27 51h2v1h-2zM43 40h1v1h-1zM25 20h2v1h-2zM22 8h2v1h-2zM19 48h2v1h-2zM32 38h1v1h-1zM2 6h2v2h-2zM47 22h1v2h-1zM51 35h2v2h-2zM34 1h2v1h-2zM52 39h1v1h-1zM39 8h1v1h-1zM10 49h1v1h-1zM13 39h2v2h-2zM30 12h1v1h-1zM54 1h1v1h-1zM8 43h2v1h-2zM57 31h1v1h-1zM3 13h1v1h-1zM10 8h1v1h-1zM28 1h1v1h-1zM43 18h1v1h-1zM11 14h2v1h-2zM9 15h1v1h-1zM7 14h1v1h-1zM42 18h1v1h-1zM9 12h1v1h-1zM11 8h1v2h-1zM8 46h1v1h-1zM10 38h1v1h-1zM42 15h1v2h-1zM38 25h2v1h-2zM12 43h2v1h-2zM19 24h1v1h-1zM56 3h1v2h-1zM6 36h1v1h-1zM42 44h1v1h-1zM56 45h1v1h-1zM48 1h1v2h-1zM10 47h1v1h-1zM32 48h1v1h-1zM14 7h2v2h-2zM38 49h2v1h-2zM52 17h2v1h-2zM12 0h1v1h-1zM57 45h1v1h-1zM40 6h1v1h-1zM58 35h1v1h-1zM50 43h1v2h-1zM31 11h1v1h-1zM43 44h1v1h-1zM7 39h1v1h-1zM40 43h1v2h-1zM51 41h1v2h-1zM28 20h1v1h-1zM29 42h2v1h-2zM47 28h1v1h-1zM19 11h1v1h-1zM60 39h1v2h-1zM12 52h1v1h-1zM2 51h1v1h-1zM32 9h1v2h-1zM53 5h1v1h-1zM21 41h1v1h-1zM37 45h1v1h-1zM34 23h1v1h-1zM47 33h1v1h-1zM52 26h2v1h-2zM44 26h2v1h-2zM10 26h2v1h-2zM50 10h1v1h-1zM20 16h1v2h-1zM16 30h2v2h-2zM46 29h2v2h-2zM42 39h1v2h-1zM58 15h2v2h-2zM21 15h2v1h-2zM21 32h1v1h-1zM50 5h1v1h-1zM10 0h1v1h-1zM38 29h1v1h-1zM7 2h1v1h-1zM3 30h2v1h-2zM41 47h1v1h-1zM47 39h1v1h-1zM35 2h1v1h-1zM46 17h1v1h-1zM32 6h2v1h-2zM37 46h2v1h-2zM51 7h1v1h-1zM45 10h2v2h-2zM48 20h1v1h-1zM59 43h1v1h-1zM55 4h1v1h-1zM31 1h1v1h-1zM33 23h1v1h-1zM59 29h2v1h-2zM4 18h1v1h-1zM27 33h1v1h-1zM46 13h2v2h-2zM4 11h1v1h-1zM38 15h1v2h-1zM9 35h1v2h-1zM4 14h1v2h-1zM40 35h1v1h-1zM13 13h1v2h-1zM43 23h1v1h-1zM8 6h1v1h-1zM11 34h1v1h-1zM54 8h1v2h-1zM47 13h2v1h-2zM52 44h2v1h-2zM49 33h1v1h-1zM48 37h1v1h-1zM24 40h2v1h-2zM54 6h1v1h-1zM7 35h1v1h-1zM59 32h2v1h-2zM32 24h1v1h-1zM5 30h1v1h-1zM55 26h1v1h-1zM43 50h1v1h-1zM9 52h2v1h-2zM23 20h1v1h-1zM8 11h1v1h-1zM26 26h1v1h-1zM40 9h1v1h-1zM9 29h2v1h-2zM30 50h1v1h-1zM45 44h1v1h-1zM50 0h1v1h-1zM5 51h2v1h-2zM56 35h2v1h-2zM9 50h1v1h-1zM1 7h1v1h-1zM36 30h1v1h-1zM33 49h2v2h-2zM29 29h1v1h-1zM13 6h1v2h-1zM43 22h2v1h-2zM32 22h2v1h-2zM26 6h2v2h-2zM7 36h1v1h-1zM57 21h1v1h-1zM29 27h1v2h-1zM53 25h1v1h-1zM13 24h1v1h-1zM36 22h1v1h-1zM53 38h2v1h-2zM32 1h2v2h-2zM10 18h1v1h-1zM54 27h1v2h-1zM24 2h1v2h-1zM39 35h1v1h-1zM56 21h1v1h-1zM10 37h1v1h-1zM36 49h1v1h-1zM22 24h1v2h-1zM20 1h1v2h-1zM28 25h1v1h-1zM11 36h1v1h-1zM29 25h1v1h-1zM30 51h2v1h-2zM45 24h2v1h-2zM9 34h1v1h-1zM26 20h1v1h-1zM10 6h1v1h-1zM9 2h1v1h-1zM42 9h1v1h-1zM51 22h1v1h-1zM9 52h2v1h-2zM38 36h1v1h-1zM33 38h1v1h-1zM24 38h1v1h-1zM14 10h1v1h-1zM39 43h1v1h-1zM23 46h2v2h-2zM20 49h1v1h-1zM8 30h1v1h-1zM4 4h2v1h-2zM21 42h1v1h-1zM10 18h1v1h-1zM56 50h1v1h-1zM38 46h1v1h-1zM12 29h1v1h-1zM28 45h1v1h-1zM16 5h1v1h-1zM51 40h2v1h-2zM53 18h2v1h-2zM21 7h1v1h-1zM5 46h1v1h-1zM52 12h1v1h-1zM40 11h1v1h-1zM49 22h1v1h-1zM37 1h1v2h-1zM30 21h1v1h-1zM58 32h1v1h-1zM40 11h2v1h-2zM14 3h2v2h-2zM53 13h1v1h-1zM16 6h2v2h-2zM41 50h2v1h-2zM49 14h1v1h-1zM43 30h1v1h-1zM56 31h1v2h-1zM19 7h1v1h-1zM4 51h1v2h-1zM16 1h1v1h-1zM38 34h1v2h-1zM7 51h1v1h-1zM23 25h1v1h-1zM46 45h1v1h-1zM52 2h1v1h-1zM39 26h1v1h-1zM17 27h1v1h-1zM7 26h1v1h-1zM21 0h2v1h-2zM41 1h1v1h-1zM10 8h1v1h-1zM21 42h1v2h-1zM29 46h2v1h-2zM36 28h2v1h-2zM49 3h1v1h-1zM48 46h2v1h-2zM35 22h1v1h-1zM27 51h1v1h-1zM2 13h2v2h-2zM31 40h1v2h-1zM28 49h2v2h-2zM54 20h1v1h-1zM8 29h1v1h-1zM34 17h1v1h-1zM29 47h1v1h-1zM31 17h1v1h-1zM16 44h1v1h-1zM39 11h1v2h-1zM12 4h1v1h-1zM7 15h2v1h-2zM38 27h2v1h-2zM43 48h2v2h-2zM2 44h1v1h-1zM2 28h1v1h-1zM48 4h1v1h-1zM52 17h1v1h-1zM33 0h2v2h-2zM24 25h1v1h-1zM35 33h1v1h-1zM22 37h2v2h-2zM8 23h1v1h-1zM26 10h1v1h-1zM23 13h1v1h-1zM30 33h1v1h-1zM42 2h1v1h-1zM0 1h2v1h-2zM53 21h1v1h-1zM32 21h2v1h-2zM35 52h1v1h-1zM2 10h2v1h-2zM18 11h2v1h-2zM1 30h1v1h-1zM8 9h1v1h-1zM52 20h1v2h-1zM21 37h1v1h-1zM16 21h1v1h-1zM27 11h1v2h-1zM44 20h1v1h-1zM35 49h1v1h-1zM15 42h1v1h-1zM2 19h1v1h-1zM10 14h1v1h-1zM38 14h1v1h-1zM56 23h1v1h-1zM23 20h1v2h-1zM51 39h1v1h-1zM54 10h1v1h-1zM51 33h1v1h-1zM27 16h1v1h-1zM14 36h1v1h-1zM20 34h1v2h-1zM27 46h1v1h-1zM10 46h1v1h-1zM41 0h2v1h-2zM42 48h1v1h-1zM9 39h1v1h-1zM60 48h1v1h-1zM57 25h1v2h-1zM40 16h1v1h-1zM14 5h1v1h-1zM26 28h1v2h-1zM28 19h1v1h-1zM37 12h1v1h-1zM27 3h1v1h-1zM16 11h1v2h-1zM47 22h1v1h-1zM38 28h1v1h-1zM52 32h2v1h-2zM58 30h1v1h-1zM35 31h1v1h-1zM54 26h1v1h-1zM8 10h1v1h-1zM6 40h1v1h-1zM54 40h1v1h-1zM57 33h2v1h-2zM25 4h2v1h-2zM35 39h1v1h-1zM52 13h1v1h-1zM25 31h1v1h-1zM27 27h2v1h-2zM48 41h2v2h-2zM22 51h1v1h-1zM60 47h1v2h-1zM21 52h2v1h-2zM22 50h2v2h-2zM59 7h1v1h-1zM47 29h1v2h-1zM11 28h1v1h-1zM43 45h1v1h-1zM55 43h1v1h-1zM34 27h1v1h-1zM7 42h1v1h-1zM58 17h1v1h-1zM46 34h1v1h-1zM52 47h1v1h-1zM44 48h1v1h-1zM7 50h1v2h-1zM58 15h1v1h-1zM18 3h1v1h-1zM7 35h1v1h-1zM55 22h1v1h-1zM14 41h1v1h-1zM21 44h2v1h-2zM36 21h2v2h-2zM6 30h1v1h-1zM56 28h1v1h-1zM12 27h1v1h-1zM15 32h1v1h-1zM11 35h1v1h-1zM10 52h2v1h-2zM49 0h1v1h-1zM30 26h1v1h-1zM18 25h2v1h-2zM45 49h1v1h-1zM55 33h1v1h-1zM40 20h2v2h-2zM58 3h1v1h-1zM44 26h2v1h-2zM33 50h2v2h-2zM8 49h2v1h-2zM18 23h1v1h-1zM51 45h2v1h-2zM37 37h2v1h-2zM9 48h1v1h-1zM3 13h1v1h-1zM8 12h2v1h-2zM45 19h1v1h-1zM43 7h1v1h-1zM45 30h2v1h-2zM35 50h2v1h-2zM52 8h1v1h-1zM56 51h1v1h-1zM32 28h2v1h-2zM26 33h1v1h-1zM36 25h1v1h-1zM52 28h1v1h-1zM43 51h1v1h-1zM0 35h2v1h-2zM51 13h1v1h-1zM55 32h1v2h-1zM46 47h1v2h-1zM31 10h1v2h-1zM11 4h1v1h-1zM1 43h1v1h-1zM51 41h2v1h-2zM41 48h1v2h-1zM42 38h1v1h-1zM47 6h1v1h-1zM27 16h1v1h-1zM11 52h1v2h-1zM4 4h1v1h-1zM31 42h1v1h-1zM37 27h1v2h-1zM40 48h1v1h-1zM2 43h1v1h-1zM54 1h1v1h-1zM20 47h1v1h-1zM10 8h2v2h-2zM39 22h1v2h-1zM51 14h1v1h-1zM11 48h1v1h-1zM10 49h2v1h-2zM36 44h1v1h-1zM24 37h1v2h-1zM21 35h1v2h-1zM33 48h1v1h-1zM51 49h2v1h-2zM53 48h1v1h-1zM41 15h1v1h-1zM57 1h2v1h-2zM2 51h1v1h-1zM48 51h1v2h-1zM11 32h1v1h-1zM24 10h2v2h-2zM58 49h1v2h-1zM47 17h2v1h-2zM18 28h1v2h-1zM24 30h1v1h-1zM60 14h1v1h-1zM29 17h1v1h-1zM29 0h1v1h-1zM15 49h1v1h-1zM53 11h2v2h-2zM7 46h1v2h-1zM55 6h2v1h-2zM29 17h2v1h-2zM49 19h1v1h-1zM29 51h1v2h-1zM20 34h1v1h-1zM7 30h2v1h-2zM34 22h1v1h-1zM48 14h1v1h-1zM50 15h1v1h-1zM29 15h1v2h-1zM22 27h1v1h-1zM7 6h2v1h-2zM27 49h1v1h-1zM26 30h1v1h-1zM34 23h2v1h-2zM52 42h1v2h-1zM53 11h1v1h-1zM27 8h1v1h-1zM5 18h1v1h-1zM21 26h1v1h-1zM21 26h1v1h-1zM27 9h1v2h-1zM51 34h1v1h-1zM23 40h2v2h-2zM58 45h1v1h-1zM7 34h1v1h-1zM3 23h1v1h-1zM55 6h2v2h-2zM30 24h1v1h-1zM57 24h1v1h-1zM10 8h2v1h-2zM48 33h2v1h-2zM40 44h1v2h-1zM37 52h2v1h-2zM26 52h2v2h-2zM10 10h1v1h-1zM37 25h1v1h-1zM59 5h1v1h-1zM44 41h1v1h-1zM48 35h2v1h-2zM3 33h1v1h-1zM40 20h2v1h-2zM60 19h2v2h-2zM18 50h1v1h-1zM58 51h1v1h-1zM60 25h1v2h-1zM47 4h1v1h-1zM60 22h1v1h-1zM55 22h1v1h-1zM35 48h1v1h-1zM8 7h2v1h-2zM11 28h2v1h-2zM47 44h1v2h-1zM28 16h1v1h-1zM38 32h1v1h-1zM27 31h1v1h-1zM22 25h1v2h-1zM13 3h1v1h-1zM19 49h1v2h-1zM21 1h2v1h-2zM8 31h1v1h-1zM22 21h1v1h-1zM22 32h1v1h-1zM29 0h1v1h-1zM36 12h1v1h-1zM43 10h1v1h-1zM0 5h1v1h-1zM26 17h1v1h-1zM3 20h1v2h-1zM3 41h1v1h-1zM56 5h1v1h-1zM2 4h1v2h-1zM15 19h2v2h-2zM36 19h1v1h-1zM52 3h1v1h-1zM32 9h2v2h-2zM8 52h1v1h-1zM49 33h2v1h-2zM17 23h2v2h-2zM49 12h1v2h-1zM3 1h1v1h-1zM47 32h2v1h-2zM19 9h1v1h-1zM18 48h1v1h-1zM23 15h1v1h-1zM9 52h1v1h-1zM28 9h1v1h-1zM29 52h1v1h-1zM13 39h1v1h-1zM36 22h1v1h-1zM44 38h1v1h-1zM46 22h1v1h-1zM54 21h1v1h-1zM20 16h1v1h-1zM58 46h1v1h-1zM5 20h1v1h-1zM56 8h2v1h-2zM39 8h1v2h-1zM27 1h1v1h-1zM20 27h1v1h-1zM48 24h1v2h-1zM37 39h1v2h-1zM20 41h1v2h-1zM25 42h1v2h-1zM52 40h1v1h-1zM50 27h2v1h-2zM0 26h1v1h-1zM50 17h1v1h-1z" fill="#000"/></pattern>
<pattern id="sp2" width="67" height="59" patternUnits="userSpaceOnUse"><path d="M5 53h1v1h-1zM23 1h1v1h-1zM17 58h1v1h-1zM34 58h1v1h-1zM44 2h2v2h-2zM42 15h2v2h-2zM2 15h1v1h-1zM14 57h1v1h-1zM66 48h1v2h-1zM58 23h1v1h-1zM49 47h1v1h-1zM10 21h1v1h-1zM30 53h1v1h-1zM29 32h2v1h-2zM7 15h1v1h-1zM64 42h2v2h-2zM42 25h1v1h-1zM20 20h1v1h-1zM61 18h1v1h-1zM27 37h2v1h-2zM48 42h2v1h-2zM23 8h2v1h-2zM66 12h1v2h-1zM56 52h1v1h-1zM31 56h1v1h-1zM20 43h2v1h-2zM15 39h1v1h-1zM16 34h2v2h-2zM40 48h1v1h-1zM47 57h1v2h-1zM29 26h1v2h-1zM54 15h1v1h-1zM10 29h1v2h-1zM33 41h1v1h-1zM52 29h2v1h-2zM49 43h2v2h-2zM30 8h2v1h-2zM18 39h1v1h-1zM16 56h1v1h-1zM44 37h2v2h-2zM5 31h2v1h-2zM18 34h1v2h-1zM37 39h1v1h-1zM52 3h1v2h-1zM21 44h1v1h-1zM60 51h2v1h-2zM38 35h2v1h-2zM13 54h1v1h-1zM14 3h2v1h-2zM22 18h2v1h-2zM29 40h2v1h-2zM61 47h1v1h-1zM26 10h1v1h-1zM22 9h1v1h-1zM15 15h2v2h-2zM7 49h2v1h-2zM51 51h1v1h-1zM5 31h1v1h-1zM17 2h1v1h-1zM47 48h1v1h-1zM19 53h1v1h-1zM5 29h1v1h-1zM26 50h1v1h-1zM15 13h1v1h-1zM37 9h2v1h-2zM40 21h1v1h-1zM9 20h1v2h-1zM34 30h1v1h-1zM14 55h1v2h-1zM61 57h2v1h-2zM46 13h1v1h-1zM53 46h1v1h-1zM61 26h1v1h-1zM33 26h1v1h-1zM24 10h1v1h-1zM47 8h1v1h-1zM4 40h2v1h-2zM1 25h1v1h-1zM33 57h1v1h-1zM13 28h1v1h-1zM11 44h2v1h-2zM6 42h1v1h-1zM45 27h1v2h-1zM32 55h1v1h-1zM38 37h1v2h-1zM23 19h1v1h-1zM35 44h1v1h-1zM41 20h1v2h-1zM39 44h1v1h-1zM19 29h2v1h-2zM4 53h2v1h-2zM21 13h1v1h-1zM25 56h1v2h-1zM36 25h1v1h-1zM21 45h1v1h-1zM43 15h1v1h-1zM21 57h1v1h-1zM4 1h1v1h-1zM7 8h2v1h-2zM43 21h2v1h-2zM39 16h2v1h-2zM56 29h2v2h-2zM0 45h1v1h-1zM49 57h1v1h-1zM51 27h1v1h-1zM60 1h1v1h-1zM20 4h1v1h-1zM33 7h1v1h-1zM36 32h1v1h-1zM34 37h1v1h-1zM35 17h1v1h-1zM42 53h1v1h-1zM63 37h1v1h-1zM40 4h1v2h-1zM26 29h1v1h-1zM43 44h1v1h-1zM26 22h1v1h-1zM65 51h1v1h-1zM50 50h1v2h-1zM42 23h1v1h-1zM17 13h1v1h-1zM66 18h1v2h-1zM19 39h1v2h-1zM20 14h1v1h-1zM4 0h1v1h-1zM45 17h1v1h-1zM46 26h1v1h-1zM12 44h1v2h-1zM42 11h1v1h-1zM25 54h1v1h-1zM38 32h1v1h-1zM57 44h2v1h-2zM50 23h1v1h-1zM1 37h2v2h-2zM16 23h1v1h-1zM40 14h1v2h-1zM2 3h1v1h-1zM22 5h1v1h-1zM12 35h1v1h-1zM43 39h1v1h-1zM24 12h1v1h-1zM45 54h1v2h-1zM64 17h1v1h-1zM41 5h1v1h-1zM39 1h2v1h-2zM23 35h1v1h-1zM44 8h2v2h-2zM65 21h1v1h-1zM36 58h2v1h-2zM9 31h1v1h-1zM49 47h2v1h-2zM50 52h2v2h-2zM13 34h1v2h-1zM12 53h1v1h-1zM20 37h1v2h-1zM2 47h2v1h-2zM65 27h1v2h-1zM64 28h1v1h-1zM28 26h1v2h-1zM21 4h1v1h-1zM55 3h1v1h-1zM5 13h1v1h-1zM59 1h1v1h-1zM18 35h2v1h-2zM8 27h1v2h-1zM32 2h1v2h-1zM14 2h1v1h-1zM39 12h2v1h-2zM1 44h1v2h-1zM31 17h1v1h-1zM30 44h2v1h-2zM7 26h1v1h-1zM24 29h2v2h-2zM60 7h1v1h-1zM40 50h1v1h-1zM63 43h1v2h-1zM66 14h1v1h-1zM64 25h2v2h-2zM54 53h1v2h-1zM57 21h1v2h-1zM23 29h1v1h-1zM59 38h2v1h-2zM14 19h1v1h-1zM38 7h1v2h-1zM32 26h2v2h-2zM25 15h1v1h-1zM52 58h2v1h-2zM19 52h2v2h-2zM22 31h1v1h-1zM16 37h2v1h-2zM20 18h1v1h-1zM41 20h2v1h-2zM44 18h2v1h-2zM22 21h2v1h-2zM56 35h2v2h-2zM63 13h2v1h-2zM42 26h1v1h-1zM45 9h1v1h-1zM23 40h1v2h-1zM42 17h1v1h-1zM7 7h1v1h-1zM36 6h1v1h-1zM49 53h1v1h-1zM40 18h2v1h-2zM62 0h2v1h-2zM17 47h1v1h-1zM27 12h1v1h-1zM47 53h2v1h-2zM19 57h1v1h-1zM2 24h2v1h-2zM0 34h1v1h-1zM20 7h2v2h-2zM63 12h2v1h-2zM41 35h2v1h-2zM18 45h1v1h-1zM10 31h1v1h-1zM33 44h1v1h-1zM47 7h1v1h-1zM56 17h1v1h-1zM49 9h1v1h-1zM41 20h1v1h-1zM3 10h1v1h-1zM16 31h1v1h-1zM54 11h2v1h-2zM61 5h1v1h-1zM15 12h2v1h-2zM61 31h1v2h-1zM23 39h1v1h-1zM19 4h1v1h-1zM62 37h2v1h-2zM59 50h2v2h-2zM11 51h1v1h-1zM58 40h1v1h-1zM4 57h2v2h-2zM9 41h1v1h-1zM43 33h2v1h-2zM32 47h1v1h-1zM19 47h2v1h-2zM65 38h1v1h-1zM25 43h1v1h-1zM12 47h1v1h-1zM52 28h1v1h-1zM45 28h2v2h-2zM4 45h1v2h-1zM12 49h1v1h-1zM31 42h2v1h-2zM37 44h1v1h-1zM57 22h1v1h-1zM7 16h1v1h-1zM45 24h1v1h-1zM43 4h1v1h-1zM6 26h1v2h-1zM50 45h1v1h-1zM5 46h1v2h-1zM10 54h2v1h-2zM34 36h2v1h-2zM51 4h1v1h-1zM31 2h1v1h-1zM4 39h1v1h-1zM42 10h1v1h-1zM36 9h1v1h-1zM31 41h1v1h-1zM55 55h1v2h-1zM48 21h1v2h-1zM21 48h2v1h-2zM10 24h1v1h-1zM42 11h2v1h-2zM61 39h2v2h-2zM15 36h1v1h-1zM22 11h1v1h-1zM57 17h1v1h-1zM58 32h1v1h-1zM13 21h1v2h-1zM63 25h1v1h-1zM57 24h1v1h-1zM46 10h1v1h-1zM19 31h1v1h-1zM8 17h1v1h-1zM47 20h1v1h-1zM49 4h1v1h-1zM7 2h1v1h-1zM19 42h1v1h-1zM13 45h1v1h-1zM14 33h1v2h-1zM13 6h1v1h-1zM65 20h2v2h-2zM13 21h1v1h-1zM33 35h1v1h-1zM40 34h2v1h-2zM30 53h1v1h-1zM25 39h1v1h-1zM6 26h1v1h-1zM49 17h1v1h-1zM40 22h1v1h-1zM20 17h1v1h-1zM9 57h1v1h-1zM17 19h2v1h-2zM2 44h2v1h-2zM49 18h1v1h-1zM57 25h2v1h-2zM0 23h1v2h-1zM61 24h1v1h-1zM58 51h1v1h-1zM47 58h2v2h-2zM9 29h1v1h-1zM46 6h1v1h-1zM33 42h1v1h-1zM34 40h1v1h-1zM51 31h2v1h-2zM7 28h2v1h-2zM47 20h1v1h-1zM61 47h1v2h-1zM33 56h1v1h-1zM53 6h1v1h-1zM40 9h2v1h-2zM46 11h2v1h-2zM60 3h2v1h-2zM37 24h1v1h-1zM10 35h2v1h-2zM38 3h1v1h-1zM57 5h2v2h-2zM24 25h1v1h-1zM35 35h1v2h-1zM32 55h1v1h-1zM19 24h1v2h-1zM59 43h2v1h-2zM11 47h2v2h-2zM30 3h1v1h-1zM20 15h1v2h-1zM52 1h1v1h-1z" fill="#000"/></pattern>
<pattern id="sp3" width="71" height="47" patternUnits="userSpaceOnUse"><path d="M31 22h1v1h-1zM42 15h1v1h-1zM67 4h1v1h-1zM13 16h1v1h-1zM46 37h2v1h-2zM19 12h1v1h-1zM7 13h1v2h-1zM5 43h1v1h-1zM23 4h2v1h-2zM50 32h1v1h-1zM47 24h1v2h-1zM31 16h1v1h-1zM62 4h1v2h-1zM62 15h1v1h-1zM53 19h1v1h-1zM41 27h1v1h-1zM58 11h1v1h-1zM4 39h1v1h-1zM64 29h1v2h-1zM9 5h1v1h-1zM60 2h2v1h-2zM55 39h1v1h-1zM11 27h1v1h-1zM63 30h1v1h-1zM53 12h1v1h-1zM39 35h1v1h-1zM30 25h1v1h-1zM40 28h2v1h-2zM46 1h1v1h-1zM22 34h1v1h-1zM25 9h1v1h-1zM44 35h1v1h-1zM13 26h1v1h-1zM3 12h1v1h-1zM33 25h1v1h-1zM21 39h1v1h-1zM36 38h1v1h-1zM2 0h1v1h-1zM40 5h1v1h-1zM54 36h1v1h-1zM7 30h1v1h-1zM13 40h1v1h-1zM55 5h1v1h-1zM8 39h1v1h-1zM2 38h1v1h-1zM42 40h1v1h-1zM43 39h1v1h-1zM63 24h1v1h-1zM40 7h1v1h-1zM13 18h1v1h-1zM63 10h1v1h-1zM64 5h1v1h-1zM36 29h1v1h-1zM55 41h1v1h-1zM51 42h1v1h-1zM12 22h1v2h-1zM43 16h1v1h-1zM29 4h1v1h-1zM29 14h1v1h-1zM48 37h2v1h-2zM49 18h1v1h-1zM51 24h1v1h-1zM46 41h1v1h-1zM22 12h1v1h-1zM46 44h1v1h-1zM20 44h2v1h-2zM65 20h1v1h-1zM51 33h1v1h-1zM24 2h1v1h-1zM25 26h1v1h-1zM44 30h1v2h-1zM13 3h1v1h-1zM63 33h1v1h-1zM52 24h1v1h-1zM17 16h1v1h-1zM63 45h1v1h-1zM1 42h1v1h-1zM48 2h1v1h-1zM19 17h1v1h-1zM67 20h1v1h-1zM5 7h2v1h-2zM8 14h2v1h-2zM55 42h1v1h-1zM44 7h1v1h-1zM51 23h1v1h-1zM5 3h1v2h-1zM52 28h1v1h-1zM14 4h1v1h-1zM56 37h1v1h-1zM42 43h1v1h-1zM56 6h1v1h-1zM17 8h2v1h-2zM31 12h1v1h-1zM16 29h1v1h-1zM38 5h1v1h-1zM64 34h1v1h-1zM4 39h1v1h-1zM68 37h1v1h-1zM21 40h1v1h-1zM65 25h1v1h-1zM36 7h1v1h-1zM43 25h1v1h-1zM21 11h1v1h-1zM28 45h1v1h-1zM5 18h1v1h-1zM17 32h1v1h-1zM12 7h1v1h-1zM33 46h1v1h-1zM6 13h1v2h-1zM34 38h1v1h-1zM38 10h1v1h-1zM42 39h1v1h-1zM39 45h1v1h-1zM40 23h1v1h-1zM52 4h1v1h-1zM32 28h1v1h-1zM6 7h1v1h-1zM25 17h1v1h-1zM68 3h1v1h-1zM23 8h1v1h-1z" fill="#000"/></pattern>
</defs>
<g clip-path="url(#cpl)">
<use href="#bp" fill="none" stroke="url(#sp3)" stroke-width="9"/>
<use href="#bp" fill="none" stroke="url(#sp2)" stroke-width="3"/>
</g>
<use href="#bp" fill="#0000ff" stroke="#000" stroke-width="0.9" stroke-linejoin="round" stroke-dasharray="1.3 0.3 3.7 1.3 4.6 1.3 4.2 1.6 3.0 1.4 3.8 0.4 4.2 2.1 3.9 0.6 3.9 1.7 3.9 1.7 4.6 2.5 3.3 3.0 3.1 1.2 4.5 0.8 4.1 1.8 4.9 0.4 2.2 2.8 3.3 0.9 3.8 1.6 3.3 0.8 1.1 2.7 3.7 2.9 3.0 1.0 1.2 1.8 4.1 2.8 2.5 1.0 2.0 2.8 3.7 1.7 4.7 2.3 3.1 2.4 3.7 2.3 2.3 2.2 1.6 0.4 3.0 2.4 1.9 2.7 2.9 2.1 4.5 2.5 3.6 1.1 1.7 1.8 3.4 1.9 2.6 0.8 4.7 2.1 3.8 0.4 3.1 1.7 1.3 0.9 1.6 2.0 4.5 2.0 2.3 2.6 3.2 2.5 3.3 0.7 2.7 1.0 2.3 0.5 4.1 1.8 2.3 2.2 2.9 0.5 4.2 2.5 3.2 2.0 3.2 1.1 1.2 2.1 2.1 2.3"/>
<g clip-path="url(#cbp)">
<use href="#bp" fill="none" stroke="url(#sp2)" stroke-width="13"/>
<use href="#bp" fill="none" stroke="url(#sp1)" stroke-width="5.5"/>
</g>
<path d="M501.6 249.7h1.2M443.7 255.1h1.2M460.6 251.5h1.2M561.5 245.8h1.2M505.7 249.8h1.2M575.6 249.5h1.2M587.3 242.9h1.2M501.6 255.4h1.2M519.2 247.5h1.2M564.0 250.5h1.2M488.8 245.0h1.2M455.9 259.3h1.2M569.2 245.3h1.2M533.7 248.2h1.2M468.3 257.7h1.2M522.8 246.1h1.2M617.5 250.3h1.2M599.1 245.6h1.2M545.3 248.9h1.2M551.7 249.4h1.2M448.5 263.9h1.2M537.2 249.2h1.2M476.6 249.6h1.2M563.3 250.7h1.2M573.0 244.6h1.2M509.7 253.9h1.2M480.9 254.0h1.2M463.5 256.4h1.2M618.9 245.6h1.2M440.4 252.9h1.2M571.9 249.8h1.2M440.9 253.1h1.2M543.2 251.9h1.2M561.4 247.4h1.2M580.0 244.6h1.2M440.7 255.7h1.2M489.6 254.3h1.2M449.0 254.6h1.2M494.6 250.7h1.2M447.6 256.1h1.2M527.7 245.4h1.2M556.8 247.4h1.2M569.8 247.0h1.2M495.5 251.7h1.2M595.9 243.8h1.2M482.5 248.9h1.2M482.8 253.9h1.2M524.7 248.9h1.2M496.6 255.1h1.2M503.7 249.5h1.2M462.2 253.5h1.2M485.7 256.1h1.2M533.4 248.4h1.2M491.8 248.4h1.2M591.0 244.2h1.2M470.7 247.9h1.2M451.7 247.1h1.2M500.7 249.5h1.2M643.6 246.5h1.2M629.1 246.9h1.2M498.3 250.9h1.2M459.6 249.4h1.2M612.7 246.7h1.2M445.1 257.9h1.2M484.3 258.7h1.2M499.9 249.2h1.2M457.9 254.3h1.2M627.2 243.2h1.2M576.3 249.5h1.2M497.9 248.0h1.2M624.8 244.2h1.2M475.2 254.4h1.2M516.6 244.8h1.2M563.5 246.0h1.2M498.6 248.1h1.2M530.6 251.2h1.2M531.7 251.4h1.2M489.2 253.0h1.2M500.9 253.0h1.2M578.9 247.5h1.2M471.8 250.2h1.2M574.4 250.4h1.2M504.2 247.6h1.2M451.2 247.4h1.2M557.4 247.9h1.2M459.5 258.3h1.2M597.6 244.8h1.2M504.8 251.9h1.2M552.7 252.3h1.2M623.8 245.5h1.2M466.4 259.5h1.2M594.6 246.3h1.2M463.6 251.7h1.2M573.9 248.7h1.2M559.2 247.9h1.2M467.8 253.4h1.2M504.7 250.8h1.2M599.2 245.8h1.2M558.3 251.5h1.2M452.5 256.5h1.2M484.0 253.4h1.2M443.8 257.2h1.2M494.8 251.3h1.2M578.5 243.3h1.2M481.4 255.9h1.2M592.8 244.7h1.2M579.8 244.5h1.2M540.9 248.4h1.2M614.1 243.7h1.2M588.0 247.2h1.2M462.1 255.0h1.2M507.1 251.3h1.2M503.3 246.5h1.2M456.9 248.3h1.2M485.9 251.0h1.2M463.2 251.2h1.2M489.4 251.8h1.2M442.2 256.9h1.2M589.2 247.7h1.2M532.8 249.9h1.2M449.1 258.9h1.2M581.3 248.8h1.2M475.6 247.3h1.2M519.9 244.9h1.2M588.3 245.8h1.2M556.7 249.2h1.2M460.3 255.1h1.2M551.5 247.1h1.2M451.3 254.9h1.2M483.2 247.4h1.2M481.4 248.3h1.2M587.4 248.1h1.2M472.5 257.6h1.2M442.2 260.1h1.2M603.3 247.0h1.2M449.6 259.9h1.2M599.9 246.8h1.2M450.3 258.2h1.2M445.0 255.0h1.2M565.1 248.3h1.2M461.4 253.5h1.2M481.3 252.1h1.2M465.8 257.9h1.2M481.2 251.2h1.2M620.8 244.9h1.2M552.3 251.1h1.2M566.4 244.5h1.2M476.0 255.4h1.2M455.3 256.7h1.2M449.6 252.1h1.2M450.6 246.5h1.2M460.6 258.0h1.2M591.6 248.3h1.2M601.6 245.2h1.2M518.1 249.2h1.2M617.3 246.0h1.2M628.5 244.3h1.2M542.2 243.9h1.2M581.0 248.6h1.2M558.4 247.4h1.2M507.4 247.8h1.2M479.4 254.2h1.2M507.7 248.7h1.2M600.9 246.9h1.2M518.2 252.2h1.2M580.4 246.4h1.2M581.7 245.4h1.2M473.2 252.1h1.2M582.0 249.6h1.2M589.1 246.4h1.2M465.5 257.9h1.2M500.9 253.9h1.2M508.5 247.6h1.2M507.1 247.5h1.2M502.8 252.4h1.2M498.4 250.5h1.2M584.8 246.8h1.2M445.9 256.4h1.2M519.0 254.3h1.2M487.3 253.4h1.2M485.7 249.0h1.2M476.7 251.1h1.2M492.6 253.1h1.2M447.8 256.6h1.2M469.0 251.8h1.2M489.5 249.4h1.2M528.9 249.2h1.2M493.1 250.9h1.2M533.4 246.5h1.2M520.3 247.3h1.2M667.8 243.3h1.2M447.9 262.2h1.2M451.9 248.4h1.2M498.7 249.2h1.2M441.2 247.5h1.2M578.3 249.2h1.2M494.6 247.7h1.2M537.4 248.6h1.2M627.7 243.9h1.2M574.7 250.3h1.2M472.5 253.7h1.2M597.9 243.8h1.2M595.4 246.3h1.2M536.9 247.9h1.2M519.7 248.8h1.2M569.5 249.2h1.2M506.5 249.9h1.2M451.4 258.0h1.2M529.8 251.6h1.2M518.4 249.1h1.2M527.3 252.3h1.2M513.2 250.2h1.2M513.3 253.3h1.2M462.4 251.8h1.2M501.7 247.9h1.2M457.3 251.7h1.2M449.4 254.5h1.2M588.1 247.7h1.2M490.8 258.1h1.2M530.4 251.0h1.2M542.1 243.4h1.2M525.2 247.9h1.2M512.8 248.5h1.2M482.8 248.2h1.2M474.4 252.2h1.2M453.7 255.1h1.2M441.1 252.2h1.2M492.8 251.2h1.2M459.2 249.9h1.2M602.8 246.0h1.2M566.0 250.1h1.2M528.7 248.3h1.2M505.3 252.7h1.2M612.9 244.3h1.2M535.7 247.5h1.2M577.5 245.9h1.2M467.1 254.8h1.2M478.2 250.5h1.2M526.1 252.9h1.2M556.7 246.1h1.2M504.2 250.5h1.2M608.5 245.2h1.2M465.5 249.2h1.2M512.0 250.7h1.2M528.6 249.3h1.2M524.1 251.8h1.2M460.8 260.0h1.2M503.2 247.0h1.2M518.5 248.6h1.2M552.4 247.3h1.2M490.7 254.5h1.2M526.5 247.2h1.2M560.4 244.3h1.2M565.8 250.5h1.2M484.9 255.3h1.2M518.6 250.1h1.2M441.1 257.0h1.2M467.1 258.4h1.2M604.8 247.9h1.2M526.6 247.3h1.2M489.0 250.3h1.2M580.3 247.2h1.2M496.9 254.2h1.2M444.5 256.3h1.2M445.9 254.5h1.2M453.2 255.5h1.2M533.2 247.2h1.2M523.0 249.1h1.2M652.6 244.8h1.2M458.6 256.0h1.2M499.1 248.3h1.2M484.5 252.4h1.2M533.0 251.0h1.2M616.8 241.6h1.2M462.7 250.9h1.2M474.0 251.5h1.2M525.1 251.4h1.2M508.5 250.3h1.2M556.0 249.2h1.2M468.7 257.5h1.2M590.4 243.7h1.2M484.1 253.4h1.2M566.4 249.0h1.2M463.6 256.3h1.2M554.5 252.3h1.2M569.5 248.7h1.2M551.6 244.8h1.2M482.5 249.7h1.2M449.8 260.3h1.2M472.0 255.2h1.2M457.8 256.6h1.2M567.1 250.6h1.2M568.6 247.7h1.2M580.8 248.7h1.2M540.0 248.0h1.2M591.0 245.8h1.2M509.8 247.5h1.2M517.3 252.5h1.2M510.8 248.5h1.2M443.4 253.9h1.2M475.3 252.3h1.2M596.9 241.0h1.2M479.9 247.7h1.2M476.1 252.6h1.2M583.2 247.8h1.2M519.3 245.9h1.2M583.2 246.9h1.2M442.4 256.7h1.2M450.1 254.5h1.2M488.4 251.0h1.2M475.7 256.3h1.2M479.9 250.0h1.2M510.0 250.2h1.2M562.9 246.5h1.2M518.7 250.3h1.2M451.8 254.2h1.2M580.8 245.7h1.2M578.2 245.2h1.2M537.7 250.1h1.2M460.8 259.2h1.2M623.7 244.7h1.2M517.4 249.7h1.2M450.2 256.7h1.2M536.3 247.2h1.2M459.0 257.0h1.2M449.8 255.9h1.2M595.0 246.8h1.2M561.4 250.6h1.2M480.7 253.8h1.2M451.4 257.6h1.2M466.5 248.2h1.2M636.1 245.3h1.2M596.8 247.7h1.2M506.1 248.5h1.2M525.2 251.4h1.2M597.8 243.9h1.2M596.1 243.9h1.2M520.3 244.9h1.2M453.9 256.5h1.2M483.9 258.1h1.2M567.3 248.3h1.2M485.5 251.6h1.2M571.5 244.0h1.2M452.1 256.3h1.2M509.2 253.1h1.2M456.7 256.0h1.2M581.3 250.4h1.2M569.4 249.2h1.2M507.4 251.1h1.2M473.0 254.4h1.2M565.5 243.4h1.2M594.1 249.5h1.2M469.2 256.3h1.2M543.1 243.9h1.2M489.8 259.8h1.2M473.4 253.0h1.2M540.5 248.2h1.2M484.9 248.7h1.2M504.4 247.3h1.2M502.9 247.5h1.2M639.2 244.4h1.2M462.4 249.8h1.2M464.9 253.6h1.2M503.2 249.7h1.2M449.1 250.7h1.2M584.5 246.9h1.2M501.8 253.5h1.2M442.5 257.6h1.2M474.7 248.6h1.2M496.8 249.3h1.2M592.4 245.4h1.2M513.1 246.5h1.2M455.9 255.6h1.2M457.0 247.6h1.2M499.3 249.6h1.2M601.9 246.6h1.2M477.0 252.2h1.2M482.7 248.3h1.2M493.7 250.0h1.2M466.2 257.0h1.2M637.8 244.5h1.2M486.2 250.9h1.2M487.9 255.3h1.2M447.7 263.3h1.2M474.7 252.0h1.2M451.5 253.8h1.2M454.8 256.5h1.2M533.4 251.8h1.2M564.0 245.9h1.2M492.0 249.5h1.2M502.7 254.4h1.2M615.0 245.7h1.2M521.6 251.5h1.2M513.2 252.6h1.2M459.7 250.9h1.2M529.1 249.0h1.2M628.6 246.9h1.2M608.3 243.1h1.2M476.0 252.3h1.2M460.7 257.5h1.2M492.0 249.8h1.2M487.2 252.3h1.2M486.5 254.5h1.2M512.9 249.0h1.2M448.0 253.7h1.2M523.3 246.1h1.2M470.4 252.3h1.2M459.8 251.4h1.2M489.1 252.6h1.2M556.9 245.5h1.2M442.4 259.9h1.2M451.2 255.6h1.2M565.5 249.8h1.2M538.1 251.6h1.2M610.5 244.9h1.2M474.4 248.6h1.2M463.0 251.1h1.2M583.0 248.2h1.2M454.6 253.3h1.2M568.2 245.8h1.2M524.4 249.8h1.2M461.5 253.6h1.2M554.5 245.8h1.2M502.6 252.4h1.2M558.8 242.6h1.2M472.6 256.2h1.2M480.9 251.6h1.2M447.7 252.7h1.2M467.8 257.5h1.2M443.4 259.3h1.2M505.7 252.1h1.2M493.4 254.0h1.2M452.0 255.7h1.2M460.3 251.5h1.2M503.0 249.6h1.2M443.8 252.5h1.2M495.7 246.4h1.2M469.5 258.7h1.2M443.4 259.6h1.2M458.1 261.7h1.2M530.9 253.1h1.2M507.7 246.7h1.2M581.9 247.5h1.2M526.2 253.5h1.2M565.6 247.5h1.2M501.4 250.9h1.2M449.5 255.9h1.2M486.2 250.6h1.2M451.5 255.8h1.2M543.9 252.4h1.2M472.4 250.3h1.2M448.5 254.8h1.2M592.0 245.1h1.2M566.5 246.8h1.2M474.4 254.9h1.2M470.5 249.5h1.2M448.9 253.6h1.2M490.4 252.4h1.2M452.0 259.5h1.2M579.1 248.4h1.2M450.9 255.1h1.2M529.6 247.2h1.2M533.0 252.5h1.2M595.2 248.4h1.2M464.8 258.1h1.2M556.5 246.4h1.2M505.0 251.0h1.2M582.9 249.5h1.2M559.5 250.2h1.2M511.2 246.2h1.2M505.3 247.5h1.2M449.7 254.1h1.2M453.0 251.0h1.2M472.6 256.7h1.2M447.7 250.4h1.2M476.8 253.9h1.2M611.4 243.8h1.2" stroke="#0000ff" stroke-width="1.2" fill="none"/>
<path d="M484.4 248.0h1.6M542.5 249.5h1.6M517.2 253.1h1.6M507.4 250.0h1.6M653.9 244.5h1.6M497.6 245.9h1.6M454.8 250.2h1.6M550.8 248.2h1.6M602.0 245.7h1.6M442.3 262.5h1.6M527.1 255.5h1.6M466.3 249.2h1.6M448.8 254.0h1.6M530.2 247.9h1.6M515.7 253.4h1.6M560.4 246.1h1.6M490.1 251.3h1.6M554.6 247.8h1.6M530.6 246.6h1.6M505.9 251.3h1.6M621.1 246.3h1.6M580.4 246.6h1.6M472.6 252.7h1.6M512.8 250.1h1.6M441.1 259.6h1.6M576.4 248.4h1.6M447.9 261.1h1.6M455.1 255.6h1.6M512.4 251.6h1.6M604.3 249.9h1.6M536.5 249.7h1.6M607.6 244.8h1.6M474.5 248.9h1.6M453.6 255.3h1.6M520.1 248.8h1.6M525.1 251.9h1.6M445.0 259.7h1.6M502.6 250.1h1.6M581.7 245.6h1.6M446.6 259.0h1.6M456.2 256.5h1.6M462.7 251.7h1.6M476.7 249.5h1.6M515.4 252.9h1.6M458.7 252.9h1.6M472.1 250.8h1.6M606.2 245.1h1.6M465.9 249.2h1.6M525.7 245.2h1.6M449.8 257.3h1.6M442.8 249.0h1.6M500.4 253.5h1.6M525.7 253.2h1.6M588.4 244.7h1.6M537.4 250.2h1.6M509.5 249.7h1.6M553.5 245.6h1.6M617.5 244.2h1.6M524.9 247.8h1.6M539.6 249.9h1.6M482.2 252.8h1.6M552.9 251.0h1.6M479.9 245.7h1.6M487.7 246.9h1.6M461.4 251.9h1.6M470.1 252.2h1.6M541.6 248.1h1.6M516.6 249.3h1.6M459.7 256.4h1.6M571.4 248.3h1.6M608.7 245.9h1.6M476.9 250.3h1.6M444.7 252.5h1.6M525.2 246.5h1.6M493.9 249.3h1.6M449.7 257.4h1.6M451.2 259.7h1.6M582.0 243.4h1.6M647.4 243.4h1.6M489.3 250.6h1.6M461.2 249.5h1.6M524.2 249.6h1.6M473.8 252.8h1.6M511.7 246.9h1.6M449.9 254.9h1.6M498.4 253.1h1.6M565.6 248.4h1.6M547.6 246.3h1.6M515.4 247.8h1.6M562.8 250.4h1.6M513.9 249.5h1.6M528.9 250.2h1.6M463.6 257.1h1.6M473.5 251.2h1.6M559.2 245.6h1.6M469.7 253.0h1.6M651.0 245.2h1.6M456.9 256.3h1.6M458.6 256.8h1.6M456.1 256.6h1.6M444.0 256.6h1.6M504.4 252.8h1.6M475.0 250.0h1.6M522.4 247.2h1.6M621.1 243.3h1.6M479.3 247.2h1.6M552.9 244.1h1.6M472.8 255.2h1.6M568.7 249.1h1.6M534.9 248.6h1.6M510.3 249.1h1.6M494.2 249.9h1.6M555.6 248.0h1.6M470.6 252.8h1.6M456.6 258.4h1.6M576.4 245.6h1.6M471.0 256.3h1.6M522.2 249.1h1.6M477.5 251.1h1.6M496.1 250.4h1.6M632.3 242.4h1.6M450.8 260.7h1.6M566.7 250.1h1.6M482.5 249.6h1.6M485.7 248.8h1.6M502.2 250.7h1.6M504.6 249.6h1.6M512.3 253.3h1.6M468.2 255.8h1.6M493.0 250.9h1.6M510.7 250.6h1.6M580.0 247.3h1.6M456.0 257.5h1.6M662.0 244.4h1.6M535.0 250.5h1.6M446.0 259.1h1.6M458.0 256.3h1.6M464.4 250.4h1.6M482.6 245.8h1.6M538.4 249.4h1.6M579.4 248.5h1.6M478.4 258.5h1.6M527.1 252.9h1.6M442.8 257.7h1.6M534.1 246.1h1.6M547.3 244.5h1.6M575.9 245.8h1.6M525.1 247.3h1.6M481.2 253.8h1.6M455.5 252.0h1.6M518.5 249.6h1.6M550.4 250.5h1.6M494.7 254.1h1.6M462.8 252.0h1.6M455.6 253.4h1.6M499.6 250.0h1.6M472.2 255.5h1.6M460.1 250.9h1.6M578.7 241.9h1.6M497.2 247.5h1.6M606.9 247.3h1.6M455.6 255.8h1.6M483.1 251.3h1.6M532.8 247.4h1.6M581.6 246.2h1.6M443.5 252.5h1.6M455.1 251.8h1.6M540.4 249.6h1.6M632.5 245.9h1.6M490.6 254.9h1.6M461.1 258.6h1.6M474.0 251.4h1.6M447.6 254.4h1.6M477.5 261.1h1.6M520.2 248.6h1.6M492.6 249.9h1.6M466.8 255.0h1.6M544.5 249.1h1.6M467.9 251.8h1.6M504.3 249.2h1.6M527.8 243.6h1.6M603.1 244.4h1.6M454.7 254.4h1.6M555.4 246.7h1.6M445.6 252.6h1.6M476.1 251.6h1.6M473.4 243.2h1.6M497.0 249.2h1.6M559.2 245.1h1.6M463.6 258.2h1.6M459.6 257.0h1.6M510.5 253.4h1.6M656.2 242.6h1.6M606.4 244.5h1.6M461.4 255.3h1.6M471.8 251.2h1.6M487.8 247.1h1.6M506.3 248.8h1.6M443.6 254.8h1.6M461.9 259.4h1.6M538.0 251.1h1.6M552.8 246.0h1.6M518.0 253.5h1.6M444.6 251.5h1.6M504.0 245.8h1.6M482.5 256.0h1.6M468.8 251.2h1.6M441.5 252.5h1.6M453.8 255.9h1.6M440.7 254.9h1.6M444.3 255.2h1.6M531.8 250.5h1.6M574.3 247.5h1.6M466.8 252.7h1.6M586.9 246.6h1.6M494.4 250.1h1.6M465.1 257.8h1.6M572.2 248.4h1.6M464.4 254.7h1.6M599.0 244.5h1.6M458.8 259.3h1.6M482.4 247.4h1.6M610.6 246.2h1.6M484.6 248.1h1.6M530.5 247.6h1.6M504.2 254.9h1.6M557.2 249.8h1.6M442.2 255.8h1.6M460.4 255.1h1.6M650.0 247.7h1.6M527.7 250.2h1.6M617.9 243.1h1.6M480.8 255.3h1.6M489.4 248.4h1.6M514.5 246.9h1.6M448.8 256.5h1.6M481.4 253.4h1.6M479.1 245.7h1.6M513.7 252.3h1.6M555.2 246.5h1.6M568.2 248.8h1.6M585.8 247.4h1.6M582.4 248.6h1.6M492.4 253.4h1.6M580.9 248.9h1.6M512.3 249.6h1.6M504.2 248.5h1.6M525.6 246.5h1.6M457.8 255.9h1.6M449.8 249.3h1.6M547.2 250.8h1.6M498.6 249.5h1.6M523.6 245.0h1.6M545.3 245.1h1.6M564.6 248.1h1.6M453.4 258.4h1.6M450.2 251.2h1.6M460.4 257.7h1.6M576.8 246.3h1.6M577.9 250.7h1.6M480.3 251.5h1.6M521.2 247.3h1.6M452.1 262.3h1.6M495.4 251.5h1.6M444.4 258.1h1.6M586.1 247.8h1.6M440.7 258.5h1.6M549.7 247.2h1.6M525.4 253.9h1.6M505.2 251.9h1.6M546.1 248.0h1.6M537.7 249.3h1.6M528.3 250.3h1.6M450.9 251.2h1.6M475.7 257.5h1.6M488.5 254.3h1.6M477.7 251.9h1.6M517.9 248.7h1.6M519.3 251.8h1.6M564.3 246.1h1.6M465.2 256.5h1.6M442.6 259.7h1.6M476.4 253.6h1.6M460.7 249.4h1.6M457.5 249.4h1.6M444.3 255.0h1.6M473.3 257.7h1.6M562.2 246.8h1.6M459.7 254.8h1.6M480.8 256.1h1.6M528.7 249.4h1.6M582.2 249.4h1.6M459.0 254.9h1.6M536.6 248.6h1.6M470.1 253.4h1.6M467.6 255.2h1.6M508.8 254.7h1.6M541.3 249.3h1.6M468.2 250.5h1.6M503.3 250.8h1.6M451.5 259.4h1.6M441.7 258.6h1.6M544.8 246.5h1.6M566.8 244.8h1.6M483.6 253.9h1.6M498.3 254.7h1.6M513.8 246.4h1.6M446.2 256.1h1.6M589.7 245.8h1.6M570.4 247.6h1.6M567.8 241.8h1.6M490.4 250.1h1.6M542.8 246.3h1.6M554.0 245.3h1.6M530.1 248.7h1.6M495.6 249.7h1.6M474.1 251.5h1.6M494.1 253.2h1.6M501.2 251.8h1.6M502.3 249.0h1.6M559.8 247.1h1.6M540.6 251.9h1.6M617.4 246.8h1.6M453.2 260.3h1.6M577.4 246.1h1.6M548.3 248.8h1.6M523.2 250.1h1.6M512.9 251.2h1.6M476.2 251.5h1.6M478.2 253.1h1.6M525.1 253.7h1.6M553.5 246.9h1.6M543.5 247.6h1.6M453.7 255.3h1.6M566.7 250.0h1.6M450.4 254.9h1.6M482.2 249.9h1.6M508.6 252.8h1.6M489.2 252.0h1.6M540.5 248.9h1.6M669.2 244.9h1.6M504.1 257.7h1.6M458.3 253.5h1.6M536.1 245.7h1.6M497.1 255.4h1.6M451.9 257.1h1.6M481.4 249.1h1.6M488.7 248.7h1.6M442.8 253.8h1.6M464.8 248.4h1.6M557.8 246.8h1.6M442.1 254.2h1.6M445.5 253.8h1.6M443.5 255.1h1.6M459.2 253.6h1.6M487.4 252.2h1.6M513.4 249.9h1.6M534.5 250.9h1.6M578.8 246.4h1.6M441.8 251.4h1.6M607.5 249.0h1.6M498.7 252.9h1.6M481.2 258.3h1.6M510.6 246.9h1.6M483.5 249.6h1.6M643.4 246.5h1.6M606.9 246.6h1.6M535.8 245.8h1.6M540.6 253.6h1.6M545.5 246.9h1.6M457.0 254.8h1.6M479.1 254.4h1.6M556.1 246.5h1.6M464.4 253.8h1.6M557.2 249.0h1.6M579.0 246.3h1.6M536.0 248.7h1.6M453.6 256.6h1.6M542.4 252.3h1.6M569.7 246.4h1.6M531.8 249.0h1.6M537.2 253.3h1.6M465.3 252.8h1.6M471.7 253.1h1.6M488.3 251.2h1.6M478.1 252.6h1.6M532.8 247.6h1.6M494.2 246.6h1.6M515.9 252.2h1.6M460.7 254.6h1.6M581.9 246.8h1.6M474.9 251.4h1.6M615.9 244.0h1.6M634.1 245.8h1.6M598.2 246.7h1.6M617.0 244.6h1.6M521.6 252.4h1.6M633.3 245.0h1.6M501.9 251.1h1.6M493.5 252.1h1.6M456.2 253.8h1.6M451.2 262.2h1.6M475.3 253.4h1.6M524.1 248.4h1.6M621.2 245.7h1.6M545.7 248.9h1.6M631.5 244.6h1.6M528.7 251.6h1.6M620.5 244.3h1.6M570.7 246.6h1.6M568.4 247.0h1.6M572.0 243.9h1.6M440.5 254.8h1.6M509.7 252.6h1.6M466.9 252.9h1.6M526.0 248.0h1.6M490.9 248.4h1.6M486.9 250.3h1.6M508.9 253.5h1.6M551.2 248.9h1.6M568.7 248.9h1.6M447.6 254.6h1.6M522.1 250.2h1.6M610.6 243.0h1.6M468.6 254.3h1.6M460.7 252.3h1.6M470.9 253.3h1.6M513.2 249.3h1.6M478.4 253.0h1.6M509.4 248.0h1.6M455.0 249.9h1.6M502.4 251.4h1.6M529.5 253.4h1.6M463.6 252.9h1.6M446.4 247.9h1.6M517.9 250.5h1.6M451.1 253.0h1.6M515.7 251.6h1.6M552.1 252.2h1.6M629.1 245.0h1.6M458.3 254.1h1.6M448.4 257.2h1.6M592.1 245.0h1.6M600.5 242.1h1.6M453.8 250.3h1.6M481.5 253.8h1.6M478.9 254.4h1.6M454.8 250.0h1.6M569.1 249.8h1.6M532.3 250.4h1.6M470.5 257.6h1.6M506.2 253.9h1.6M472.2 253.2h1.6M451.8 250.9h1.6M552.1 249.8h1.6M454.4 256.9h1.6M448.6 253.3h1.6M506.3 247.4h1.6M480.4 250.7h1.6M576.0 247.5h1.6M488.0 252.3h1.6M505.9 252.3h1.6M469.7 253.3h1.6M505.5 251.0h1.6M510.2 248.7h1.6M500.3 251.6h1.6M538.1 244.7h1.6M617.1 245.1h1.6M580.0 248.1h1.6M469.2 259.2h1.6M509.8 244.8h1.6M483.9 251.6h1.6M502.2 251.8h1.6M476.6 251.2h1.6M446.8 253.2h1.6M464.6 253.3h1.6M507.8 244.2h1.6M444.8 257.1h1.6M447.7 252.1h1.6M500.5 248.6h1.6M448.8 254.0h1.6M542.1 248.9h1.6M566.1 249.5h1.6M569.6 247.9h1.6M459.9 256.1h1.6M526.6 245.9h1.6M446.5 254.6h1.6M516.1 245.8h1.6M480.5 255.6h1.6M492.2 253.8h1.6" stroke="#0000ff" stroke-width="1.6" fill="none"/>
<path d="M510.3 254.5h2M468.9 254.0h2M485.9 252.4h2M508.9 256.2h2M566.5 249.7h2M571.0 247.8h2M483.9 250.9h2M501.8 250.5h2M504.1 248.4h2M522.8 253.6h2M548.6 245.6h2M608.8 244.2h2M504.8 249.2h2M605.7 244.7h2M559.6 248.9h2M442.4 250.3h2M523.5 249.6h2M446.8 254.1h2M574.2 247.8h2M600.5 244.8h2M559.1 246.7h2M509.1 250.2h2M605.6 247.7h2M568.2 245.9h2M502.5 251.3h2M457.8 255.3h2M484.0 248.1h2M443.6 254.4h2M542.2 252.1h2M463.2 253.9h2M447.4 255.4h2M641.3 243.8h2M492.1 250.5h2M460.2 254.1h2M520.7 249.1h2M480.6 251.0h2M492.8 246.6h2M546.9 251.4h2M511.2 251.2h2M479.6 248.8h2M575.2 249.6h2M552.9 248.0h2M453.8 252.3h2M473.5 255.6h2M484.7 249.0h2M558.9 247.5h2M447.4 252.7h2M455.2 254.2h2M476.8 252.9h2M460.0 256.9h2M460.0 258.7h2M492.6 251.1h2M488.0 254.1h2M484.6 255.3h2M441.3 254.8h2M616.2 246.2h2M563.7 246.9h2M630.1 241.7h2M517.3 248.5h2M509.4 248.5h2M555.0 249.6h2M537.3 248.8h2M540.6 246.6h2M453.3 253.7h2M539.8 248.6h2M492.8 251.0h2M575.5 248.2h2M484.5 251.8h2M462.6 257.3h2M506.3 243.7h2M440.3 257.5h2M476.5 250.4h2M544.7 245.2h2M476.8 252.3h2M444.1 257.6h2M513.4 248.9h2M557.9 248.5h2M480.8 252.6h2M571.6 248.4h2M546.9 246.2h2M505.6 251.6h2M544.8 251.7h2M536.4 249.6h2M497.4 244.2h2M598.2 247.9h2M562.0 245.6h2M528.4 250.4h2M474.0 255.0h2M488.1 253.0h2M576.4 248.2h2M566.9 249.2h2M527.0 250.9h2M502.4 248.3h2M463.6 258.0h2M472.5 258.6h2M516.1 249.4h2M517.3 251.5h2M455.1 248.8h2M491.2 248.8h2M453.0 253.4h2M503.7 250.4h2M532.1 249.1h2M460.9 260.9h2M549.9 250.7h2M529.0 248.0h2M514.7 254.3h2M614.7 244.3h2M465.5 258.3h2M499.8 254.8h2M531.2 248.3h2M508.9 251.0h2M566.4 248.1h2M539.3 248.6h2M516.1 245.2h2M501.1 257.0h2M531.2 245.5h2M498.5 255.8h2M509.2 247.1h2M565.4 249.2h2M535.3 248.5h2M541.4 251.7h2M465.1 255.7h2M489.3 251.5h2M480.4 252.9h2M519.2 251.3h2M486.0 255.8h2M500.0 249.0h2M512.6 250.5h2M497.5 250.7h2M443.3 258.3h2M534.9 248.7h2M564.5 245.2h2M565.3 246.7h2M511.8 252.8h2M503.2 250.4h2M513.9 253.3h2M449.6 255.0h2M520.2 251.8h2M458.3 249.9h2M464.4 252.1h2M478.7 257.2h2M517.4 251.1h2M552.0 246.0h2M501.6 251.2h2M484.3 253.8h2M536.2 246.7h2M561.2 249.5h2M520.7 245.1h2M443.9 256.7h2M466.6 259.2h2M443.6 253.2h2M630.5 245.2h2M516.1 253.2h2M574.6 245.7h2M546.3 246.8h2M528.9 249.0h2M450.4 253.0h2M464.6 251.4h2M475.7 252.6h2M485.8 250.6h2M446.6 254.9h2M569.1 246.6h2M582.3 247.4h2M478.1 252.5h2M644.4 243.3h2M505.0 246.8h2M445.6 256.9h2M450.7 260.5h2M573.1 248.2h2M520.8 251.5h2M475.2 251.2h2M521.7 246.8h2M466.2 255.2h2M517.4 248.1h2M507.0 246.3h2M487.0 255.1h2M512.5 246.8h2M545.5 244.7h2M487.7 248.2h2M559.5 249.4h2M493.0 252.6h2M589.0 246.3h2M440.2 258.2h2M451.1 257.4h2M520.2 247.0h2M516.0 248.8h2M444.6 257.2h2M453.8 259.1h2M530.3 246.0h2M516.3 249.7h2M441.3 259.9h2M512.3 247.9h2M475.8 252.3h2M603.6 244.5h2M563.6 248.8h2M612.0 245.9h2M498.9 251.8h2M507.2 250.0h2M618.6 246.5h2M457.4 257.0h2M445.3 259.6h2M478.6 254.6h2M455.2 253.8h2M527.3 247.6h2M467.2 247.3h2M487.8 253.7h2M472.6 253.8h2M510.1 247.5h2M500.5 244.6h2M453.3 250.3h2M450.6 257.9h2M491.6 248.8h2M464.7 252.2h2M660.2 243.4h2M484.9 254.2h2M531.7 252.0h2M447.4 250.9h2M475.1 251.4h2M442.4 250.2h2M470.1 253.0h2M581.2 241.6h2M451.2 252.8h2M509.0 254.4h2M560.2 250.9h2M483.4 251.5h2M445.2 261.3h2M454.2 251.5h2M465.3 257.4h2M462.3 246.5h2M443.9 253.7h2M487.7 251.3h2M499.6 247.5h2M502.0 248.0h2M473.4 245.9h2M443.3 251.8h2M510.2 247.2h2M491.8 249.2h2M498.2 249.4h2M511.9 249.0h2M475.6 253.4h2M549.7 249.6h2M578.5 244.5h2M532.3 251.2h2M491.8 246.9h2M545.0 250.6h2M469.3 257.6h2M464.0 256.7h2M520.7 249.9h2M519.2 248.1h2M635.2 244.0h2M474.6 250.9h2M455.0 257.5h2M626.5 243.9h2M617.9 247.1h2M476.5 254.4h2M490.8 251.5h2M477.7 253.7h2M619.0 249.3h2M594.9 248.0h2M523.7 248.7h2M453.9 256.3h2M457.2 252.8h2M536.0 246.0h2M657.2 244.0h2M539.6 248.9h2M487.0 247.6h2M492.0 248.2h2M511.0 249.2h2M490.2 248.2h2M452.5 252.7h2M592.0 243.3h2M446.2 253.9h2M465.3 249.0h2M453.1 254.4h2M598.2 247.9h2M529.1 247.4h2M572.3 249.2h2M531.7 247.8h2M467.9 251.7h2M461.4 251.7h2M557.3 244.4h2M456.0 253.1h2M505.8 248.3h2M478.9 253.6h2M498.4 255.6h2M528.7 250.2h2M455.7 253.6h2M487.1 251.3h2M512.5 250.9h2M652.1 242.9h2M590.1 246.9h2M440.9 254.4h2M552.0 248.4h2M476.4 252.2h2M488.2 253.1h2M581.9 245.5h2M568.1 244.6h2M623.5 243.6h2M547.6 244.5h2M457.6 255.1h2M471.7 253.6h2M570.1 246.0h2M476.1 255.7h2M654.3 246.2h2M459.1 252.7h2M497.4 254.7h2M513.3 257.0h2M574.6 248.0h2M528.6 248.1h2M499.2 253.0h2M608.6 246.4h2M500.0 248.7h2M504.3 250.6h2M572.1 248.0h2M502.6 250.7h2M516.9 246.3h2M517.8 245.2h2M523.2 249.3h2M502.7 247.8h2M609.3 244.1h2M493.2 246.4h2M489.8 252.5h2M556.8 245.7h2M496.1 256.3h2M492.6 252.3h2M608.4 240.8h2M604.5 246.6h2M554.3 248.4h2M472.1 250.5h2M553.0 247.8h2M528.1 248.7h2M521.8 246.9h2M492.9 252.6h2M511.0 249.5h2M529.4 256.9h2M599.8 243.7h2M532.0 251.1h2M543.2 249.3h2M470.0 253.7h2M539.2 246.6h2M562.9 250.4h2M447.5 252.1h2M573.5 247.0h2M492.1 248.1h2M515.3 244.0h2M535.3 250.4h2M501.8 248.7h2M595.4 245.6h2M561.6 249.5h2M483.8 247.9h2M489.5 252.3h2M489.2 246.7h2M520.1 248.0h2M522.2 251.6h2M520.7 247.8h2M575.2 249.2h2M497.5 244.2h2M582.8 247.3h2M448.5 251.6h2M559.5 249.9h2M467.7 249.6h2M441.8 252.2h2M560.1 248.4h2M497.3 250.5h2M527.2 248.0h2M455.1 251.8h2M472.2 250.1h2M523.4 249.0h2M498.8 247.0h2M444.3 251.9h2M484.6 248.6h2M502.8 246.6h2M493.1 253.4h2M572.2 247.9h2M571.7 245.9h2M484.2 250.3h2M460.3 254.1h2M500.0 248.8h2M475.9 250.2h2M440.1 260.5h2M527.9 247.1h2M472.3 253.7h2M565.6 247.7h2M451.8 255.3h2M467.5 256.3h2M549.2 250.6h2M576.6 247.9h2M479.9 253.3h2M519.9 247.4h2M471.8 253.5h2M504.9 254.5h2M466.2 251.7h2M445.4 251.4h2M554.7 250.5h2M483.2 258.1h2M447.8 251.8h2M461.7 250.1h2M461.5 254.9h2M487.4 254.1h2M454.7 254.4h2M521.0 249.9h2M522.7 243.0h2M563.1 248.1h2M548.4 246.6h2M442.8 254.5h2M451.0 259.6h2M609.7 246.4h2M506.4 249.1h2M445.8 253.1h2M449.3 258.0h2M442.0 254.2h2M476.4 250.8h2M546.9 250.7h2M453.8 253.0h2M497.7 257.6h2M474.0 251.6h2M603.6 244.5h2M447.3 254.4h2M468.5 250.8h2M549.5 247.9h2M484.4 251.2h2M443.9 260.1h2M529.4 250.1h2M504.5 250.2h2M474.6 253.2h2M569.7 246.7h2M510.7 251.8h2M536.8 250.6h2M481.5 256.0h2M469.4 255.3h2M453.4 248.9h2M472.8 250.5h2M449.5 254.1h2M485.3 251.8h2M499.5 253.0h2M585.4 245.8h2M565.0 251.4h2M454.0 251.7h2M516.4 250.4h2M646.8 244.8h2M546.0 249.4h2M568.5 250.0h2M497.3 250.4h2M458.5 250.8h2M493.7 252.8h2M549.4 248.9h2M514.5 251.2h2M470.6 254.0h2M529.2 252.2h2M558.6 246.3h2M608.9 245.8h2M466.8 253.6h2M554.5 250.5h2M540.8 249.9h2M456.2 254.7h2M591.6 247.6h2M505.0 253.3h2M642.1 245.1h2M541.9 248.6h2M526.4 253.7h2M456.1 251.4h2M534.6 248.0h2M469.8 258.2h2M615.4 246.6h2M565.9 245.6h2M451.0 252.4h2M593.8 245.6h2M498.7 248.1h2M452.6 250.4h2M567.6 245.9h2M524.5 253.7h2M620.9 242.7h2M492.7 250.7h2M544.8 251.3h2M476.1 252.3h2M454.1 252.7h2M505.9 254.3h2M460.2 252.6h2M496.4 251.0h2M574.6 244.3h2M468.2 253.7h2M475.0 248.6h2M588.6 247.6h2M598.4 248.2h2M470.3 250.9h2M536.9 246.1h2M502.8 253.7h2M554.0 250.3h2M440.9 251.7h2M504.5 248.0h2M450.3 256.4h2M480.9 252.3h2M490.3 248.5h2M635.9 243.4h2M547.8 249.3h2M495.7 246.3h2M555.1 246.2h2M544.9 250.3h2M489.9 251.3h2M491.5 255.1h2M455.2 255.6h2M508.6 250.3h2M470.0 253.6h2M485.9 246.6h2M517.2 251.1h2M482.1 256.6h2M445.0 255.1h2M486.1 251.8h2M482.0 251.8h2M508.4 251.9h2M498.5 248.0h2M538.1 252.5h2M450.0 260.5h2M550.5 245.1h2M441.0 254.4h2M521.2 250.4h2M460.3 255.4h2M504.5 250.7h2M511.5 250.1h2M576.0 248.3h2M499.2 250.9h2M479.0 251.3h2M601.5 247.9h2M523.5 252.0h2M557.8 254.0h2M528.7 247.4h2M487.6 252.7h2M549.7 249.1h2M445.5 254.3h2M440.1 259.5h2M524.4 252.5h2M494.2 249.6h2M479.8 247.2h2" stroke="#0000ff" stroke-width="2.0" fill="none"/>
<path d="M444.7 258.0h0.6M510.2 250.7h0.6M606.3 248.5h0.6M618.7 246.2h0.6M433.3 250.7h0.6M512.9 252.8h0.6M434.4 253.0h0.6M552.3 248.0h0.6M544.0 246.0h0.6M438.7 255.4h0.6M518.0 254.7h0.6M592.8 243.7h0.6M427.8 259.2h0.6M479.8 253.9h0.6M519.9 251.6h0.6M464.1 263.0h0.6M508.9 254.6h0.6M628.1 243.0h0.6M409.9 261.5h0.6M435.1 270.0h0.6M553.2 243.0h0.6M541.4 250.9h0.6M538.4 253.5h0.6M491.4 254.1h0.6M417.6 255.3h0.6M575.3 242.4h0.6M499.1 249.8h0.6M625.3 243.6h0.6M470.2 254.9h0.6M616.1 244.8h0.6M478.7 252.9h0.6M541.0 247.3h0.6M615.7 245.5h0.6M523.4 248.7h0.6M605.3 245.4h0.6M512.2 250.7h0.6M430.7 254.5h0.6M665.2 245.2h0.6M490.8 250.8h0.6M489.2 245.2h0.6M457.4 249.4h0.6M417.4 259.6h0.6M530.5 247.3h0.6M456.6 251.6h0.6M487.8 257.9h0.6M589.7 245.7h0.6M627.4 240.2h0.6M440.5 257.6h0.6M524.5 249.1h0.6M439.5 261.5h0.6M478.8 254.3h0.6M439.2 263.1h0.6M468.3 257.5h0.6M595.8 244.6h0.6M405.5 267.2h0.6M553.4 251.0h0.6M473.3 259.0h0.6M413.4 246.9h0.6M417.1 258.9h0.6M416.9 263.1h0.6M415.0 258.1h0.6M453.9 250.7h0.6M419.0 260.2h0.6M659.0 243.9h0.6M568.6 245.8h0.6M428.5 256.7h0.6M535.0 244.7h0.6M539.5 246.1h0.6M468.7 253.9h0.6M412.0 261.1h0.6M580.3 245.1h0.6M542.0 248.9h0.6M484.3 256.6h0.6M513.8 247.2h0.6M601.2 249.6h0.6M465.7 261.0h0.6M481.4 260.4h0.6M644.5 241.2h0.6M463.2 249.9h0.6M560.6 247.9h0.6M418.7 252.5h0.6M424.2 256.0h0.6M443.5 258.1h0.6M476.5 251.6h0.6M402.2 262.1h0.6M543.3 250.4h0.6M503.0 247.8h0.6M542.5 246.7h0.6M458.3 257.2h0.6M405.0 265.3h0.6M431.2 252.7h0.6M413.5 264.8h0.6M414.0 261.5h0.6M426.1 260.4h0.6M516.3 254.8h0.6M526.9 248.7h0.6M491.3 243.5h0.6M488.3 249.6h0.6M520.5 250.2h0.6M499.4 251.7h0.6M578.2 245.4h0.6M542.4 250.7h0.6M506.0 248.6h0.6M544.6 251.3h0.6M566.6 240.6h0.6M505.4 246.8h0.6M467.3 248.8h0.6M535.1 251.0h0.6M535.5 250.6h0.6M610.2 245.4h0.6M573.9 247.5h0.6M489.3 255.3h0.6M441.1 254.2h0.6M493.0 251.9h0.6M435.7 242.2h0.6M409.5 259.1h0.6M441.0 254.1h0.6M620.2 247.7h0.6M469.0 254.8h0.6M565.3 245.9h0.6M638.9 245.0h0.6M486.0 245.4h0.6M494.7 258.2h0.6M497.7 252.9h0.6M445.6 255.9h0.6M403.3 261.2h0.6M457.7 250.4h0.6M487.7 248.1h0.6M574.9 244.0h0.6M447.4 248.8h0.6M491.1 252.4h0.6M562.1 248.5h0.6M414.3 263.0h0.6M479.3 253.1h0.6M571.1 249.0h0.6M537.4 258.7h0.6M491.2 247.7h0.6M418.2 255.1h0.6M467.5 244.6h0.6M503.3 252.9h0.6M510.9 249.2h0.6M543.3 251.7h0.6" stroke="#000" stroke-width="0.6" fill="none"/>
<path d="M491.8 258.5h0.9M584.4 248.5h0.9M476.2 254.0h0.9M522.3 249.6h0.9M472.7 254.6h0.9M415.7 263.4h0.9M506.9 255.5h0.9M431.1 260.5h0.9M445.5 253.3h0.9M434.0 260.7h0.9M478.5 248.1h0.9M469.5 253.8h0.9M582.7 247.8h0.9M404.1 269.9h0.9M629.6 238.8h0.9M454.6 248.9h0.9M409.8 259.3h0.9M445.2 242.9h0.9M542.2 247.2h0.9M534.8 239.8h0.9M456.5 254.4h0.9M434.0 255.3h0.9M512.5 251.8h0.9M632.2 244.9h0.9M460.3 247.1h0.9M478.9 264.3h0.9M488.7 250.4h0.9M527.5 242.4h0.9M503.4 250.1h0.9M458.2 258.6h0.9M537.3 261.1h0.9M550.3 243.8h0.9M413.7 261.4h0.9M425.6 255.7h0.9M479.1 255.9h0.9M456.7 252.2h0.9M425.4 258.4h0.9M408.8 261.9h0.9M496.1 248.0h0.9M535.5 251.1h0.9M476.4 247.0h0.9M530.7 252.9h0.9M476.4 254.9h0.9M455.9 258.9h0.9M590.0 243.9h0.9M524.1 247.0h0.9M482.2 251.4h0.9M400.7 265.6h0.9M628.1 246.9h0.9M409.7 266.9h0.9M476.2 258.2h0.9M611.1 240.9h0.9M457.3 260.6h0.9M490.8 245.3h0.9M451.8 259.6h0.9M564.9 247.8h0.9M495.1 257.2h0.9M521.7 251.6h0.9M535.6 245.7h0.9M415.6 259.0h0.9M539.7 244.6h0.9M608.5 244.7h0.9M409.3 263.4h0.9M461.4 258.2h0.9M641.5 245.4h0.9M437.2 258.7h0.9M427.6 256.2h0.9M431.0 256.7h0.9M557.4 250.3h0.9M513.0 253.6h0.9M427.1 256.7h0.9M474.9 256.0h0.9M467.3 249.9h0.9M431.8 256.6h0.9M415.1 264.3h0.9M616.0 244.5h0.9M427.5 262.2h0.9M417.5 257.7h0.9M437.0 248.5h0.9M516.4 248.4h0.9M537.2 249.9h0.9M451.7 254.9h0.9M486.7 250.7h0.9M528.4 248.5h0.9M504.7 250.7h0.9M448.1 265.9h0.9M545.2 251.9h0.9M514.2 251.0h0.9M423.7 259.2h0.9M638.8 244.8h0.9M535.1 250.5h0.9M482.9 259.9h0.9M452.5 257.8h0.9M669.0 245.0h0.9M630.7 242.1h0.9M423.9 263.9h0.9M654.5 245.4h0.9M533.0 250.3h0.9M463.0 253.7h0.9M442.1 259.9h0.9M535.3 242.5h0.9M578.0 248.5h0.9M512.7 246.0h0.9M527.7 244.3h0.9M470.3 251.5h0.9M499.5 253.3h0.9M449.5 247.1h0.9M578.4 249.5h0.9M518.0 247.9h0.9M543.9 242.9h0.9M435.3 255.0h0.9M575.3 247.0h0.9M624.1 246.7h0.9M479.4 248.6h0.9M426.0 258.2h0.9M515.8 254.3h0.9M495.4 245.1h0.9M584.7 240.3h0.9M497.1 258.3h0.9M657.3 244.8h0.9M407.6 270.2h0.9M441.3 257.8h0.9M496.8 250.3h0.9M618.1 247.3h0.9M454.4 253.6h0.9M494.9 251.8h0.9" stroke="#000" stroke-width="0.9" fill="none"/>
<path d="M513.8 250.2h1.2M451.6 252.3h1.2M557.5 249.0h1.2M641.8 237.1h1.2M520.5 253.1h1.2M479.7 255.4h1.2M525.3 249.3h1.2M409.3 259.4h1.2M636.9 244.3h1.2M408.0 262.8h1.2M580.9 245.1h1.2M534.6 247.6h1.2M470.4 252.9h1.2M409.5 263.3h1.2M670.2 242.5h1.2M424.9 261.9h1.2M434.3 254.8h1.2M557.9 244.1h1.2M640.6 244.2h1.2M440.7 257.3h1.2M536.8 247.8h1.2M578.9 247.0h1.2M457.0 256.6h1.2M481.1 254.6h1.2M430.3 256.9h1.2M424.5 257.8h1.2M407.5 269.8h1.2M424.6 260.1h1.2M426.0 262.8h1.2M496.4 251.8h1.2M436.4 255.2h1.2M508.3 255.6h1.2M415.7 260.2h1.2M432.2 257.0h1.2M441.1 262.6h1.2M513.4 256.3h1.2M647.9 244.6h1.2M483.8 250.7h1.2M470.3 250.1h1.2M424.5 262.4h1.2M472.3 254.5h1.2M448.8 256.4h1.2M466.2 250.4h1.2M524.3 245.4h1.2M445.6 260.5h1.2M428.9 255.0h1.2M436.4 253.3h1.2M510.8 251.6h1.2M420.2 246.3h1.2M426.0 255.6h1.2M460.7 256.2h1.2M476.2 261.0h1.2M664.2 242.2h1.2M455.2 256.2h1.2M559.3 251.5h1.2M578.7 250.3h1.2M493.5 252.9h1.2M472.3 249.2h1.2M505.0 246.0h1.2M567.5 251.2h1.2M427.0 266.6h1.2M545.6 248.0h1.2M405.7 260.2h1.2M536.9 248.0h1.2M592.7 242.8h1.2M578.5 247.0h1.2M479.4 249.6h1.2M539.2 251.5h1.2M612.8 241.6h1.2M615.9 249.1h1.2M605.1 243.9h1.2M595.8 240.4h1.2M453.4 252.3h1.2M606.8 243.7h1.2M419.1 258.8h1.2M466.2 251.7h1.2M435.6 259.1h1.2M413.4 257.9h1.2M465.9 246.5h1.2M492.3 256.4h1.2M488.0 257.6h1.2M591.4 252.6h1.2M412.7 254.5h1.2M475.5 253.6h1.2M658.9 244.2h1.2M583.1 249.9h1.2M450.1 261.5h1.2M568.6 246.6h1.2M436.1 253.8h1.2M414.9 253.9h1.2M470.3 245.0h1.2M461.6 248.8h1.2M446.7 249.1h1.2M515.7 241.9h1.2M545.9 246.2h1.2M670.2 244.3h1.2M402.4 269.4h1.2M646.1 246.5h1.2M480.0 247.3h1.2M423.7 252.3h1.2M442.9 256.4h1.2M499.9 249.7h1.2M515.8 251.4h1.2M468.6 253.5h1.2M429.1 255.5h1.2M424.2 261.8h1.2M625.2 243.3h1.2M574.7 248.7h1.2M507.5 255.3h1.2M555.8 250.1h1.2M541.0 242.8h1.2M513.5 254.4h1.2M492.7 249.2h1.2M474.9 252.9h1.2M562.6 244.1h1.2M407.3 259.7h1.2M598.0 245.8h1.2M442.3 254.9h1.2M441.9 254.2h1.2M520.9 247.1h1.2M510.2 254.5h1.2M463.9 259.8h1.2M543.4 250.5h1.2M667.6 248.5h1.2M449.9 248.4h1.2M418.6 259.9h1.2M487.8 253.4h1.2M493.1 252.7h1.2M509.8 249.6h1.2M566.6 244.8h1.2M547.3 247.8h1.2M473.3 246.0h1.2" stroke="#000" stroke-width="1.2" fill="none"/>
<path d="M656.1 167.5h0.6M542.6 167.1h0.6M573.4 170.7h0.6M548.0 169.3h0.6M551.5 166.1h0.6M594.7 174.6h0.6M661.8 171.4h0.6M613.1 173.1h0.6M605.8 170.8h0.6M600.0 169.3h0.6M647.3 173.2h0.6M630.4 163.0h0.6M553.9 171.2h0.6M624.3 166.9h0.6M602.6 172.1h0.6M592.8 170.0h0.6M558.6 170.9h0.6M617.0 169.6h0.6M581.1 161.3h0.6M564.6 167.5h0.6M607.7 168.8h0.6M667.1 167.0h0.6M599.1 166.1h0.6M555.3 171.1h0.6M618.0 168.7h0.6M562.0 165.7h0.6M618.0 163.7h0.6M553.1 165.8h0.6M675.7 170.6h0.6M599.2 172.9h0.6M567.5 165.8h0.6M650.2 173.3h0.6M575.4 164.2h0.6M616.2 167.3h0.6M612.8 165.4h0.6M589.3 167.7h0.6M554.0 160.6h0.6M623.2 160.8h0.6M626.5 163.7h0.6M549.3 171.0h0.6" stroke="#000" stroke-width="0.6" fill="none" opacity="0.8"/>
<path d="M635.9 179.3h0.9M658.0 169.3h0.9M564.0 166.1h0.9M570.4 167.6h0.9M609.0 164.6h0.9M681.4 174.1h0.9M612.3 165.8h0.9M675.5 164.2h0.9M574.0 166.9h0.9M637.1 172.1h0.9M604.9 167.1h0.9M602.8 162.8h0.9M620.6 172.6h0.9M657.7 167.6h0.9M541.9 167.2h0.9M580.3 166.4h0.9M567.0 169.7h0.9M557.8 160.1h0.9M673.7 169.0h0.9M610.5 165.8h0.9M625.6 173.5h0.9M599.9 167.4h0.9M566.0 170.7h0.9M547.2 170.3h0.9M624.7 166.5h0.9M637.2 168.9h0.9M595.9 166.4h0.9M643.6 169.5h0.9M585.8 173.7h0.9M542.3 162.7h0.9M576.2 168.0h0.9M549.3 170.9h0.9M663.6 172.3h0.9M655.7 166.5h0.9M597.0 167.0h0.9M604.4 167.7h0.9M665.2 176.1h0.9M619.7 168.6h0.9M589.5 173.1h0.9M600.1 170.9h0.9M607.9 164.9h0.9M564.7 176.0h0.9M612.7 170.5h0.9M664.9 171.5h0.9M546.4 163.3h0.9M555.4 171.9h0.9M564.8 169.1h0.9M588.9 163.2h0.9" stroke="#000" stroke-width="0.9" fill="none" opacity="0.8"/>
<path d="M614.6 171.3h1.2M645.1 169.2h1.2M645.8 168.4h1.2M558.4 174.0h1.2M579.6 167.1h1.2M563.4 168.1h1.2M674.4 169.0h1.2M555.3 168.3h1.2M587.8 168.1h1.2M615.2 165.1h1.2M652.2 166.7h1.2M581.3 172.0h1.2M673.5 173.4h1.2M549.5 169.7h1.2M619.2 158.4h1.2M622.4 167.3h1.2M549.5 172.6h1.2M624.3 171.7h1.2M597.1 175.8h1.2M632.0 170.8h1.2M649.6 170.0h1.2M540.0 161.7h1.2M554.1 164.2h1.2M596.7 172.2h1.2M670.2 172.8h1.2M612.7 171.9h1.2M659.4 172.9h1.2M609.0 161.6h1.2M550.4 169.4h1.2M586.9 163.4h1.2M615.8 167.3h1.2M675.1 170.5h1.2M591.8 169.7h1.2M578.4 165.1h1.2M664.3 173.7h1.2M658.4 171.4h1.2M544.8 165.9h1.2M603.7 171.2h1.2M670.0 168.9h1.2M582.2 171.6h1.2M612.9 168.6h1.2M585.7 170.8h1.2M558.7 169.0h1.2M551.8 169.5h1.2M576.8 166.3h1.2M676.0 164.7h1.2M620.4 165.3h1.2M605.6 169.8h1.2M653.0 169.4h1.2M545.9 172.7h1.2M673.5 170.5h1.2M598.6 165.0h1.2" stroke="#000" stroke-width="1.2" fill="none" opacity="0.8"/>
<path d="M83.8 17.9 L85.5 17.7 L86.4 18.5 L86.3 20.0 L86.6 20.7 L87.2 21.4 L86.6 22.5 L87.3 23.3 L87.8 24.2 L87.6 25.3 L88.3 26.3 L87.8 27.4 L85.6 28.7 L89.4 29.4 L89.6 30.4 L87.7 31.7 L89.0 32.5 L89.6 33.4 L88.8 34.7 L89.9 35.4 L90.3 36.3 L90.5 37.3 L91.6 38.0 L91.0 39.2 L90.4 40.5 L91.8 41.1 L92.6 41.9 L91.9 43.1 L92.8 43.9 L92.6 45.0 L92.5 46.1 L93.2 46.9 L92.8 48.1 L93.9 48.8 L94.4 49.7 L94.3 50.8 L94.7 51.7 L95.3 52.5 L95.4 53.6 L95.2 54.7 L95.3 55.8 L95.5 56.8 L97.5 57.1 L98.6 57.8 L98.0 59.0 L97.5 60.3 L98.4 61.0 L99.3 61.8 L99.1 62.9 L99.5 63.8 L99.5 64.9 L100.2 65.7 L100.8 66.6 L100.9 67.6 L101.2 68.6 L101.4 69.5 L102.0 70.5 L101.0 71.6 L101.5 72.5 L102.1 73.5 L101.2 74.6 L101.4 75.6 L102.0 76.5 L102.0 77.5 L102.4 78.5 L102.0 79.5 L101.1 80.5 L100.5 81.4 L101.5 82.4 L100.9 83.3 L101.1 84.3 L101.1 85.4 L101.0 86.4 L100.7 87.4 L100.0 88.2 L99.3 89.0 L99.8 90.3 L100.0 91.5 L98.8 92.1 L98.0 92.8 L97.8 93.9 L97.9 95.0 L96.5 95.5 L96.2 96.5 L96.7 97.7 L95.7 98.4 L95.9 99.6 L96.0 100.6 L94.4 101.2 L94.2 102.2 L95.1 103.4 L95.7 104.7 L95.0 105.5 L94.4 106.4 L93.4 107.2 L93.0 108.1 L92.5 109.1 L92.2 110.1 L92.6 111.1 L93.4 112.1 L93.6 113.2 L93.1 114.2 L92.3 115.3 L92.9 116.3 L92.8 117.3 L92.6 118.2 L92.6 119.3 L93.6 120.0 L95.0 120.2 L94.9 121.6 L95.5 122.6 L96.8 122.8 L97.3 123.8 L97.3 125.1 L98.4 125.5 L99.1 126.3 L99.7 127.0 L101.0 127.2 L101.0 128.6 L101.6 129.4 L104.3 127.8 L103.3 130.5 L104.3 130.9 L105.6 130.7 L106.2 131.5 L107.0 132.2 L107.1 134.1 L108.3 133.9 L110.0 133.1 L110.8 133.7 L111.6 134.3 L112.2 135.2 L112.7 136.4 L113.9 136.4 L115.5 135.5 L116.5 135.9 L116.9 137.1 L117.2 138.7 L117.6 140.1 L119.0 139.6 L120.2 139.3 L120.7 140.6 L121.4 141.4 L122.1 142.3 L123.0 142.7 L124.0 143.0 L125.0 143.2 L125.8 143.8 L127.2 143.4 L128.0 144.1 L128.8 144.7 L130.4 143.5 L131.3 143.9 L132.0 144.8 L132.8 145.4 L133.3 147.4 L134.3 147.4 L135.4 147.1 L136.6 146.4 L137.7 145.9 L138.6 146.4 L139.3 148.1 L140.2 148.4 L141.4 147.6 L142.5 147.0 L143.5 146.7 L144.4 147.9 L145.3 148.3 L146.4 148.2 L147.3 148.8 L148.3 149.2 L149.4 148.4 L150.5 147.5 L151.4 148.6 L152.2 149.9 L153.4 148.9 L154.4 149.0 L155.4 149.1 L156.4 148.7 L157.3 150.3 L158.4 149.6 L159.4 149.0 L160.3 149.9 L161.4 149.4 L162.3 150.1 L163.3 150.3 L164.4 149.6 L165.4 149.7 L166.3 150.4 L167.2 151.4 L168.1 152.1 L169.2 151.8 L170.3 150.7 L171.2 151.7 L172.2 152.0 L173.2 151.6 L174.1 153.0 L175.1 153.2 L176.3 151.4 L177.3 151.4 L178.3 151.1 L179.2 152.3 L179.9 155.2 L181.2 152.3 L182.2 153.1 L183.2 152.8 L184.1 153.9 L185.2 152.4 L186.2 153.2 L187.1 153.8 L188.1 154.3 L189.2 153.4 L190.3 151.7 L191.2 153.1 L192.2 153.4 L193.2 152.7 L194.2 153.2 L195.2 153.2 L196.2 153.2 L197.2 152.8 L198.2 152.3 L199.1 154.8 L200.2 153.4 L201.1 154.3 L202.0 156.7 L203.1 154.7 L204.1 154.4 L205.2 154.2 L206.2 154.1 L207.2 153.2 L208.3 152.0 L209.2 154.0 L210.1 155.6 L211.1 155.0 L212.2 153.3 L213.3 152.8 L214.1 154.8 L215.2 154.6 L216.1 155.2 L217.1 155.1 L218.2 154.3 L219.2 153.7 L220.2 154.2 L221.1 155.3 L222.1 155.5 L223.1 156.0 L224.1 155.7 L225.1 155.3 L226.2 155.1 L227.2 153.9 L228.2 154.8 L229.1 155.6 L230.1 155.7 L231.1 155.7 L232.2 154.5 L233.2 154.4 L234.2 155.2 L235.1 155.3 L236.1 155.4 L237.1 156.1 L238.1 156.3 L239.1 156.3 L240.1 155.8 L241.1 155.6 L242.1 155.7 L243.2 154.4 L244.1 155.3 L245.1 157.2 L246.1 156.3 L247.2 155.2 L248.2 155.3 L249.1 156.1 L250.1 156.6 L251.1 156.3 L252.1 156.3 L253.1 155.5 L254.2 155.3 L255.1 156.3 L256.1 156.7 L257.1 156.4 L258.1 155.9 L259.1 156.8 L260.1 159.1 L261.1 157.8 L262.1 157.5 L263.1 157.3 L264.1 156.3 L265.1 156.3 L266.1 157.0 L267.1 157.7 L268.1 157.0 L269.1 157.6 L270.1 158.2 L271.1 157.3 L272.1 156.7 L273.1 156.8 L274.1 157.4 L275.1 156.5 L276.1 157.1 L277.1 158.2 L278.2 155.3 L279.2 156.2 L280.1 156.9 L281.1 156.8 L282.1 157.3 L283.1 157.9 L284.1 156.9 L285.2 155.8 L286.1 158.2 L287.1 157.3 L288.1 157.1 L289.1 158.3 L290.1 157.6 L291.2 156.1 L292.2 156.6 L293.1 157.4 L294.1 158.2 L295.1 158.4 L296.1 157.9 L297.1 158.3 L298.2 156.4 L299.2 155.8 L300.2 156.7 L301.2 156.2 L302.1 157.9 L303.1 157.8 L304.1 158.3 L305.1 158.4 L306.1 158.4 L307.1 158.5 L308.1 158.3 L309.1 158.0 L310.2 155.5 L311.1 157.8 L312.1 159.1 L313.1 159.0 L314.1 158.7 L315.1 158.4 L316.1 159.0 L317.1 158.5 L318.1 158.1 L319.2 157.7 L320.2 157.8 L321.1 158.3 L322.1 158.3 L323.1 158.1 L324.1 158.2 L325.2 157.5 L326.2 157.9 L327.1 159.7 L328.1 159.7 L329.2 157.0 L330.2 157.4 L331.1 159.3 L332.1 158.2 L333.1 159.3 L334.1 159.9 L335.1 159.3 L336.1 159.3 L337.1 159.4 L338.2 158.3 L339.2 157.8 L340.1 158.9 L341.1 159.5 L342.2 158.5 L343.2 157.2 L344.2 157.4 L345.2 158.3 L346.2 158.6 L347.2 158.6 L348.1 159.0 L349.1 159.3 L350.2 158.7 L351.1 160.1 L352.1 160.8 L353.1 159.4 L354.1 159.2 L355.2 158.7 L356.2 158.1 L357.2 158.9 L358.1 160.1 L359.2 158.5 L360.1 159.3 L361.1 159.5 L362.2 158.7 L363.2 158.8 L364.2 158.9 L365.1 159.7 L366.1 159.7 L367.2 159.0 L368.1 159.6 L369.1 161.1 L370.1 160.2 L371.2 159.1 L372.2 159.0 L373.2 159.5 L374.1 159.8 L375.1 160.1 L376.1 160.6 L377.1 159.7 L378.2 158.7 L379.1 159.8 L380.1 159.9 L381.2 159.5 L382.2 159.2 L383.1 160.5 L384.1 161.0 L385.1 160.4 L386.1 160.1 L387.2 159.5 L388.2 159.9 L389.1 161.1 L390.1 161.9 L391.1 162.1 L392.1 162.3 L393.1 161.9 L394.1 161.0 L395.2 159.8 L396.1 160.7 L397.1 160.7 L398.2 160.3 L399.2 160.4 L400.2 159.5 L401.2 159.9 L402.2 160.0 L403.2 159.8 L404.1 160.8 L405.1 161.8 L406.1 161.0 L407.1 160.9 L408.2 160.5 L409.1 162.7 L410.1 160.8 L411.2 160.3 L412.2 159.7 L413.1 161.2 L414.2 159.6 L415.2 158.4 L416.2 159.0 L417.2 159.9 L418.2 160.6 L419.2 160.5 L420.2 161.0 L421.1 162.5 L422.1 161.6 L423.2 160.6 L424.2 161.2 L425.1 161.6 L426.2 160.4 L427.2 158.9 L428.2 159.5 L429.2 159.9 L430.2 160.6 L431.2 161.0 L432.2 159.7 L433.2 159.6 L434.2 159.9 L435.2 159.9 L436.2 160.7 L437.2 160.7 L438.2 161.5 L439.1 163.2 L440.1 162.8 L441.2 160.7 L442.2 161.3 L443.1 163.3 L444.1 162.4 L445.2 161.5 L446.1 162.2 L447.2 162.2 L448.2 162.0 L449.1 162.5 L450.2 161.5 L451.2 160.9 L452.2 161.1 L453.2 161.0 L454.2 161.9 L455.1 162.5 L456.2 161.7 L457.2 162.0 L458.2 162.2 L459.2 162.3 L460.1 163.2 L461.1 163.0 L462.2 161.5 L463.2 160.8 L464.2 162.1 L465.1 163.0 L466.2 161.7 L467.2 161.5 L468.2 161.2 L469.2 162.0 L470.2 162.8 L471.2 161.9 L472.2 161.0 L473.1 163.9 L474.1 163.3 L475.2 160.9 L476.2 160.5 L477.2 161.8 L478.2 162.2 L479.2 161.6 L480.2 162.2 L481.2 163.1 L482.1 163.3 L483.2 161.9 L484.2 160.9 L485.2 160.5 L486.2 161.9 L487.2 161.6 L488.2 161.9 L489.2 163.0 L490.2 162.6 L491.2 161.9 L492.2 162.2 L493.2 163.4 L494.1 164.2 L495.2 162.4 L496.2 161.4 L497.1 163.7 L498.1 165.2 L499.2 163.4 L500.1 163.9 L501.1 164.7 L502.1 164.0 L503.2 162.6 L504.2 163.1 L505.2 163.1 L506.2 162.8 L507.1 164.3 L508.2 160.9 L509.2 163.6 L510.2 163.3 L511.2 162.5 L512.2 163.2 L513.2 163.7 L514.2 163.9 L515.2 163.6 L516.2 163.1 L517.2 162.9 L518.2 162.0 L519.1 165.6 L520.2 163.6 L521.2 163.8 L522.2 163.3 L523.2 164.1 L524.2 163.5 L525.2 163.0 L526.3 161.2 L527.2 163.7 L528.2 163.3 L529.2 162.5 L530.2 163.0 L531.2 163.1 L532.2 163.1 L533.2 164.3 L534.2 164.5 L535.2 163.4 L536.2 162.8 L537.2 162.2 L538.2 162.6 L539.2 162.7 L540.2 163.4 L541.2 163.8 L542.2 163.3 L543.2 163.6 L544.2 164.9 L545.2 162.8 L546.3 161.1 L547.2 163.8 L548.2 164.6 L549.2 163.6 L550.2 164.6 L551.2 165.3 L552.2 165.2 L553.1 165.5 L554.2 164.7 L555.2 164.0 L556.2 165.1 L557.2 164.7 L558.2 163.8 L559.2 163.2 L560.2 165.2 L561.2 164.6 L562.2 165.5 L563.2 165.3 L564.2 164.7 L565.2 164.7 L566.1 166.5 L567.2 164.0 L568.2 164.8 L569.1 166.0 L570.1 166.7 L571.2 165.5 L572.2 164.3 L573.2 164.7 L574.2 164.9 L575.3 166.3 L576.4 167.1 L577.7 165.8 L579.0 165.1 L580.3 164.6 L581.6 164.9 L582.9 164.1 L584.3 164.0 L585.5 165.2 L586.8 167.4 L588.2 165.6 L589.4 165.3 L590.5 168.3 L591.8 166.2 L593.0 166.0 L594.1 165.9 L595.1 166.8 L595.9 168.1 L596.8 167.3 L597.8 166.0 L598.4 166.5 L599.1 166.4 L599.6 166.6 L598.4 169.1 L600.1 167.2 L601.1 167.5 L600.8 168.7 L600.6 169.3 L600.6 170.8 L599.4 168.8 L599.1 169.5 L598.7 170.2 L597.9 169.5 L597.2 169.6 L596.4 170.0 L595.4 170.0 L594.4 169.4 L593.3 170.0 L592.2 170.5 L591.0 169.6 L589.8 170.5 L588.5 171.0 L587.2 170.3 L585.9 169.2 L584.5 169.2 L583.2 169.6 L581.9 170.5 L580.6 169.7 L579.3 168.6 L578.0 169.1 L576.8 170.0 L575.6 170.4 L574.5 170.7 L573.5 171.3 L572.4 170.8 L571.4 170.1 L570.4 169.9 L569.4 170.1 L568.4 169.3 L567.4 169.9 L566.4 170.3 L565.4 170.1 L564.4 170.3 L563.4 170.6 L562.4 170.0 L561.4 168.7 L560.4 170.8 L559.4 170.9 L558.3 167.8 L557.4 170.2 L556.4 170.3 L555.4 170.9 L554.4 171.7 L553.4 169.1 L552.4 171.2 L551.4 171.9 L550.5 172.4 L549.4 171.5 L548.4 170.8 L547.4 171.1 L546.4 170.6 L545.4 170.6 L544.4 171.1 L543.4 170.1 L542.4 172.0 L541.4 171.0 L540.4 170.7 L539.4 171.8 L538.4 170.9 L537.4 169.5 L536.4 170.6 L535.4 170.9 L534.4 170.2 L533.4 170.9 L532.4 170.2 L531.4 170.3 L530.4 171.9 L529.4 171.8 L528.4 171.6 L527.4 171.8 L526.4 171.9 L525.4 172.5 L524.4 172.0 L523.4 172.0 L522.4 171.8 L521.4 170.7 L520.4 171.5 L519.4 172.1 L518.4 172.3 L517.4 172.1 L516.4 170.8 L515.4 170.7 L514.4 171.9 L513.4 171.1 L512.4 171.2 L511.4 172.3 L510.4 171.0 L509.4 170.4 L508.4 171.0 L507.4 171.0 L506.4 171.4 L505.4 171.4 L504.4 171.3 L503.4 170.5 L502.4 170.3 L501.5 174.1 L500.5 173.7 L499.4 173.2 L498.4 173.0 L497.4 172.9 L496.4 173.0 L495.4 172.5 L494.4 172.1 L493.4 173.1 L492.4 172.4 L491.4 172.5 L490.4 173.0 L489.4 172.7 L488.4 173.4 L487.4 172.8 L486.4 172.7 L485.4 172.8 L484.4 172.0 L483.4 173.1 L482.4 173.5 L481.4 172.5 L480.4 172.5 L479.4 171.8 L478.4 172.2 L477.4 172.8 L476.4 173.2 L475.4 173.2 L474.4 172.6 L473.4 173.5 L472.4 173.9 L471.4 173.5 L470.4 174.4 L469.4 174.3 L468.4 173.9 L467.4 174.6 L466.4 173.8 L465.4 174.1 L464.5 175.1 L463.4 174.0 L462.3 170.4 L461.4 172.0 L460.4 173.3 L459.4 174.2 L458.4 173.9 L457.4 173.2 L456.4 173.9 L455.4 174.2 L454.4 173.3 L453.4 174.1 L452.4 173.6 L451.4 173.7 L450.4 174.1 L449.4 174.2 L448.4 173.8 L447.4 174.2 L446.4 174.4 L445.4 173.5 L444.4 172.9 L443.5 176.1 L442.5 176.0 L441.4 174.3 L440.4 173.3 L439.4 173.7 L438.4 174.7 L437.4 175.0 L436.4 173.9 L435.5 176.8 L434.4 174.5 L433.4 175.1 L432.4 174.6 L431.4 174.2 L430.4 173.7 L429.4 174.7 L428.5 176.2 L427.4 174.3 L426.4 174.6 L425.4 175.3 L424.4 173.9 L423.4 174.6 L422.4 175.3 L421.3 173.7 L420.4 174.6 L419.5 176.9 L418.5 175.6 L417.4 174.9 L416.4 175.6 L415.4 175.3 L414.4 174.7 L413.4 174.9 L412.4 175.2 L411.4 174.7 L410.4 175.4 L409.4 175.2 L408.4 175.1 L407.4 175.8 L406.4 175.3 L405.4 175.5 L404.6 177.9 L403.5 177.4 L402.5 177.1 L401.5 177.3 L400.5 176.5 L399.4 175.4 L398.4 175.7 L397.5 177.6 L396.5 177.4 L395.5 177.1 L394.5 177.5 L393.5 176.8 L392.3 175.3 L391.4 176.4 L390.5 177.2 L389.5 177.2 L388.5 177.0 L387.5 177.8 L386.5 178.7 L385.5 178.4 L384.5 178.3 L383.5 177.9 L382.5 177.0 L381.5 177.2 L380.4 175.9 L379.5 177.8 L378.5 178.3 L377.5 177.6 L376.5 177.5 L375.5 177.7 L374.5 178.1 L373.5 177.8 L372.5 179.1 L371.6 180.4 L370.5 178.5 L369.5 177.7 L368.5 177.5 L367.5 177.9 L366.5 178.7 L365.5 178.1 L364.5 177.7 L363.5 179.1 L362.5 178.7 L361.5 178.4 L360.5 178.4 L359.5 177.7 L358.5 177.9 L357.5 177.5 L356.5 178.4 L355.5 178.9 L354.5 179.1 L353.5 178.6 L352.5 178.6 L351.5 178.8 L350.5 178.8 L349.5 178.4 L348.5 178.8 L347.4 177.0 L346.5 177.9 L345.5 179.2 L344.5 179.0 L343.5 178.1 L342.5 179.2 L341.5 178.7 L340.5 178.8 L339.5 178.8 L338.5 178.7 L337.5 178.7 L336.5 178.5 L335.5 180.0 L334.5 179.4 L333.5 178.5 L332.5 178.2 L331.4 177.9 L330.4 178.1 L329.4 178.1 L328.5 179.6 L327.5 178.9 L326.5 179.7 L325.5 178.8 L324.4 178.1 L323.4 177.2 L322.5 180.8 L321.5 179.2 L320.4 178.6 L319.5 180.2 L318.5 180.1 L317.4 178.6 L316.4 178.5 L315.5 179.1 L314.5 179.6 L313.5 179.9 L312.5 180.2 L311.5 179.7 L310.4 178.1 L309.4 176.8 L308.4 178.4 L307.5 180.7 L306.5 180.7 L305.5 180.1 L304.5 180.2 L303.5 181.0 L302.5 180.9 L301.5 180.4 L300.5 180.4 L299.5 180.9 L298.5 181.0 L297.5 180.8 L296.5 181.4 L295.5 180.5 L294.5 181.0 L293.5 181.0 L292.5 181.0 L291.5 181.1 L290.5 181.2 L289.5 181.3 L288.5 181.1 L287.5 180.9 L286.4 179.1 L285.5 180.5 L284.5 181.9 L283.5 181.0 L282.5 180.2 L281.5 180.7 L280.4 180.1 L279.5 181.4 L278.6 182.5 L277.5 181.4 L276.4 180.3 L275.5 180.5 L274.5 181.3 L273.5 181.3 L272.5 181.4 L271.5 181.4 L270.5 181.8 L269.5 182.3 L268.5 182.3 L267.5 181.6 L266.4 180.2 L265.5 181.1 L264.5 182.0 L263.5 181.4 L262.4 181.0 L261.4 179.8 L260.5 181.8 L259.5 182.5 L258.4 181.1 L257.5 182.2 L256.5 181.9 L255.5 182.4 L254.5 182.9 L253.5 182.5 L252.6 184.4 L251.6 183.6 L250.6 183.6 L249.6 183.2 L248.6 183.3 L247.4 181.7 L246.5 182.2 L245.6 183.4 L244.5 183.2 L243.5 183.4 L242.5 183.4 L241.6 184.1 L240.5 182.3 L239.5 182.1 L238.6 184.0 L237.6 184.7 L236.6 184.0 L235.6 184.9 L234.6 184.8 L233.5 183.6 L232.6 184.6 L231.5 183.8 L230.4 183.0 L229.5 183.6 L228.5 184.0 L227.4 182.6 L226.6 185.0 L225.8 186.5 L224.5 184.3 L223.5 184.1 L222.6 185.3 L221.8 186.2 L220.5 184.1 L219.7 185.9 L218.7 186.1 L217.6 185.5 L216.7 185.9 L215.7 186.6 L214.7 186.6 L213.6 186.0 L212.8 186.9 L211.8 187.3 L210.6 186.1 L209.5 185.2 L208.7 186.9 L207.8 187.6 L206.7 186.8 L205.8 187.7 L204.8 187.5 L203.6 186.5 L202.6 186.4 L201.8 187.9 L200.8 188.3 L199.6 186.3 L198.7 187.1 L197.7 187.5 L196.8 188.1 L196.0 190.3 L194.7 187.9 L193.9 189.2 L192.8 189.0 L191.7 187.8 L190.8 188.7 L189.9 189.3 L188.9 189.5 L187.7 188.0 L186.7 188.6 L186.0 190.7 L185.0 190.3 L183.8 189.5 L183.0 190.9 L182.0 191.0 L181.0 190.9 L179.8 189.8 L179.3 192.6 L178.4 193.0 L176.9 190.4 L176.0 191.2 L175.3 193.0 L174.2 192.6 L172.8 190.5 L171.8 190.5 L170.8 190.8 L169.8 190.8 L169.0 191.8 L167.9 191.8 L167.1 192.5 L166.1 193.0 L165.4 194.4 L164.3 194.1 L163.2 193.8 L162.2 193.8 L161.3 194.2 L160.6 195.8 L159.3 194.3 L158.1 193.9 L157.4 195.0 L156.4 195.5 L155.2 194.7 L154.3 195.1 L153.4 195.8 L152.2 195.2 L151.4 196.1 L150.4 196.3 L149.5 196.6 L148.7 197.6 L147.6 197.2 L146.6 197.3 L145.9 198.6 L144.6 197.9 L143.6 197.9 L142.8 198.8 L141.8 199.0 L141.1 200.1 L140.2 200.7 L138.9 199.8 L137.9 200.1 L137.2 201.1 L136.0 200.6 L135.3 201.6 L134.4 202.0 L133.3 202.0 L132.3 202.1 L131.1 201.8 L130.1 202.0 L129.2 202.5 L128.3 202.9 L127.3 203.3 L126.4 203.8 L125.6 204.5 L124.6 204.7 L123.6 205.0 L122.9 205.9 L122.6 207.4 L121.4 207.2 L120.6 207.9 L119.9 208.6 L118.4 208.0 L117.8 209.0 L116.6 209.0 L115.7 209.5 L114.9 210.0 L115.2 212.3 L114.7 213.3 L111.6 210.8 L112.7 213.9 L111.9 214.5 L110.7 214.6 L110.1 215.5 L109.4 216.1 L108.8 217.0 L106.8 216.3 L106.5 217.4 L106.5 218.9 L105.5 219.2 L104.3 219.5 L103.2 219.9 L104.5 222.4 L102.5 222.0 L101.6 222.5 L101.0 223.4 L99.6 223.5 L100.3 225.4 L101.2 227.3 L100.2 227.8 L99.5 228.5 L98.3 228.9 L97.2 229.4 L95.9 229.8 L94.7 230.4 L95.1 231.7 L95.5 232.9 L94.9 233.8 L93.8 234.4 L94.4 235.8 L93.9 236.7 L98.4 239.2 L93.7 238.8 L93.3 239.7 L90.7 240.3 L93.5 241.7 L93.1 242.6 L92.8 243.6 L93.5 244.6 L92.6 245.6 L91.0 246.7 L91.0 247.7 L91.4 248.7 L92.4 249.7 L93.7 250.6 L94.3 251.6 L94.8 252.5 L94.5 253.5 L94.6 254.5 L94.4 255.5 L93.5 256.6 L94.1 257.5 L94.8 258.3 L94.9 259.4 L94.7 260.6 L95.3 261.5 L95.2 262.7 L96.0 263.5 L97.6 263.7 L97.9 264.7 L98.2 265.6 L98.4 266.6 L98.6 267.6 L99.5 268.3 L99.7 269.5 L101.1 269.7 L102.4 269.9 L102.4 271.4 L103.8 271.3 L105.6 270.3 L105.4 272.4 L105.5 274.0 L106.2 274.9 L107.5 274.3 L108.3 274.7 L109.5 274.4 L110.7 273.8 L111.2 275.6 L111.9 276.6 L113.0 276.9 L114.2 276.2 L115.2 276.5 L116.1 277.6 L117.3 276.5 L118.4 276.3 L119.3 277.1 L120.3 277.1 L121.4 276.8 L122.4 276.2 L123.3 276.8 L124.3 277.1 L125.3 276.9 L126.3 276.7 L127.3 277.2 L128.3 278.3 L129.3 277.5 L130.3 277.0 L131.3 279.0 L132.3 277.3 L133.3 278.1 L134.3 278.1 L135.3 277.4 L136.3 276.3 L137.3 277.3 L138.3 278.8 L139.3 277.1 L140.3 276.5 L141.3 277.4 L142.3 276.4 L143.3 277.4 L144.4 278.3 L145.4 278.5 L146.4 277.7 L147.3 276.3 L148.3 275.9 L149.3 276.1 L150.3 276.0 L151.2 275.7 L152.3 277.2 L153.4 277.5 L154.4 277.3 L155.4 277.0 L156.3 276.8 L157.3 276.5 L158.2 275.3 L159.2 275.5 L160.3 276.0 L161.2 275.2 L162.1 274.5 L163.0 273.6 L164.2 275.0 L165.0 273.7 L166.2 274.7 L167.3 275.3 L168.3 275.1 L169.1 273.8 L170.1 274.1 L171.2 274.7 L172.1 273.2 L173.1 273.7 L174.2 274.3 L175.0 272.6 L175.8 271.1 L176.8 271.4 L178.1 272.8 L179.1 272.9 L180.1 273.2 L181.0 272.5 L182.0 272.5 L183.1 272.9 L184.3 273.8 L185.0 272.1 L186.1 272.6 L187.0 271.9 L188.0 271.9 L189.0 271.4 L189.9 270.6 L190.9 270.8 L191.9 270.6 L193.0 271.4 L194.1 271.7 L195.0 271.3 L196.1 272.1 L197.1 272.3 L198.1 272.4 L199.0 271.0 L200.0 270.7 L201.0 270.8 L201.9 269.7 L202.9 269.9 L203.9 269.8 L204.9 269.7 L205.9 269.7 L207.0 270.5 L207.8 269.0 L208.7 267.2 L209.7 267.6 L210.8 268.5 L211.9 269.1 L212.9 269.1 L214.0 269.9 L215.1 270.8 L215.9 269.1 L216.8 267.8 L218.0 269.5 L219.0 270.3 L219.9 269.2 L220.9 268.1 L221.9 269.1 L222.9 268.4 L223.9 268.1 L224.8 267.4 L226.0 270.5 L227.0 270.4 L227.9 268.5 L228.8 267.3 L229.8 266.9 L230.8 266.5 L231.8 266.2 L232.8 266.7 L233.8 267.0 L234.8 267.9 L235.8 267.5 L236.9 266.1 L237.9 267.0 L238.9 266.2 L239.9 266.7 L240.8 268.0 L241.8 268.6 L242.8 268.5 L243.8 267.7 L244.8 267.4 L245.8 268.6 L246.8 269.7 L247.8 268.8 L248.8 268.5 L249.8 268.1 L250.8 267.8 L251.8 267.1 L252.8 267.5 L253.8 267.3 L254.8 267.9 L255.8 268.8 L256.8 269.1 L257.8 268.1 L258.8 267.1 L259.8 268.8 L260.8 268.2 L261.8 268.5 L262.8 267.1 L263.8 268.3 L264.8 268.5 L265.8 267.9 L266.8 267.2 L267.8 267.0 L268.8 268.5 L269.8 268.8 L270.8 266.4 L271.8 266.3 L272.8 267.8 L273.8 264.4 L274.8 268.2 L275.9 269.1 L276.8 267.5 L277.8 266.5 L278.8 267.2 L279.8 266.9 L280.8 266.7 L281.8 267.8 L282.8 267.1 L283.8 266.9 L284.9 267.8 L285.8 267.3 L286.8 267.2 L287.9 267.9 L288.9 267.8 L289.8 267.0 L290.8 267.2 L291.9 267.3 L292.8 266.9 L293.8 267.1 L294.8 266.9 L295.8 265.7 L296.8 266.2 L297.9 267.5 L298.8 266.1 L299.9 267.0 L300.8 266.6 L301.8 266.2 L302.8 266.7 L303.8 265.5 L304.8 264.8 L305.9 265.7 L307.0 266.0 L308.2 266.0 L309.5 265.8 L310.8 266.3 L312.0 267.2 L313.4 267.3 L314.6 268.5 L315.9 267.7 L317.1 268.0 L318.2 268.7 L319.3 267.8 L320.5 266.7 L321.4 266.8 L322.1 267.2 L322.4 268.1 L322.4 268.7 L322.7 268.5 L323.3 269.1 L323.7 270.3 L323.3 270.9 L322.7 271.2 L323.0 272.8 L322.2 273.2 L321.1 272.6 L320.1 272.3 L319.0 272.0 L317.8 271.4 L316.7 271.9 L315.6 273.4 L314.3 273.4 L312.9 272.6 L311.6 272.4 L310.5 274.5 L309.3 275.6 L308.0 274.7 L306.8 274.7 L305.6 274.0 L304.6 274.0 L303.7 274.5 L302.5 273.9 L301.4 272.9 L300.6 274.2 L299.5 274.2 L298.6 274.6 L297.9 276.2 L296.8 275.9 L295.6 274.8 L294.7 275.4 L293.7 275.7 L292.6 275.3 L291.7 276.0 L290.8 276.4 L289.8 276.5 L288.9 277.1 L287.9 277.3 L286.8 276.9 L285.8 276.7 L285.2 279.4 L284.1 278.8 L282.9 278.0 L282.0 278.2 L281.0 278.5 L280.1 278.8 L279.0 278.7 L278.1 279.3 L277.1 279.4 L276.1 279.2 L275.3 280.4 L274.2 280.1 L272.9 278.9 L272.0 279.6 L271.0 279.6 L270.4 281.2 L269.2 280.6 L268.1 280.4 L267.2 280.9 L266.5 282.1 L265.3 281.5 L264.6 283.0 L263.8 283.9 L262.6 283.1 L261.9 284.4 L261.0 285.0 L259.5 283.0 L258.6 283.5 L257.4 283.1 L256.3 283.0 L255.8 284.9 L254.9 285.2 L253.6 284.6 L252.8 285.2 L252.1 286.3 L251.4 287.6 L249.4 284.4 L248.7 285.5 L248.1 287.1 L247.4 288.2 L246.5 288.6 L245.2 287.8 L244.3 288.4 L243.3 288.6 L242.1 288.0 L241.3 288.8 L240.2 288.6 L239.6 290.1 L237.9 288.1 L237.4 289.8 L236.5 290.3 L235.5 290.5 L234.6 290.9 L233.7 291.2 L232.7 291.2 L231.9 292.2 L231.0 292.7 L229.9 292.5 L228.8 292.3 L228.3 294.4 L227.0 293.4 L225.8 292.7 L224.9 293.2 L224.2 294.7 L223.5 295.7 L222.2 294.8 L220.8 293.1 L219.8 293.5 L219.1 294.8 L218.1 294.9 L217.3 295.7 L216.2 295.7 L215.2 295.8 L214.4 296.7 L213.5 297.0 L212.7 297.9 L211.7 298.2 L210.7 298.3 L209.7 298.4 L208.4 297.3 L207.3 297.2 L206.7 298.6 L205.7 298.9 L204.7 299.1 L203.7 299.0 L201.8 296.4 L201.8 299.7 L201.0 300.4 L199.9 300.5 L199.1 301.3 L198.4 302.3 L197.3 302.1 L196.3 302.3 L195.4 302.6 L194.1 302.0 L193.4 303.0 L192.3 303.0 L191.0 302.3 L190.2 303.2 L189.4 303.7 L188.5 304.3 L188.1 306.0 L187.0 305.9 L186.3 306.7 L185.3 307.0 L184.1 306.6 L182.6 305.8 L182.2 307.4 L181.5 308.3 L180.4 308.2 L179.7 309.1 L178.7 309.3 L177.7 309.7 L177.2 311.1 L175.7 310.1 L174.6 309.9 L174.1 311.4 L173.0 311.5 L172.1 311.9 L170.7 311.0 L169.5 310.8 L168.8 311.8 L167.8 311.9 L165.7 309.4 L166.3 313.6 L165.6 314.7 L164.2 313.8 L163.4 314.5 L162.2 314.4 L161.2 314.5 L161.1 316.9 L160.1 317.0 L158.8 316.6 L157.7 316.5 L157.2 317.9 L156.4 318.6 L155.0 317.9 L154.1 318.3 L153.2 318.6 L153.7 321.9 L152.0 320.8 L150.6 320.2 L150.2 321.4 L149.1 321.4 L148.0 321.6 L147.0 321.8 L145.8 321.9 L145.8 323.7 L145.1 324.5 L144.0 324.6 L143.4 325.5 L142.7 326.2 L141.5 326.4 L139.2 325.1 L140.4 328.2 L139.9 329.2 L139.1 329.9 L138.2 330.4 L138.0 331.7 L136.8 331.8 L135.6 331.9 L134.8 332.5 L135.0 334.4 L133.0 333.5 L131.6 333.2 L131.3 334.5 L130.5 335.2 L129.7 335.8 L128.3 335.6 L127.4 336.1 L127.6 338.0 L126.8 338.7 L126.0 339.2 L125.4 340.1 L124.8 340.8 L124.2 341.7 L123.0 341.8 L122.1 342.3 L121.4 343.0 L120.8 343.9 L120.5 344.9 L120.0 345.8 L118.8 346.1 L117.2 346.2 L117.2 347.4 L116.9 348.5 L118.9 351.2 L117.3 351.3 L115.7 351.3 L115.3 352.3 L113.8 352.4 L112.0 352.1 L111.8 353.2 L111.6 354.3 L112.1 356.2 L111.7 357.3 L110.8 357.8 L109.5 357.9 L106.6 356.4 L108.8 360.0 L107.0 359.7 L106.5 360.6 L106.7 362.2 L104.9 361.9 L103.0 361.5 L103.5 363.3 L105.0 365.9 L104.0 366.3 L102.2 366.1 L101.3 366.7 L101.1 367.8 L101.7 369.5 L99.8 369.3 L98.8 369.9 L98.9 371.2 L98.1 371.8 L96.6 372.1 L96.0 372.9 L95.0 373.5 L94.8 374.6 L95.4 376.0 L95.9 377.3 L96.1 378.5 L94.7 378.9 L94.3 379.9 L94.8 381.1 L93.9 381.9 L93.8 382.9 L93.3 383.8 L93.2 384.8 L91.7 385.4 L92.1 386.5 L92.1 387.6 L91.8 388.5 L91.0 389.4 L89.4 390.2 L89.7 391.3 L90.4 392.5 L90.5 393.8 L90.4 395.1 L90.4 396.4 L91.3 397.7 L90.4 399.0 L88.7 400.3 L88.7 401.5 L89.9 402.8 L90.0 403.9 L89.0 404.9 L89.4 405.8 L89.8 406.6 L89.4 407.1 L90.8 408.1 L90.4 409.1 L89.4 407.8 L88.1 407.4 L87.0 407.8 L86.9 408.7 L86.8 408.5 L87.1 407.7 L87.2 407.6 L87.9 407.0 L87.8 407.3 L87.4 407.5 L87.7 407.4 L88.5 407.0 L88.5 407.0 L88.5 407.0 L87.7 407.3 L86.0 407.8 L86.4 407.6 L86.9 407.4 L87.4 407.2 L87.9 407.0 L87.6 407.0 L86.7 407.1 L86.2 407.1 L87.1 406.8 L87.7 406.6 L86.3 406.7 L89.3 406.1 L87.2 406.3 L86.7 406.3 L87.4 406.0 L87.5 405.9 L85.9 405.9 L85.7 405.8 L86.5 405.5 L86.6 405.4 L87.9 405.0 L88.3 404.8 L87.1 404.8 L86.1 404.7 L86.5 404.5 L86.9 404.2 L87.2 404.0 L87.1 403.8 L86.0 403.7 L86.4 403.5 L85.7 403.3 L86.2 403.0 L85.8 402.8 L85.9 402.6 L86.2 402.3 L85.7 402.1 L85.5 401.9 L85.7 401.6 L85.1 401.4 L85.7 401.1 L86.8 400.8 L84.5 400.6 L87.1 400.2 L86.9 399.9 L86.0 399.7 L86.6 399.3 L86.5 399.0 L85.8 398.8 L84.8 398.5 L84.4 398.2 L85.6 397.8 L86.2 397.5 L86.5 397.1 L86.7 396.8 L86.0 396.5 L85.2 396.2 L85.6 395.8 L85.4 395.4 L85.1 395.1 L85.8 394.7 L84.6 394.4 L86.2 393.9 L85.0 393.6 L85.5 393.2 L85.7 392.8 L84.9 392.4 L84.7 392.0 L85.3 391.6 L85.8 391.1 L85.6 390.7 L85.4 390.3 L84.7 389.9 L84.9 389.5 L84.9 389.0 L84.9 388.6 L84.8 388.1 L85.1 387.7 L86.1 387.2 L86.1 386.7 L86.1 386.2 L85.4 385.8 L85.1 385.3 L84.5 384.8 L85.5 384.3 L85.8 383.8 L85.4 383.3 L84.6 382.8 L85.7 382.3 L86.2 381.8 L85.3 381.3 L84.5 380.8 L84.6 380.2 L83.3 379.7 L84.4 379.2 L85.5 378.6 L85.2 378.0 L85.3 377.5 L83.2 377.0 L84.4 376.4 L85.3 375.8 L83.9 375.2 L84.5 374.6 L85.4 374.0 L84.9 373.4 L83.9 372.8 L86.0 372.2 L86.4 371.6 L85.4 371.0 L84.8 370.4 L85.9 369.7 L85.8 369.1 L83.6 368.5 L84.6 367.9 L85.4 367.2 L83.5 366.6 L82.9 365.9 L83.4 365.3 L82.9 364.6 L83.3 363.9 L84.1 363.2 L85.5 362.5 L85.8 361.8 L84.5 361.2 L84.2 360.5 L84.9 359.8 L85.5 359.1 L86.1 358.3 L84.5 357.6 L82.9 356.9 L84.0 356.2 L85.9 355.4 L85.6 354.7 L85.1 354.0 L85.1 353.2 L84.1 352.5 L82.9 351.7 L85.4 350.9 L85.3 350.2 L84.5 349.4 L87.4 348.6 L85.4 347.8 L85.5 347.0 L85.2 346.3 L86.2 345.4 L85.7 344.6 L84.9 343.8 L84.4 343.0 L84.7 342.2 L84.7 341.4 L83.9 340.6 L83.5 339.7 L83.8 338.9 L83.2 338.0 L85.2 337.2 L86.7 336.3 L84.8 335.5 L83.9 334.6 L84.9 333.7 L84.5 332.9 L83.2 332.0 L86.0 331.1 L85.1 330.2 L85.0 329.3 L85.1 328.4 L84.6 327.5 L84.2 326.6 L84.4 325.7 L84.9 324.7 L84.8 323.8 L84.4 322.9 L84.9 321.9 L85.2 321.0 L85.7 320.0 L84.2 319.1 L82.9 318.1 L84.0 317.2 L84.5 316.2 L83.6 315.2 L84.2 314.3 L85.4 313.3 L85.0 312.3 L84.1 311.3 L84.5 310.3 L85.0 309.3 L84.8 308.3 L83.4 307.3 L83.8 306.2 L84.4 305.2 L85.1 304.2 L85.2 303.1 L84.1 302.1 L84.5 301.1 L82.7 300.0 L85.1 299.0 L85.6 297.9 L84.8 296.8 L84.9 295.8 L84.2 294.7 L84.6 293.6 L85.0 292.5 L84.4 291.4 L83.7 290.3 L84.0 289.2 L86.5 288.1 L85.4 287.0 L84.6 285.9 L84.3 284.8 L85.9 283.6 L85.5 282.5 L83.2 281.4 L82.9 280.2 L83.6 279.1 L83.9 277.9 L84.6 276.8 L84.5 275.6 L85.2 274.4 L85.9 273.3 L85.7 272.1 L83.4 270.9 L82.2 269.7 L83.8 268.5 L84.8 267.3 L83.2 266.1 L83.6 264.9 L86.0 263.7 L85.3 262.5 L84.5 261.3 L83.1 260.0 L83.2 258.8 L83.3 257.6 L83.4 256.3 L82.8 255.1 L84.0 253.8 L85.3 252.6 L84.0 251.3 L82.6 250.0 L83.7 248.8 L83.6 247.5 L82.3 246.2 L82.8 244.9 L83.0 243.6 L84.0 242.3 L84.9 241.0 L84.8 239.7 L83.7 238.4 L84.2 237.0 L85.6 235.7 L85.3 234.4 L85.9 233.0 L84.9 231.7 L83.1 230.4 L83.3 229.0 L83.3 227.7 L84.1 226.3 L84.6 224.9 L84.0 223.6 L86.5 222.2 L84.7 220.8 L83.7 219.4 L83.4 218.0 L83.0 216.6 L83.2 215.2 L83.5 213.8 L83.5 212.4 L84.2 211.0 L84.6 209.6 L85.7 208.1 L84.9 206.7 L84.5 205.3 L83.8 203.8 L84.5 202.4 L84.2 200.9 L83.8 199.5 L83.2 198.0 L82.9 196.5 L83.4 195.0 L83.2 193.6 L83.3 192.1 L82.2 190.6 L83.1 189.1 L83.8 187.6 L84.8 186.1 L84.1 184.6 L83.1 183.1 L84.2 181.6 L84.2 180.0 L83.9 178.5 L82.9 177.0 L83.5 175.4 L84.9 173.9 L84.7 172.3 L84.4 170.8 L84.9 169.2 L85.3 167.6 L85.0 166.1 L84.1 164.5 L84.2 162.9 L82.8 161.3 L83.4 159.7 L83.7 158.1 L83.4 156.5 L84.4 154.9 L84.3 153.3 L85.9 151.7 L84.3 150.1 L84.7 148.5 L84.9 146.8 L85.4 145.2 L85.9 143.6 L84.4 141.9 L83.4 140.3 L83.1 138.6 L82.5 136.9 L84.4 135.3 L82.4 133.6 L83.3 131.9 L84.9 130.2 L84.5 128.5 L83.3 126.9 L83.4 125.2 L83.8 123.5 L84.5 121.7 L85.7 120.0 L85.0 118.3 L83.5 116.6 L82.9 114.9 L82.3 113.1 L83.0 111.4 L83.1 109.6 L83.5 107.9 L84.3 106.1 L83.5 104.4 L84.4 102.6 L84.6 100.9 L83.5 99.1 L84.6 97.3 L84.2 95.5 L84.1 93.7 L83.3 91.9 L83.7 90.1 L85.0 88.3 L83.5 86.5 L82.6 84.7 L84.0 82.9 L83.2 81.1 L84.1 79.2 L84.1 77.4 L84.5 75.6 L84.4 73.7 L83.6 71.9 L83.2 70.0 L83.5 68.1 L83.3 66.3 L83.2 64.4 L84.5 62.5 L84.3 60.7 L84.9 58.8 L84.5 56.9 L81.7 55.0 L82.2 53.1 L82.9 51.2 L84.0 49.3 L85.8 47.3 L83.6 45.4 L83.2 43.5 L83.7 41.6 L85.3 39.6 L85.5 37.7 L84.2 35.7 L83.8 33.8 L84.4 31.8 L84.1 29.9 L83.5 27.9 L83.5 25.9 L84.1 24.0 L83.3 22.0 L83.2 20.0Z" fill="#00ffff" stroke="#000" stroke-width="0.50" stroke-linejoin="round" stroke-dasharray="0.7 6.0 1.8 7.5 1.1 3.2 1.2 2.3 1.4 6.9 0.5 7.5 1.1 6.1 1.5 8.1 2.0 6.6 1.2 7.3 1.6 4.6 1.8 2.9 0.5 3.3 1.5 8.9 1.1 2.9 1.7 8.9 0.6 6.7 1.3 6.4 1.0 4.0 1.8 2.6 1.5 5.0 1.3 8.6 1.6 7.1 1.2 6.7 1.1 5.1 1.8 6.2 1.7 6.1 1.3 7.2 1.0 7.8 1.4 3.8 1.5 7.8 0.8 4.5 1.3 3.6 1.5 7.7 1.2 2.3 1.0 7.1 1.4 5.6 1.7 8.8 1.2 3.9 1.6 3.2 0.7 6.7 0.9 7.5 0.9 5.3 1.0 3.4 0.9 6.4 0.8 6.9 1.2 3.9 1.8 3.8 1.9 6.0 1.7 8.9 1.2 6.9 0.6 7.3 0.6 3.9 1.7 6.8 1.0 2.8 0.7 7.5 0.9 3.8 0.5 6.0 1.6 8.5 2.0 3.4"/>
<path d="M85.2 39.8 L86.3 40.8 L86.5 41.9 L87.4 42.6 L88.1 43.4 L88.3 44.5 L88.6 45.5 L88.2 46.5 L87.4 47.4 L88.0 48.4 L88.6 49.3 L88.6 50.3 L88.2 51.3 L88.0 52.3 L87.4 53.3 L88.1 54.3 L88.6 55.3 L87.5 56.3 L87.1 57.3 L87.5 58.3 L88.0 59.3 L88.1 60.3 L88.5 61.3 L88.5 62.3 L87.6 63.3 L88.0 64.4 L88.2 65.4 L88.3 66.4 L88.6 67.4 L88.3 68.4 L88.0 69.4 L88.1 70.5 L88.1 71.5 L88.6 72.5 L89.4 73.5 L88.8 74.5 L89.2 75.5 L90.1 76.6 L89.7 77.6 L88.6 78.6 L87.8 79.6 L86.7 80.6 L87.2 81.6 L88.6 82.6 L88.6 83.6 L89.0 84.6 L88.5 85.6 L88.3 86.6 L89.1 87.6 L88.6 88.6 L88.5 89.6 L87.7 90.6 L87.8 91.6 L87.7 92.6 L88.0 93.6 L88.7 94.6 L88.7 95.6 L88.8 96.6 L89.5 97.6 L89.7 98.6 L88.6 99.6 L88.5 100.6 L88.5 101.6 L87.9 102.6 L89.0 103.6 L88.4 104.6 L87.6 105.6 L88.3 106.6 L88.8 107.6 L88.6 108.6 L89.0 109.6 L89.7 110.6 L89.7 111.6 L89.2 112.7 L88.8 113.7 L88.0 114.7 L87.8 115.8 L86.7 116.8 L87.7 117.8 L87.9 118.9 L88.6 119.8 L88.5 120.8 L88.2 121.8 L87.9 122.7 L88.2 123.6 L88.5 124.5 L88.9 125.4 L90.0 125.8 L90.6 126.8 L91.4 127.6 L92.7 127.9 L93.0 129.0 L93.6 129.8 L94.5 130.3 L94.7 131.5 L94.4 133.2 L96.3 132.7 L97.5 133.0 L97.3 134.6 L98.2 135.1 L99.5 135.2 L100.2 136.0 L101.1 136.4 L101.7 137.2 L101.7 138.8 L101.5 140.8 L103.9 139.3 L104.9 139.6 L104.9 141.3 L105.4 142.3 L107.1 141.7 L107.7 142.6 L108.9 142.7 L110.0 142.7 L110.4 143.9 L111.4 144.3 L112.3 144.7 L112.3 146.6 L113.6 146.6 L114.7 146.7 L116.0 146.5 L117.1 146.4 L118.0 147.0 L118.6 147.8 L119.5 148.3 L119.8 150.0 L120.6 150.6 L122.0 149.8 L122.8 150.5 L123.9 150.4 L125.1 150.3 L125.7 151.5 L126.7 151.6 L127.6 152.2 L128.5 152.5 L129.6 152.5 L130.3 153.6 L131.2 154.3 L132.3 154.0 L133.4 153.8 L134.3 154.6 L135.4 154.2 L136.5 153.6 L137.4 154.4 L138.2 155.5 L139.2 155.3 L140.3 154.9 L141.4 154.4 L142.4 154.4 L143.3 154.9 L144.3 155.4 L145.2 156.0 L146.2 156.0 L147.2 155.9 L148.4 154.7 L149.3 155.5 L150.2 156.6 L151.2 156.4 L152.4 155.2 L153.3 155.8 L154.2 157.4 L155.2 157.5 L156.2 156.7 L157.2 156.8 L158.3 156.6 L159.3 156.1 L160.3 156.7 L161.2 157.3 L162.3 156.8 L163.2 157.7 L164.1 159.3 L165.1 159.3 L166.1 158.8 L167.2 157.7 L168.3 157.3 L169.2 158.1 L170.2 158.5 L171.2 157.9 L172.2 157.7 L173.2 157.7 L174.2 158.0 L175.2 158.4 L176.2 158.9 L177.1 159.3 L178.2 158.6 L179.2 159.0 L180.2 158.2 L181.2 157.9 L182.3 157.9 L183.2 158.8 L184.1 159.9 L185.1 160.1 L186.2 159.5 L187.2 159.2 L188.2 158.4 L189.2 158.2 L190.2 159.6 L191.2 159.9 L192.2 159.2 L193.2 159.1 L194.2 159.1 L195.2 159.4 L196.2 158.6 L197.2 159.2 L198.2 158.8 L199.2 158.9 L200.2 159.5 L201.2 159.7 L202.2 159.8 L203.2 159.9 L204.2 159.8 L205.2 159.5 L206.2 159.6 L207.2 159.9 L208.2 160.4 L209.2 160.5 L210.2 159.9 L211.2 160.2 L212.2 160.6 L213.2 160.6 L214.1 161.6 L215.1 161.7 L216.2 160.3 L217.2 159.6 L218.2 160.4 L219.2 160.2 L220.2 159.8 L221.2 160.7 L222.2 160.8 L223.2 161.2 L224.2 160.6 L225.2 160.9 L226.2 160.7 L227.2 161.2 L228.2 161.2 L229.2 160.9 L230.2 161.8 L231.1 162.3 L232.2 161.8 L233.1 162.7 L234.2 161.5 L235.2 161.8 L236.2 161.1 L237.2 160.7 L238.2 161.8 L239.2 161.8 L240.2 162.0 L241.1 162.8 L242.2 162.1 L243.2 161.6 L244.2 161.7 L245.1 163.5 L246.2 162.5 L247.2 162.7 L248.2 162.8 L249.2 161.9 L250.2 162.0 L251.2 162.6 L252.2 162.4 L253.2 161.7 L254.2 161.4 L255.2 162.1 L256.2 162.1 L257.2 162.6 L258.2 163.3 L259.2 161.5 L260.2 161.1 L261.2 161.9 L262.2 161.8 L263.2 161.8 L264.2 162.7 L265.2 160.9 L266.2 162.2 L267.2 161.6 L268.2 163.2 L269.2 162.6 L270.2 162.5 L271.2 162.5 L272.2 161.7 L273.2 162.5 L274.2 163.6 L275.2 162.7 L276.2 161.1 L277.2 162.0 L278.2 162.8 L279.2 162.6 L280.2 162.3 L281.2 162.4 L282.2 163.4 L283.2 165.3 L284.2 163.2 L285.2 163.3 L286.2 163.9 L287.2 163.0 L288.2 162.4 L289.2 161.8 L290.2 161.8 L291.2 162.6 L292.2 162.3 L293.2 162.8 L294.2 163.2 L295.2 164.1 L296.2 164.5 L297.2 162.9 L298.2 162.6 L299.2 164.5 L300.2 163.8 L301.2 164.1 L302.2 163.5 L303.2 163.3 L304.2 163.5 L305.2 163.4 L306.2 163.4 L307.2 163.0 L308.2 163.2 L309.2 163.0 L310.2 162.9 L311.2 163.3 L312.2 162.5 L313.2 162.2 L314.2 162.8 L315.2 163.4 L316.2 163.7 L317.2 163.3 L318.2 162.9 L319.2 163.1 L320.2 163.3 L321.2 163.6 L322.2 163.6 L323.2 163.2 L324.2 163.5 L325.2 163.8 L326.2 162.9 L327.2 162.8 L328.2 163.4 L329.3 162.5 L330.2 163.1 L331.2 163.1 L332.2 164.0 L333.2 163.4 L334.2 163.7 L335.3 163.1 L336.2 163.3 L337.2 163.8 L338.2 163.9 L339.3 162.9 L340.3 163.2 L341.3 163.5 L342.3 163.6 L343.2 163.9 L344.2 164.4 L345.3 163.8 L346.3 163.4 L347.3 163.6 L348.2 164.4 L349.2 164.4 L350.3 164.1 L351.3 164.1 L352.3 163.3 L353.3 162.7 L354.3 163.1 L355.3 164.1 L356.3 164.1 L357.3 164.4 L358.3 164.7 L359.3 164.9 L360.3 164.9 L361.3 163.7 L362.3 164.0 L363.3 163.9 L364.3 163.4 L365.3 164.3 L366.3 163.8 L367.3 164.9 L368.3 164.0 L369.3 163.0 L370.3 163.3 L371.3 162.9 L372.3 163.2 L373.3 163.9 L374.3 163.3 L375.3 162.5 L376.3 162.5 L377.3 163.6 L378.3 163.6 L379.4 160.8 L380.3 164.2 L381.3 164.6 L382.3 164.5 L383.3 163.9 L384.3 165.0 L385.3 164.6 L386.3 164.0 L387.3 164.4 L388.3 164.4 L389.3 164.1 L390.3 163.6 L391.3 162.6 L392.3 163.1 L393.3 163.7 L394.3 164.4 L395.3 163.6 L396.3 164.4 L397.2 166.3 L398.2 166.1 L399.3 165.2 L400.3 164.9 L401.3 164.7 L402.3 164.3 L403.3 164.3 L404.4 164.7 L405.5 164.9 L406.7 164.6 L407.9 165.6 L409.2 165.7 L410.5 165.2 L411.8 165.5 L413.2 165.1 L414.5 164.8 L415.8 165.5 L417.1 165.6 L418.3 166.0 L419.6 165.5 L420.7 165.1 L421.8 166.0 L422.8 165.5 L423.9 164.6 L424.7 165.2 L425.3 165.8 L426.0 165.8 L426.5 165.8 L426.6 166.6 L426.0 166.9 L426.0 166.7 L427.2 167.9 L426.8 168.2 L426.2 168.1 L426.7 169.3 L426.1 169.5 L425.5 169.8 L424.8 170.3 L423.9 170.5 L423.0 170.7 L422.1 171.6 L420.9 171.0 L419.6 170.1 L418.5 170.4 L417.2 170.4 L416.0 171.0 L414.6 170.7 L413.3 170.2 L412.0 171.0 L410.7 171.4 L409.4 171.4 L408.2 171.8 L407.0 171.8 L405.7 171.6 L404.6 171.9 L403.6 172.9 L402.6 173.3 L401.6 172.5 L400.5 171.9 L399.5 171.7 L398.6 172.3 L397.6 172.5 L396.6 172.8 L395.6 172.9 L394.6 173.3 L393.5 172.0 L392.6 173.8 L391.6 172.8 L390.5 172.5 L389.6 173.0 L388.6 172.7 L387.6 172.9 L386.6 172.9 L385.6 173.1 L384.6 173.8 L383.6 173.4 L382.5 172.9 L381.5 173.0 L380.5 172.9 L379.5 173.1 L378.6 173.7 L377.6 173.5 L376.6 175.0 L375.6 174.2 L374.5 173.2 L373.5 173.0 L372.5 173.0 L371.5 173.4 L370.6 174.0 L369.6 174.1 L368.6 174.3 L367.6 174.0 L366.5 173.5 L365.5 172.0 L364.5 173.4 L363.5 173.2 L362.6 174.8 L361.6 174.7 L360.6 174.1 L359.6 174.4 L358.6 174.6 L357.6 174.9 L356.5 173.7 L355.5 173.4 L354.5 174.1 L353.6 174.9 L352.6 175.0 L351.6 175.0 L350.6 174.6 L349.5 172.9 L348.6 174.8 L347.6 175.2 L346.5 174.6 L345.6 174.9 L344.5 174.6 L343.6 174.8 L342.6 175.6 L341.6 175.3 L340.6 175.3 L339.6 175.5 L338.5 174.9 L337.6 175.3 L336.6 175.1 L335.5 174.0 L334.5 174.7 L333.5 175.0 L332.6 175.4 L331.6 175.8 L330.6 175.6 L329.6 175.8 L328.5 175.3 L327.5 174.8 L326.5 174.8 L325.6 176.4 L324.6 176.2 L323.6 175.7 L322.5 174.6 L321.5 175.7 L320.5 175.3 L319.5 175.4 L318.5 174.8 L317.5 175.2 L316.5 175.2 L315.5 175.8 L314.5 175.9 L313.5 174.8 L312.5 175.9 L311.6 176.8 L310.5 175.2 L309.5 175.0 L308.5 175.6 L307.5 175.2 L306.5 175.7 L305.5 175.9 L304.5 176.5 L303.6 177.0 L302.6 176.8 L301.5 176.0 L300.5 175.3 L299.6 177.3 L298.5 176.4 L297.5 176.0 L296.5 176.4 L295.5 176.8 L294.6 178.2 L293.6 177.3 L292.5 177.1 L291.5 177.0 L290.5 177.0 L289.6 177.4 L288.5 176.5 L287.5 176.8 L286.5 177.0 L285.5 176.4 L284.5 177.0 L283.5 177.4 L282.6 177.5 L281.5 177.3 L280.6 177.8 L279.5 177.2 L278.5 176.3 L277.6 178.1 L276.6 177.8 L275.5 176.5 L274.5 176.5 L273.5 176.7 L272.5 176.4 L271.5 176.6 L270.5 176.7 L269.6 177.9 L268.6 179.0 L267.5 177.2 L266.5 176.3 L265.5 176.5 L264.5 176.4 L263.5 177.0 L262.6 178.3 L261.5 178.1 L260.5 177.3 L259.5 177.5 L258.6 178.4 L257.5 177.5 L256.5 178.3 L255.5 178.2 L254.5 177.0 L253.5 176.4 L252.5 177.9 L251.5 177.9 L250.5 177.8 L249.5 178.4 L248.5 178.2 L247.5 178.6 L246.5 178.3 L245.5 177.1 L244.5 178.3 L243.5 178.9 L242.5 179.2 L241.5 179.0 L240.5 178.1 L239.5 178.2 L238.5 178.6 L237.5 178.7 L236.5 178.8 L235.5 179.3 L234.5 178.9 L233.5 179.1 L232.5 179.1 L231.5 180.0 L230.5 180.1 L229.5 178.6 L228.5 179.0 L227.5 178.3 L226.5 178.9 L225.5 178.1 L224.5 178.9 L223.5 179.3 L222.5 179.3 L221.5 179.7 L220.5 178.7 L219.5 179.0 L218.5 179.0 L217.5 178.1 L216.5 179.2 L215.5 180.7 L214.5 179.5 L213.5 177.7 L212.5 179.2 L211.5 179.2 L210.5 178.9 L209.5 179.1 L208.5 178.6 L207.5 179.1 L206.5 179.5 L205.5 179.2 L204.5 179.2 L203.5 179.1 L202.5 179.4 L201.6 180.7 L200.6 180.9 L199.6 180.2 L198.5 179.4 L197.5 179.7 L196.5 180.2 L195.5 180.2 L194.5 180.0 L193.5 180.5 L192.6 180.9 L191.6 181.0 L190.6 181.0 L189.5 180.1 L188.6 181.4 L187.6 181.8 L186.6 181.0 L185.5 180.9 L184.6 181.2 L183.5 180.5 L182.6 181.9 L181.6 181.7 L180.4 180.3 L179.6 181.5 L178.5 181.1 L177.4 180.6 L176.5 181.5 L175.6 182.3 L174.6 182.2 L173.7 183.1 L172.6 182.1 L171.6 182.6 L170.8 184.1 L169.7 183.0 L168.6 182.8 L167.8 184.0 L166.7 183.6 L165.7 183.4 L164.7 183.5 L163.7 183.7 L162.5 182.9 L161.7 183.7 L160.9 185.1 L159.8 185.0 L158.8 184.9 L157.8 184.9 L156.8 185.2 L155.9 185.5 L154.9 185.9 L153.7 184.9 L152.5 183.7 L151.7 184.8 L150.9 186.0 L150.0 186.8 L148.8 185.8 L147.9 186.4 L146.8 186.3 L146.0 187.2 L144.8 186.5 L143.6 185.4 L142.8 186.5 L142.2 188.4 L141.1 188.2 L140.0 187.7 L139.1 188.5 L138.3 189.1 L137.1 188.6 L136.0 188.2 L135.3 189.7 L134.3 189.7 L133.6 191.1 L132.3 189.9 L131.2 189.8 L130.6 191.5 L129.8 192.1 L128.5 191.3 L127.2 190.5 L126.3 190.9 L125.6 192.1 L124.4 191.6 L123.5 192.3 L122.8 193.2 L121.8 193.6 L121.3 195.1 L120.3 195.2 L119.0 194.5 L117.9 194.4 L117.1 195.2 L116.2 195.5 L115.3 196.1 L114.2 196.1 L113.2 196.3 L112.5 197.1 L111.9 198.1 L111.4 199.3 L110.3 199.3 L109.3 199.6 L108.5 200.2 L107.7 200.8 L106.2 200.4 L105.4 201.1 L104.5 201.7 L103.2 201.7 L103.1 203.2 L103.0 204.5 L102.4 205.2 L101.6 205.8 L100.6 206.3 L100.2 207.3 L98.9 207.6 L98.2 208.4 L98.4 209.8 L97.8 210.6 L96.6 211.1 L97.4 212.5 L96.3 213.1 L95.7 213.9 L96.1 215.1 L96.6 216.4 L96.3 217.3 L95.8 218.2 L94.6 218.9 L94.0 219.8 L94.2 220.9 L94.3 221.9 L94.5 223.0 L93.6 223.8 L93.1 224.8 L93.3 225.8 L92.9 226.8 L93.0 227.8 L93.3 228.9 L93.1 229.8 L92.9 230.8 L92.3 231.8 L92.5 232.8 L92.6 233.8 L92.6 234.8 L93.4 235.9 L92.6 236.8 L91.6 237.7 L91.6 238.8 L93.6 239.8 L90.4 240.7 L90.6 241.7 L91.5 242.7 L91.4 243.7 L91.2 244.7 L91.8 245.7 L91.8 246.7 L92.3 247.8 L92.6 248.8 L92.2 249.8 L91.3 250.7 L91.3 251.7 L90.4 252.7 L91.8 253.8 L90.4 254.7 L90.3 255.7 L90.9 256.8 L91.2 257.8 L91.3 258.8 L91.8 259.8 L92.2 260.8 L91.1 261.8 L91.0 262.8 L91.5 264.0 L91.4 265.2 L91.1 266.5 L91.5 267.8 L91.5 269.2 L90.6 270.5 L91.2 271.7 L92.3 272.8 L92.1 273.8 L91.4 274.7 L90.8 275.4 L91.4 275.8 L91.6 276.2 L91.1 275.6 L89.8 276.2 L88.4 276.6 L87.5 275.9 L87.6 275.6 L87.8 275.5 L87.2 276.2 L86.9 276.3 L87.1 276.0 L87.2 275.9 L87.6 275.7 L87.4 275.7 L87.3 275.7 L88.3 275.3 L88.9 275.1 L88.4 275.2 L87.6 275.2 L88.1 275.0 L87.7 275.0 L86.1 275.1 L86.3 274.9 L86.6 274.7 L85.7 274.7 L85.6 274.5 L86.4 274.2 L86.6 274.0 L86.9 273.8 L87.4 273.5 L87.5 273.3 L86.7 273.2 L86.7 272.9 L87.9 272.6 L86.5 272.5 L86.6 272.2 L86.9 271.9 L87.3 271.6 L87.1 271.4 L87.0 271.1 L86.5 270.8 L85.0 270.6 L86.3 270.2 L86.3 269.9 L85.9 269.6 L86.4 269.2 L86.0 268.9 L86.3 268.5 L86.9 268.1 L87.6 267.7 L86.3 267.4 L86.4 267.0 L86.3 266.6 L86.5 266.2 L86.5 265.8 L85.4 265.4 L86.4 264.9 L87.4 264.4 L87.0 264.0 L86.8 263.6 L86.3 263.1 L86.4 262.6 L86.5 262.1 L86.6 261.6 L86.0 261.2 L86.3 260.6 L86.6 260.1 L87.2 259.6 L87.0 259.0 L85.8 258.5 L86.1 258.0 L85.5 257.4 L85.1 256.9 L85.1 256.3 L85.1 255.7 L86.0 255.1 L86.4 254.5 L86.7 253.9 L86.8 253.2 L86.7 252.6 L86.9 252.0 L85.5 251.4 L85.3 250.7 L85.6 250.0 L85.8 249.4 L86.6 248.7 L87.3 248.0 L86.9 247.3 L86.3 246.6 L85.5 245.9 L85.8 245.2 L86.5 244.4 L86.1 243.7 L85.4 243.0 L84.9 242.2 L85.3 241.4 L86.2 240.7 L86.4 239.9 L85.6 239.1 L86.0 238.3 L86.8 237.5 L86.6 236.7 L86.0 235.8 L86.6 235.0 L85.3 234.2 L86.1 233.3 L85.7 232.5 L86.0 231.6 L86.5 230.7 L86.9 229.8 L86.0 229.0 L84.7 228.1 L83.1 227.2 L85.3 226.2 L86.7 225.3 L86.1 224.4 L85.7 223.4 L86.0 222.5 L87.4 221.5 L85.5 220.6 L84.9 219.6 L85.2 218.6 L85.4 217.6 L85.3 216.6 L85.1 215.6 L85.5 214.6 L85.9 213.6 L86.5 212.5 L85.7 211.5 L84.4 210.4 L86.3 209.4 L86.0 208.3 L86.1 207.2 L86.9 206.2 L86.4 205.1 L84.7 204.0 L85.3 202.9 L85.6 201.7 L86.0 200.6 L85.8 199.5 L86.5 198.3 L86.2 197.2 L86.0 196.0 L86.6 194.8 L86.0 193.7 L85.8 192.5 L85.3 191.3 L85.3 190.1 L85.8 188.9 L85.6 187.7 L85.0 186.4 L84.9 185.2 L85.3 184.0 L83.6 182.7 L85.0 181.5 L85.1 180.2 L86.2 178.9 L86.1 177.6 L86.2 176.3 L85.9 175.0 L85.6 173.7 L85.0 172.4 L84.7 171.1 L83.7 169.7 L85.3 168.4 L85.1 167.0 L85.1 165.7 L86.3 164.3 L85.5 162.9 L84.9 161.5 L85.8 160.2 L85.8 158.8 L85.9 157.3 L87.0 155.9 L85.5 154.5 L85.4 153.1 L85.1 151.6 L85.6 150.2 L85.4 148.7 L85.7 147.2 L85.7 145.8 L85.4 144.3 L84.8 142.8 L86.0 141.3 L86.7 139.8 L86.2 138.2 L86.1 136.7 L86.0 135.2 L86.3 133.6 L88.0 132.1 L86.2 130.5 L85.8 129.0 L86.2 127.4 L85.3 125.8 L85.0 124.2 L85.8 122.6 L85.4 121.0 L85.0 119.4 L85.8 117.8 L86.3 116.1 L85.8 114.5 L85.4 112.8 L85.1 111.2 L86.2 109.5 L87.1 107.8 L85.2 106.1 L84.5 104.4 L85.4 102.7 L86.3 101.0 L84.3 99.3 L85.8 97.6 L86.7 95.9 L85.8 94.1 L84.7 92.4 L85.5 90.6 L85.8 88.8 L85.8 87.1 L87.4 85.3 L85.7 83.5 L85.5 81.7 L85.2 79.9 L86.6 78.1 L86.3 76.2 L84.9 74.4 L83.9 72.6 L86.2 70.7 L85.1 68.9 L84.9 67.0 L85.9 65.1 L86.6 63.2 L85.9 61.3 L85.8 59.4 L86.0 57.5 L85.9 55.6 L85.3 53.7 L85.0 51.8 L84.4 49.8 L84.8 47.9 L85.5 45.9 L85.5 44.0 L85.1 42.0Z" fill="#00ff80"/>
<path d="M86.1 275.5 L88.4 276.1 L88.7 277.5 L89.5 278.1 L90.3 278.7 L92.0 278.1 L93.6 277.7 L94.1 278.8 L93.2 281.3 L93.2 282.8 L95.6 281.7 L96.1 282.6 L95.9 284.5 L97.4 284.2 L98.3 284.8 L100.2 284.1 L98.7 287.6 L100.7 286.7 L100.4 289.0 L103.3 286.5 L103.8 287.6 L105.1 287.0 L104.8 289.8 L105.1 292.2 L106.6 290.7 L107.8 290.1 L108.8 290.0 L109.7 290.3 L110.5 291.5 L111.5 291.6 L112.4 292.5 L113.6 291.1 L114.8 290.0 L115.9 289.8 L117.0 289.2 L118.2 287.7 L119.2 288.5 L119.8 291.3 L120.7 292.1 L121.7 292.5 L122.7 292.6 L123.7 292.8 L124.6 293.7 L125.8 293.0 L126.9 291.8 L128.1 290.7 L128.9 292.3 L129.7 294.0 L130.9 292.0 L132.0 291.5 L132.9 292.2 L133.6 294.9 L134.5 296.2 L135.7 294.8 L136.7 294.6 L137.8 293.7 L138.9 292.8 L139.8 293.9 L140.9 293.2 L141.7 294.9 L142.8 294.4 L143.6 295.9 L144.7 295.0 L145.8 294.9 L146.3 297.8 L147.9 295.6 L149.2 295.4 L150.3 296.7 L152.0 294.6 L152.9 297.0 L154.4 295.5 L155.6 295.8 L156.2 297.0 L156.8 297.6 L157.4 298.0 L158.9 299.2 L158.3 300.6 L157.1 300.9 L156.1 301.1 L153.9 299.3 L153.3 300.8 L152.2 301.4 L150.9 301.5 L150.4 303.4 L149.9 305.0 L147.7 303.2 L148.1 305.9 L147.1 306.3 L145.8 305.9 L144.6 305.9 L142.7 304.5 L142.3 305.9 L141.3 306.1 L139.9 305.6 L139.8 307.6 L138.5 307.4 L138.5 309.4 L136.9 308.7 L135.1 307.5 L135.5 310.3 L133.6 309.1 L132.0 308.5 L132.1 310.6 L131.7 311.7 L133.0 315.4 L130.5 313.6 L129.0 313.2 L127.7 313.2 L124.9 311.3 L127.2 315.8 L128.4 318.8 L126.6 318.1 L123.8 316.6 L124.0 318.3 L124.8 320.7 L124.0 321.2 L122.7 321.3 L119.1 319.1 L122.5 324.0 L119.8 322.7 L120.1 324.4 L121.1 326.7 L118.9 326.0 L116.8 325.4 L116.8 326.7 L116.2 327.5 L115.0 327.8 L114.1 328.4 L113.9 329.5 L113.7 330.7 L111.5 330.2 L111.4 331.4 L112.3 333.4 L111.5 334.0 L110.1 334.2 L109.7 335.2 L110.5 337.1 L109.8 337.8 L109.2 338.6 L107.9 338.9 L105.1 338.0 L104.2 338.5 L104.5 340.0 L103.9 340.9 L103.9 342.1 L104.6 344.0 L104.4 345.2 L102.1 344.6 L101.8 345.6 L100.6 345.9 L99.7 346.5 L100.5 348.5 L99.7 349.1 L99.6 350.3 L98.7 350.9 L97.4 351.1 L96.7 351.8 L95.6 352.3 L94.8 352.9 L93.5 353.2 L93.3 354.3 L94.3 356.2 L93.9 357.2 L92.7 357.6 L90.9 357.5 L90.5 358.4 L90.5 359.7 L89.8 360.5 L89.3 361.9 L89.0 362.9 L88.3 362.8 L87.2 363.2 L87.7 362.2 L87.7 362.1 L86.8 362.4 L86.5 362.4 L87.2 362.0 L87.2 361.9 L88.6 361.5 L88.2 361.5 L87.7 361.4 L88.9 361.1 L88.9 361.0 L88.6 360.9 L87.0 360.9 L88.7 360.6 L89.7 360.3 L86.9 360.3 L87.8 360.0 L88.7 359.7 L87.0 359.5 L87.6 359.2 L88.2 358.8 L88.2 358.5 L88.1 358.2 L88.4 357.8 L88.8 357.4 L85.5 357.1 L87.3 356.6 L89.8 356.0 L88.4 355.6 L86.9 355.1 L87.1 354.6 L88.9 354.0 L88.4 353.4 L86.8 352.8 L85.4 352.2 L86.3 351.5 L87.9 350.8 L88.3 350.0 L88.9 349.3 L90.1 348.5 L89.4 347.6 L88.3 346.8 L87.5 345.9 L86.6 345.0 L86.9 344.1 L86.6 343.1 L87.2 342.1 L86.7 341.0 L87.0 339.9 L88.2 338.8 L86.6 337.7 L86.9 336.5 L87.6 335.3 L87.5 334.0 L86.3 332.7 L83.9 331.4 L85.8 330.0 L88.2 328.6 L88.0 327.1 L84.2 325.6 L85.0 324.1 L86.2 322.5 L86.6 320.8 L88.3 319.2 L87.2 317.5 L86.8 315.7 L88.2 313.9 L86.4 312.1 L85.5 310.2 L87.2 308.2 L87.1 306.3 L87.5 304.2 L88.8 302.1 L89.0 300.0 L87.5 297.8 L89.1 295.6 L88.0 293.4 L86.7 291.0 L83.6 288.7 L84.7 286.2 L85.2 283.8 L87.2 281.2 L87.4 278.6Z" fill="#00ff80"/>
<path d="M85.2 47.9 L86.3 48.8 L86.3 49.9 L85.3 51.2 L85.7 51.9 L87.0 52.8 L86.6 53.8 L86.4 54.8 L86.8 55.7 L88.0 56.7 L89.8 57.6 L86.8 58.7 L87.4 59.7 L88.6 60.7 L88.4 61.7 L86.8 62.7 L86.1 63.7 L86.4 64.7 L87.1 65.7 L87.4 66.7 L87.5 67.7 L87.8 68.7 L86.9 69.8 L86.4 70.8 L86.9 71.8 L87.7 72.8 L87.9 73.8 L88.2 74.8 L88.7 75.8 L88.2 76.8 L87.3 77.8 L86.7 78.8 L86.5 79.8 L86.7 80.8 L87.1 81.8 L87.8 82.8 L87.5 83.8 L86.1 84.8 L86.0 85.8 L86.4 86.8 L86.3 87.9 L86.6 88.9 L87.5 89.9 L87.3 90.9 L88.0 91.9 L86.9 92.9 L86.1 93.9 L87.1 94.9 L87.1 95.9 L87.7 96.9 L87.8 97.9 L89.1 98.9 L86.8 99.9 L88.1 100.9 L88.7 101.9 L88.3 102.9 L87.1 103.9 L87.0 104.9 L88.0 105.9 L87.9 106.9 L86.6 107.9 L88.9 108.9 L87.0 109.9 L85.5 110.9 L85.7 111.9 L87.5 112.9 L87.3 113.9 L87.1 115.0 L87.8 116.0 L87.9 117.1 L88.2 118.1 L87.1 119.2 L87.1 120.2 L87.1 121.2 L86.8 122.2 L88.2 123.2 L88.0 124.1 L86.8 125.0 L86.6 126.0 L86.9 127.0 L87.2 128.1 L88.4 128.5 L89.6 128.8 L90.3 129.7 L91.0 130.7 L92.2 131.0 L92.9 131.8 L93.4 132.7 L93.9 133.6 L94.4 134.5 L94.5 135.8 L95.4 136.3 L96.6 136.6 L97.3 137.4 L98.8 137.2 L99.0 138.4 L100.2 138.6 L101.0 139.2 L101.8 139.7 L102.3 140.8 L103.2 141.2 L104.2 141.6 L104.9 142.3 L106.1 142.3 L106.3 143.8 L106.9 144.7 L107.7 145.3 L108.8 145.5 L110.0 145.5 L110.6 146.3 L111.2 147.3 L111.9 148.0 L112.7 148.8 L113.9 148.6 L115.1 148.6 L115.9 149.3 L116.4 150.4 L117.5 150.6 L118.8 150.0 L119.3 151.4 L120.2 151.8 L121.6 151.1 L122.1 152.4 L122.7 153.7 L123.9 153.2 L125.1 152.8 L126.0 153.3 L126.9 153.7 L128.3 152.5 L128.7 154.6 L129.7 154.9 L130.8 154.7 L131.8 154.9 L132.7 155.6 L133.6 156.0 L134.6 156.1 L135.6 156.0 L136.7 155.4 L137.6 156.4 L138.6 156.4 L139.6 156.5 L140.5 157.4 L141.4 157.9 L142.6 156.6 L143.6 156.4 L144.6 156.1 L145.6 156.9 L146.5 157.6 L147.6 156.7 L148.5 157.6 L149.5 158.0 L150.5 157.9 L151.6 157.0 L152.6 157.2 L153.5 158.4 L154.5 158.8 L155.5 158.3 L156.5 158.6 L157.5 159.0 L158.5 158.6 L159.6 157.8 L160.6 158.1 L161.5 158.3 L162.5 159.0 L163.5 159.2 L164.5 158.7 L165.6 158.1 L166.6 158.4 L167.6 157.9 L168.5 159.3 L169.4 160.2 L170.4 160.3 L171.4 160.6 L172.5 159.3 L173.5 159.8 L174.4 160.6 L175.4 160.9 L176.4 161.1 L177.5 160.2 L178.5 160.1 L179.5 160.2 L180.5 159.6 L181.5 159.6 L182.5 160.6 L183.5 160.4 L184.5 160.4 L185.4 162.4 L186.4 161.1 L187.5 160.5 L188.5 160.8 L189.5 160.8 L190.5 160.8 L191.5 161.3 L192.5 161.0 L193.5 160.6 L194.5 160.3 L195.5 160.5 L196.5 160.4 L197.5 160.5 L198.5 161.1 L199.5 161.0 L200.5 161.2 L201.5 161.8 L202.5 161.0 L203.5 160.6 L204.5 160.9 L205.5 160.6 L206.5 161.0 L207.5 161.7 L208.5 162.4 L209.5 161.7 L210.5 161.3 L211.5 162.0 L212.5 161.5 L213.5 161.3 L214.4 162.9 L215.5 161.4 L216.5 161.3 L217.5 162.4 L218.5 161.8 L219.5 162.2 L220.4 163.2 L221.4 163.3 L222.5 162.5 L223.5 161.7 L224.5 162.0 L225.5 161.9 L226.5 162.0 L227.5 161.8 L228.5 162.2 L229.6 161.3 L230.5 162.6 L231.4 163.6 L232.5 162.3 L233.5 161.7 L234.5 162.8 L235.4 164.3 L236.4 164.1 L237.5 163.6 L238.4 164.7 L239.4 164.2 L240.5 162.9 L241.5 162.3 L242.5 162.1 L243.5 162.8 L244.5 163.6 L245.5 163.3 L246.5 163.9 L247.5 164.0 L248.5 163.5 L249.5 164.2 L250.5 164.5 L251.5 164.4 L252.5 164.3 L253.5 164.2 L254.5 164.5 L255.5 164.9 L256.5 164.0 L257.5 163.8 L258.5 164.3 L259.4 165.6 L260.5 164.6 L261.5 164.8 L262.6 161.5 L263.5 164.7 L264.5 164.3 L265.5 163.6 L266.5 164.0 L267.5 163.8 L268.5 164.1 L269.5 164.1 L270.5 164.2 L271.5 164.6 L272.5 164.5 L273.5 164.8 L274.5 164.6 L275.5 164.7 L276.5 164.8 L277.5 166.2 L278.5 164.6 L279.5 165.0 L280.5 165.1 L281.5 164.5 L282.5 165.2 L283.5 166.1 L284.5 165.4 L285.5 165.2 L286.5 166.3 L287.5 164.9 L288.5 165.0 L289.5 165.0 L290.5 165.3 L291.5 164.5 L292.5 164.7 L293.5 165.1 L294.5 164.8 L295.5 164.8 L296.5 165.3 L297.5 165.5 L298.5 165.0 L299.6 164.5 L300.6 164.8 L301.6 164.8 L302.6 164.1 L303.6 164.6 L304.6 164.1 L305.6 165.1 L306.5 165.9 L307.6 165.7 L308.6 165.7 L309.6 165.1 L310.6 165.2 L311.6 164.5 L312.6 164.1 L313.6 165.0 L314.6 165.3 L315.6 166.4 L316.6 165.6 L317.6 164.9 L318.6 164.3 L319.6 164.5 L320.6 164.2 L321.6 164.1 L322.6 164.9 L323.6 164.7 L324.6 166.5 L325.6 166.3 L326.6 165.5 L327.6 164.8 L328.6 165.8 L329.6 166.3 L330.6 165.4 L331.6 164.8 L332.6 166.2 L333.6 166.9 L334.6 166.1 L335.6 165.9 L336.6 165.7 L337.6 166.1 L338.6 166.5 L339.6 166.8 L340.6 165.8 L341.6 165.5 L342.6 166.4 L343.6 166.5 L344.6 166.7 L345.6 165.5 L346.6 165.3 L347.6 166.8 L348.6 167.0 L349.6 167.1 L350.7 165.2 L351.6 166.1 L352.6 167.0 L353.6 166.7 L354.7 165.4 L355.6 166.7 L356.6 167.0 L357.6 166.5 L358.6 166.1 L359.6 166.4 L360.6 167.0 L361.6 166.6 L362.7 166.3 L363.8 166.9 L365.0 166.7 L366.2 166.6 L367.5 167.6 L368.9 167.5 L370.2 166.5 L371.5 166.5 L372.7 167.7 L374.0 166.3 L375.0 166.8 L375.9 167.2 L376.5 169.0 L377.2 168.4 L377.3 168.9 L377.1 168.2 L378.0 168.6 L378.8 169.5 L378.3 170.9 L377.4 170.3 L376.6 169.8 L375.7 168.7 L374.8 170.1 L373.7 170.5 L372.5 169.7 L371.2 169.2 L369.9 169.7 L368.6 169.1 L367.3 169.5 L366.0 169.4 L364.7 170.1 L363.5 170.6 L362.4 170.2 L361.4 170.1 L360.4 170.5 L359.4 170.6 L358.4 170.0 L357.4 170.2 L356.5 171.2 L355.4 170.3 L354.4 170.4 L353.4 171.2 L352.4 171.2 L351.5 171.5 L350.4 170.6 L349.4 169.9 L348.4 170.6 L347.4 170.3 L346.4 170.4 L345.4 170.6 L344.4 170.3 L343.4 170.3 L342.4 170.5 L341.4 170.9 L340.4 170.9 L339.5 172.4 L338.4 171.3 L337.4 170.0 L336.4 171.0 L335.4 171.3 L334.4 171.7 L333.4 171.9 L332.4 171.7 L331.4 171.1 L330.4 171.3 L329.4 172.4 L328.4 171.2 L327.4 171.5 L326.4 171.6 L325.4 171.5 L324.4 171.7 L323.4 171.8 L322.4 171.7 L321.4 172.2 L320.5 173.7 L319.4 171.4 L318.4 172.8 L317.4 172.6 L316.4 172.9 L315.4 172.7 L314.4 173.0 L313.4 172.5 L312.4 171.9 L311.4 173.3 L310.4 173.2 L309.4 172.2 L308.4 172.2 L307.4 172.7 L306.4 172.9 L305.4 173.7 L304.5 174.3 L303.4 174.2 L302.4 174.2 L301.4 173.1 L300.3 172.0 L299.3 171.7 L298.3 171.0 L297.4 173.0 L296.4 173.0 L295.3 172.1 L294.4 172.8 L293.4 173.4 L292.3 170.8 L291.4 172.9 L290.4 173.7 L289.4 173.7 L288.4 173.7 L287.4 174.4 L286.4 174.2 L285.4 173.4 L284.3 172.1 L283.4 174.7 L282.3 173.1 L281.4 173.3 L280.4 174.2 L279.4 175.0 L278.4 175.1 L277.3 172.7 L276.3 172.9 L275.3 172.6 L274.4 174.4 L273.4 174.5 L272.4 174.4 L271.3 173.8 L270.4 174.6 L269.4 174.6 L268.4 174.6 L267.3 174.0 L266.3 173.5 L265.4 174.9 L264.4 175.3 L263.4 175.5 L262.4 175.2 L261.3 174.4 L260.4 175.4 L259.4 175.3 L258.3 174.3 L257.3 174.0 L256.4 175.1 L255.4 175.2 L254.4 175.4 L253.4 175.3 L252.3 174.7 L251.4 176.1 L250.4 176.0 L249.4 175.4 L248.3 174.8 L247.4 175.9 L246.4 176.7 L245.4 176.2 L244.4 175.8 L243.4 176.1 L242.4 176.1 L241.4 176.1 L240.4 175.9 L239.4 176.8 L238.4 177.7 L237.4 177.1 L236.4 177.1 L235.4 176.7 L234.4 176.0 L233.4 175.9 L232.4 175.6 L231.4 175.8 L230.4 176.4 L229.4 176.6 L228.4 176.0 L227.4 175.7 L226.4 176.0 L225.3 175.6 L224.4 176.9 L223.4 177.0 L222.4 177.0 L221.4 176.4 L220.3 174.9 L219.3 176.3 L218.4 177.4 L217.4 176.7 L216.3 176.5 L215.3 176.0 L214.3 175.2 L213.4 178.0 L212.4 176.9 L211.3 175.9 L210.3 176.8 L209.4 177.2 L208.4 177.1 L207.4 177.1 L206.4 177.6 L205.4 177.3 L204.4 177.2 L203.4 178.1 L202.4 177.8 L201.3 177.0 L200.3 177.0 L199.3 177.0 L198.3 177.2 L197.3 176.7 L196.3 177.1 L195.3 177.4 L194.4 177.9 L193.4 178.2 L192.4 179.1 L191.5 179.4 L190.4 178.8 L189.5 179.6 L188.4 179.1 L187.4 178.4 L186.4 178.6 L185.4 179.3 L184.4 179.5 L183.3 178.1 L182.3 178.0 L181.4 179.6 L180.4 179.7 L179.4 179.2 L178.5 179.9 L177.5 180.4 L176.5 180.2 L175.5 180.8 L174.5 180.6 L173.4 179.5 L172.4 179.9 L171.4 180.0 L170.4 179.9 L169.5 180.9 L168.7 182.6 L167.5 180.8 L166.4 180.6 L165.5 181.3 L164.6 181.7 L163.5 181.4 L162.5 181.3 L161.4 181.0 L160.6 182.1 L159.7 183.0 L158.6 182.5 L157.6 182.6 L156.2 180.3 L155.7 183.2 L154.9 184.3 L153.7 183.7 L152.8 184.4 L151.8 184.5 L150.8 184.1 L149.6 183.3 L148.6 183.3 L147.7 184.4 L146.9 185.2 L145.7 184.4 L144.7 184.4 L143.7 184.5 L142.6 184.1 L141.7 185.1 L140.9 186.1 L139.9 186.1 L139.0 186.4 L138.0 186.7 L137.0 186.7 L135.7 185.7 L134.8 186.3 L134.1 187.5 L133.2 187.9 L132.1 187.6 L131.3 188.8 L131.3 192.5 L129.4 189.5 L128.4 189.4 L127.2 188.9 L126.4 189.7 L125.6 190.7 L124.5 190.3 L123.4 190.1 L122.5 190.7 L121.4 190.6 L120.3 190.6 L119.6 191.3 L118.9 192.4 L118.1 193.1 L117.2 193.4 L116.0 193.3 L114.5 192.3 L113.5 192.6 L113.2 194.3 L112.4 194.9 L111.5 195.3 L110.8 196.3 L109.9 196.6 L108.7 196.5 L107.8 196.9 L107.2 197.9 L106.4 198.5 L105.6 199.0 L105.0 200.0 L104.3 200.7 L103.3 201.0 L102.1 201.2 L102.4 202.9 L101.6 203.5 L100.0 203.3 L98.3 203.1 L98.0 204.3 L97.8 205.5 L97.3 206.4 L96.9 207.3 L95.7 207.7 L95.8 208.9 L96.1 210.1 L96.0 211.2 L94.8 211.8 L92.2 211.9 L93.6 213.5 L94.0 214.7 L93.9 215.7 L93.5 216.7 L93.3 217.6 L92.7 218.5 L91.9 219.4 L92.0 220.4 L92.6 221.5 L93.3 222.6 L92.9 223.6 L91.6 224.4 L90.9 225.3 L91.4 226.4 L91.2 227.4 L90.8 228.4 L91.4 229.5 L90.9 230.4 L90.0 231.3 L91.0 232.5 L91.5 233.5 L91.2 234.5 L89.7 235.4 L89.4 236.4 L90.5 237.5 L91.2 238.5 L88.9 239.4 L90.3 240.5 L90.7 241.5 L90.5 242.5 L90.3 243.5 L90.7 244.5 L91.0 245.5 L91.3 246.5 L89.9 247.5 L88.7 248.5 L88.7 249.5 L89.8 250.5 L90.9 251.5 L90.5 252.5 L90.2 253.5 L90.9 254.5 L90.5 255.5 L90.5 256.5 L90.2 257.5 L89.6 258.5 L90.3 259.5 L90.9 260.5 L90.8 261.5 L90.2 262.5 L90.0 263.6 L89.9 264.7 L90.2 265.9 L90.8 267.2 L90.4 268.5 L90.5 269.8 L90.1 271.1 L90.2 272.4 L90.1 273.8 L91.4 275.1 L92.4 276.4 L90.3 277.7 L90.2 278.9 L90.0 280.1 L90.9 281.2 L90.5 282.2 L89.9 283.2 L89.8 284.1 L90.7 284.9 L90.7 285.5 L90.2 286.1 L91.0 286.5 L91.4 286.8 L90.7 287.5 L90.1 287.8 L88.8 287.5 L87.6 286.6 L87.5 286.2 L87.7 286.7 L87.2 287.2 L86.7 287.5 L87.7 286.8 L87.6 286.8 L86.0 287.3 L87.1 286.8 L86.2 287.0 L87.7 286.5 L87.7 286.4 L88.0 286.3 L88.6 286.1 L87.0 286.2 L86.1 286.3 L87.8 285.9 L88.3 285.7 L86.9 285.7 L86.2 285.6 L87.0 285.4 L88.4 285.0 L87.0 285.0 L85.7 285.0 L86.8 284.6 L87.6 284.4 L87.1 284.2 L86.1 284.1 L86.7 283.8 L87.9 283.4 L86.6 283.3 L86.1 283.1 L87.6 282.7 L87.0 282.5 L87.3 282.2 L87.5 281.9 L87.1 281.6 L86.8 281.3 L86.2 281.0 L86.3 280.7 L87.4 280.3 L86.4 280.0 L87.2 279.6 L87.5 279.3 L86.8 278.9 L86.6 278.6 L85.7 278.2 L87.1 277.8 L87.6 277.3 L85.9 277.0 L86.4 276.6 L88.0 276.1 L87.9 275.7 L87.8 275.2 L86.2 274.8 L85.5 274.4 L85.2 273.9 L84.8 273.5 L87.1 272.9 L85.6 272.5 L85.6 272.0 L87.1 271.4 L86.5 270.9 L86.7 270.4 L86.9 269.8 L86.4 269.3 L85.9 268.8 L86.9 268.2 L86.8 267.6 L84.7 267.1 L86.2 266.5 L86.6 265.9 L86.8 265.3 L87.3 264.6 L86.3 264.0 L85.6 263.4 L85.4 262.8 L86.8 262.1 L86.4 261.5 L86.4 260.8 L86.6 260.2 L83.8 259.5 L85.2 258.8 L85.5 258.1 L86.1 257.4 L86.0 256.7 L86.1 256.0 L86.3 255.2 L86.6 254.5 L85.4 253.8 L85.5 253.0 L86.6 252.3 L86.0 251.5 L85.8 250.7 L86.2 249.9 L86.3 249.1 L86.3 248.3 L86.4 247.5 L86.2 246.7 L87.2 245.9 L86.0 245.0 L85.8 244.2 L86.5 243.3 L85.2 242.5 L85.2 241.6 L85.8 240.7 L85.2 239.9 L85.8 239.0 L86.6 238.0 L85.8 237.1 L84.4 236.2 L85.0 235.3 L85.9 234.4 L86.0 233.4 L86.2 232.5 L85.3 231.5 L85.3 230.5 L85.0 229.6 L85.5 228.6 L85.4 227.6 L85.1 226.6 L85.4 225.6 L86.0 224.5 L85.5 223.5 L84.9 222.5 L85.9 221.4 L86.8 220.4 L86.4 219.3 L85.7 218.2 L85.1 217.2 L86.0 216.1 L86.2 215.0 L85.9 213.9 L86.9 212.8 L85.9 211.6 L84.5 210.5 L85.3 209.4 L85.2 208.2 L84.9 207.1 L85.3 205.9 L85.9 204.8 L85.5 203.6 L85.7 202.4 L86.0 201.2 L85.5 200.0 L84.8 198.8 L85.7 197.6 L86.8 196.3 L84.7 195.1 L84.4 193.9 L85.8 192.6 L86.5 191.3 L85.5 190.1 L85.5 188.8 L85.7 187.5 L85.8 186.2 L86.5 184.9 L86.9 183.6 L86.0 182.3 L85.2 181.0 L85.3 179.6 L86.2 178.3 L86.8 176.9 L85.3 175.6 L84.7 174.2 L85.3 172.8 L85.9 171.4 L86.7 170.0 L85.9 168.6 L85.0 167.2 L85.3 165.8 L85.9 164.4 L86.0 162.9 L85.2 161.5 L85.0 160.0 L85.8 158.6 L86.0 157.1 L86.0 155.6 L85.5 154.2 L85.1 152.7 L85.5 151.2 L84.0 149.7 L84.2 148.1 L85.7 146.6 L86.0 145.1 L85.6 143.5 L85.3 142.0 L85.8 140.4 L86.2 138.9 L84.9 137.3 L85.2 135.7 L85.1 134.1 L84.5 132.5 L86.1 130.9 L86.0 129.3 L86.1 127.7 L86.2 126.0 L86.2 124.4 L86.0 122.7 L86.0 121.1 L86.0 119.4 L85.3 117.7 L85.4 116.0 L85.8 114.4 L86.1 112.7 L86.5 110.9 L86.7 109.2 L85.8 107.5 L85.4 105.8 L86.5 104.0 L86.1 102.3 L85.1 100.5 L85.1 98.8 L85.2 97.0 L86.4 95.2 L85.9 93.4 L86.1 91.6 L85.4 89.8 L85.2 88.0 L86.1 86.2 L86.1 84.3 L84.6 82.5 L85.4 80.7 L85.7 78.8 L85.4 76.9 L86.3 75.1 L85.8 73.2 L85.8 71.3 L86.1 69.4 L84.2 67.5 L84.5 65.6 L85.4 63.7 L84.8 61.7 L86.1 59.8 L86.4 57.9 L84.6 55.9 L84.8 53.9 L86.0 52.0 L86.4 50.0Z" fill="#ffff00"/>
<path d="M87.1 286.4 L88.6 285.9 L89.7 286.1 L90.6 286.6 L91.4 287.3 L90.3 291.1 L92.7 289.1 L94.4 288.5 L92.7 292.4 L94.9 291.3 L95.4 292.3 L95.7 293.7 L97.4 293.0 L98.2 293.7 L99.0 294.3 L99.5 295.4 L100.7 295.4 L102.6 294.3 L103.4 295.0 L103.1 297.2 L103.5 298.3 L105.0 298.0 L105.2 299.4 L107.1 298.6 L107.4 299.7 L108.2 300.3 L109.3 300.7 L110.2 301.2 L110.6 302.2 L112.7 301.5 L112.8 302.8 L112.6 304.7 L114.9 303.4 L116.4 303.3 L116.6 305.2 L117.5 305.9 L118.6 306.6 L118.9 307.9 L119.3 309.1 L118.7 310.3 L116.6 310.8 L115.7 311.5 L115.7 312.6 L116.6 314.0 L117.3 315.5 L116.5 316.3 L115.4 316.8 L113.1 316.3 L112.8 317.3 L114.2 319.8 L113.7 320.7 L111.3 320.1 L109.5 320.1 L109.9 321.7 L110.3 323.2 L110.3 324.4 L110.9 326.0 L110.0 326.5 L107.3 326.1 L107.0 327.1 L107.1 328.3 L105.8 328.7 L106.0 330.0 L106.2 331.3 L106.5 332.7 L105.8 333.4 L103.7 333.3 L102.5 333.8 L102.2 334.8 L102.1 335.9 L102.8 337.5 L103.2 339.0 L102.1 339.5 L100.6 339.7 L100.9 341.1 L100.6 342.1 L99.2 342.4 L98.1 342.9 L97.4 343.7 L97.8 345.2 L97.9 346.4 L95.8 346.2 L95.2 347.1 L95.2 348.2 L92.9 348.0 L91.4 348.4 L92.9 350.5 L93.5 352.2 L92.2 352.6 L91.9 353.8 L90.4 353.6 L89.0 353.4 L87.9 353.4 L88.0 354.6 L85.7 356.6 L86.0 355.5 L87.6 354.5 L88.8 354.0 L88.5 354.0 L87.8 354.1 L89.1 353.7 L86.6 353.9 L85.4 353.8 L87.1 353.4 L86.2 353.2 L86.2 352.9 L86.9 352.5 L89.1 352.1 L88.5 351.8 L86.3 351.5 L88.0 351.0 L90.4 350.5 L88.4 350.1 L86.8 349.7 L88.6 349.1 L88.2 348.6 L89.4 348.0 L88.3 347.4 L90.4 346.7 L88.5 346.1 L87.5 345.4 L87.7 344.6 L86.4 343.9 L86.0 343.1 L88.2 342.2 L86.0 341.4 L83.6 340.5 L87.0 339.5 L88.4 338.6 L87.8 337.6 L87.9 336.5 L90.6 335.4 L88.2 334.3 L87.5 333.2 L87.7 332.0 L88.5 330.8 L86.5 329.5 L87.2 328.2 L87.5 326.9 L88.4 325.5 L88.4 324.0 L85.9 322.6 L84.5 321.1 L85.7 319.5 L89.3 317.9 L89.8 316.3 L87.9 314.6 L85.2 312.9 L84.1 311.2 L86.7 309.4 L87.1 307.5 L86.8 305.6 L87.2 303.7 L87.7 301.7 L87.2 299.7 L87.3 297.6 L88.7 295.5 L88.1 293.3 L87.6 291.1 L87.6 288.8Z" fill="#ffff00"/>
<path d="M85.5 127.9 L85.3 129.3 L86.4 130.2 L87.0 131.1 L87.9 131.7 L88.4 132.4 L88.6 133.3 L89.0 134.2 L89.7 135.0 L90.4 135.9 L91.4 136.3 L92.6 136.3 L93.7 136.6 L94.3 137.4 L95.0 138.2 L96.5 138.0 L96.2 139.9 L97.2 140.3 L98.0 140.8 L98.6 141.7 L99.9 141.7 L100.8 142.1 L100.9 143.6 L102.1 143.7 L102.8 144.5 L103.2 145.6 L104.4 145.6 L105.5 145.7 L106.5 146.2 L107.3 146.7 L107.9 147.7 L108.8 148.1 L109.5 148.8 L110.2 149.6 L110.9 150.6 L112.0 150.6 L113.0 150.9 L113.9 151.2 L115.0 151.3 L116.1 151.4 L116.9 152.0 L117.6 153.0 L118.6 153.2 L119.9 152.6 L120.6 153.4 L121.3 154.4 L122.2 154.8 L123.1 155.3 L124.3 154.9 L125.4 154.6 L126.3 155.2 L127.4 155.0 L128.1 156.2 L128.7 157.8 L130.0 156.9 L131.2 156.3 L132.1 156.7 L132.9 157.8 L133.8 158.6 L134.8 159.0 L135.9 158.4 L136.8 158.9 L138.0 157.5 L138.9 158.3 L139.8 158.7 L140.9 158.6 L141.8 159.2 L142.8 158.9 L143.9 158.7 L144.8 159.2 L145.8 159.2 L146.9 158.5 L147.8 159.4 L148.8 159.9 L149.8 160.1 L150.8 159.7 L151.9 158.7 L153.0 157.7 L153.9 159.5 L154.8 160.1 L155.8 160.6 L156.9 159.3 L157.9 159.6 L158.9 159.8 L159.9 159.7 L160.8 160.6 L161.8 161.7 L162.8 161.3 L163.9 160.4 L164.9 160.5 L165.9 160.3 L166.9 160.9 L167.8 161.7 L168.8 161.8 L169.9 160.3 L170.9 160.4 L171.8 161.5 L172.9 160.7 L173.9 160.4 L174.9 160.1 L175.9 160.7 L176.8 161.6 L177.9 161.5 L178.9 161.3 L179.9 160.9 L180.9 161.6 L181.8 162.4 L182.8 162.1 L183.9 161.8 L184.8 162.2 L185.8 163.1 L186.8 163.0 L187.9 162.2 L188.9 162.0 L189.9 162.3 L190.8 162.6 L191.9 162.3 L192.8 162.7 L193.9 162.4 L194.9 162.7 L195.8 163.9 L196.8 163.2 L197.9 162.7 L198.9 162.2 L199.9 162.3 L200.9 162.3 L201.9 162.6 L202.8 163.8 L203.9 162.6 L204.9 162.0 L205.9 161.9 L206.9 163.0 L207.8 164.5 L208.8 163.9 L209.9 162.8 L210.9 162.8 L211.9 163.5 L212.8 163.9 L213.8 164.8 L214.8 164.8 L215.8 164.5 L216.8 164.1 L217.9 163.6 L218.8 164.1 L219.8 164.3 L220.9 163.7 L221.9 163.3 L222.9 163.1 L223.9 163.3 L224.9 163.4 L225.9 163.3 L226.9 163.7 L227.9 163.9 L228.9 164.0 L229.9 164.6 L230.9 164.7 L231.9 164.2 L232.9 164.4 L233.9 164.5 L234.9 164.1 L235.9 164.8 L236.9 164.7 L237.8 165.6 L238.8 166.1 L239.9 165.3 L240.8 165.7 L241.9 164.8 L243.0 162.6 L243.9 165.3 L244.9 164.5 L245.9 164.1 L246.9 164.9 L247.9 165.8 L248.9 164.7 L249.9 164.8 L250.9 166.0 L251.9 165.7 L252.9 165.3 L253.9 165.3 L254.9 165.2 L255.9 166.5 L256.9 166.6 L257.9 165.5 L258.9 166.1 L259.9 165.7 L260.9 165.2 L261.9 166.5 L262.9 165.7 L263.9 165.7 L264.8 167.4 L265.8 167.8 L266.9 166.5 L267.9 166.1 L268.9 166.4 L269.9 166.0 L270.9 167.0 L271.9 167.3 L272.8 168.1 L273.9 166.6 L274.9 166.2 L276.0 165.7 L276.9 167.0 L277.9 166.8 L278.9 167.0 L279.9 167.7 L280.9 168.1 L282.1 167.3 L283.4 166.9 L284.7 168.2 L285.9 168.9 L287.3 168.5 L288.6 167.4 L289.9 166.2 L290.8 167.3 L291.7 167.9 L291.7 169.8 L292.6 168.6 L294.3 168.3 L293.8 169.5 L292.5 169.9 L292.4 169.7 L292.1 170.2 L291.5 170.7 L290.5 171.0 L289.5 171.4 L288.3 171.3 L286.9 170.4 L285.6 170.5 L284.3 170.1 L283.0 170.6 L281.8 171.5 L280.6 171.0 L279.6 171.3 L278.7 172.1 L277.7 172.3 L276.7 172.2 L275.6 172.1 L274.7 172.5 L273.7 172.5 L272.7 172.5 L271.6 172.0 L270.6 171.3 L269.5 170.2 L268.5 170.7 L267.6 171.7 L266.6 172.3 L265.6 172.8 L264.6 172.6 L263.6 172.7 L262.6 172.5 L261.6 172.8 L260.7 173.2 L259.7 173.4 L258.7 173.5 L257.6 173.1 L256.7 173.6 L255.6 173.1 L254.6 172.1 L253.6 173.2 L252.6 173.3 L251.6 172.7 L250.6 173.7 L249.7 174.3 L248.6 173.8 L247.6 173.8 L246.6 173.9 L245.6 173.8 L244.6 173.3 L243.7 175.0 L242.6 173.8 L241.6 173.5 L240.6 173.5 L239.6 173.0 L238.6 172.4 L237.6 175.0 L236.6 175.1 L235.7 175.5 L234.6 175.3 L233.6 173.4 L232.6 173.4 L231.6 174.6 L230.6 174.0 L229.6 173.7 L228.6 174.9 L227.6 175.1 L226.6 173.1 L225.6 173.0 L224.6 174.5 L223.6 175.0 L222.6 173.8 L221.6 173.6 L220.6 174.4 L219.6 174.7 L218.6 174.3 L217.6 174.6 L216.6 174.8 L215.6 175.2 L214.6 175.0 L213.6 176.2 L212.6 175.2 L211.6 174.5 L210.5 174.1 L209.6 174.4 L208.5 174.4 L207.5 174.5 L206.6 174.9 L205.6 175.2 L204.6 175.6 L203.5 174.9 L202.6 175.1 L201.6 176.0 L200.7 177.0 L199.7 176.8 L198.6 175.8 L197.6 175.8 L196.6 176.3 L195.6 176.9 L194.5 175.4 L193.5 174.7 L192.6 176.7 L191.7 177.4 L190.6 176.4 L189.5 175.9 L188.6 176.3 L187.6 176.2 L186.6 176.5 L185.6 176.4 L184.5 175.5 L183.6 176.6 L182.6 177.1 L181.6 176.7 L180.6 176.7 L179.5 176.5 L178.5 176.7 L177.6 177.5 L176.6 177.4 L175.7 178.0 L174.7 178.5 L173.6 177.8 L172.5 177.2 L171.5 177.0 L170.7 178.8 L169.7 178.6 L169.0 180.8 L167.8 179.3 L166.7 179.2 L165.8 180.0 L164.7 179.4 L163.6 178.6 L162.6 179.0 L161.7 179.6 L160.7 179.5 L159.8 180.1 L158.7 180.0 L157.6 179.5 L156.6 179.6 L155.8 180.8 L154.8 180.5 L153.8 180.9 L152.8 180.9 L151.7 180.7 L150.8 181.4 L149.9 181.7 L148.9 181.9 L148.0 182.4 L147.0 182.9 L146.1 183.1 L144.9 182.5 L143.4 179.9 L142.8 182.1 L141.6 181.5 L141.1 183.8 L139.9 182.8 L138.8 182.7 L137.9 183.1 L136.7 182.6 L135.7 182.5 L134.8 183.3 L134.0 184.1 L133.2 185.0 L132.2 185.3 L131.1 185.1 L130.0 184.9 L129.1 185.4 L128.3 186.1 L127.3 186.3 L126.1 185.8 L125.1 186.1 L124.6 187.8 L123.7 188.3 L122.5 187.9 L121.4 187.8 L120.6 188.6 L120.0 189.7 L119.0 190.0 L117.8 189.6 L116.6 189.4 L115.8 190.1 L114.8 190.3 L114.0 190.9 L113.6 192.5 L112.3 192.2 L111.4 192.7 L110.9 193.7 L109.5 193.3 L108.8 194.0 L108.0 194.6 L107.0 195.0 L106.2 195.6 L105.3 196.1 L105.0 197.4 L104.7 198.7 L103.2 198.4 L102.9 199.5 L101.8 199.8 L100.3 199.6 L99.5 200.2 L99.5 201.8 L98.9 202.5 L97.8 202.9 L97.2 203.7 L96.4 204.4 L96.0 205.3 L95.5 206.1 L94.3 206.6 L94.1 207.6 L94.0 208.7 L92.9 209.3 L92.5 210.3 L92.9 211.6 L93.7 212.9 L94.6 214.1 L92.5 214.6 L91.8 215.4 L91.7 216.4 L90.0 217.1 L89.6 218.0 L91.0 219.3 L90.9 220.3 L89.4 221.1 L89.9 222.2 L90.8 223.4 L89.9 224.3 L90.0 225.3 L90.4 226.4 L89.7 227.3 L88.8 228.3 L89.6 229.3 L89.8 230.4 L89.7 231.4 L90.3 232.4 L89.7 233.3 L89.3 234.3 L89.5 235.3 L89.4 236.3 L89.1 237.3 L88.9 238.3 L89.4 239.3 L90.2 240.4 L89.0 241.3 L89.5 242.3 L89.7 243.4 L89.7 244.4 L89.8 245.4 L88.9 246.4 L88.8 247.4 L89.1 248.4 L89.2 249.4 L89.6 250.4 L89.1 251.4 L89.2 252.4 L90.4 253.4 L90.1 254.4 L89.7 255.4 L89.3 256.4 L89.1 257.4 L89.8 258.4 L90.1 259.4 L90.1 260.4 L90.4 261.5 L89.9 262.6 L88.5 263.7 L89.5 264.9 L90.0 266.1 L89.7 267.3 L89.4 268.6 L89.4 269.9 L88.7 271.2 L88.7 272.5 L89.3 273.9 L89.2 275.2 L89.7 276.5 L90.2 277.9 L90.6 279.2 L90.5 280.5 L89.9 281.8 L89.6 283.0 L88.3 284.3 L89.7 285.5 L89.9 286.7 L88.2 287.8 L88.6 288.9 L89.3 289.9 L87.4 290.9 L89.2 291.8 L88.8 292.7 L89.5 293.5 L89.9 294.2 L89.2 294.9 L88.6 295.5 L88.8 296.0 L88.7 296.4 L88.0 296.7 L89.4 296.9 L89.8 298.3 L89.0 297.3 L87.7 297.0 L87.6 295.7 L88.0 296.4 L86.9 297.3 L87.4 296.9 L87.3 296.9 L86.9 297.0 L87.7 296.6 L88.4 296.4 L89.0 296.2 L88.5 296.2 L87.7 296.3 L87.2 296.2 L87.8 296.0 L87.6 295.8 L87.4 295.7 L87.4 295.5 L87.4 295.3 L87.9 295.1 L86.9 294.9 L86.4 294.7 L86.7 294.5 L87.3 294.2 L87.3 293.9 L86.0 293.7 L86.1 293.4 L87.1 293.0 L86.6 292.8 L88.7 292.3 L88.0 292.0 L86.9 291.7 L86.4 291.4 L85.9 291.0 L85.5 290.7 L86.0 290.2 L86.3 289.8 L86.9 289.4 L87.0 288.9 L86.7 288.5 L86.4 288.1 L86.8 287.6 L86.8 287.1 L87.2 286.6 L87.4 286.1 L86.6 285.6 L87.0 285.0 L86.9 284.5 L87.0 284.0 L87.5 283.4 L87.2 282.8 L86.3 282.2 L86.1 281.6 L86.5 281.0 L86.7 280.4 L86.9 279.8 L86.6 279.1 L86.5 278.5 L86.5 277.8 L86.2 277.1 L86.1 276.4 L86.2 275.7 L86.3 275.0 L86.0 274.3 L86.8 273.5 L87.8 272.7 L87.1 272.0 L86.4 271.2 L86.5 270.4 L86.6 269.6 L86.8 268.8 L87.0 268.0 L86.5 267.1 L85.6 266.3 L85.1 265.5 L86.2 264.6 L86.1 263.7 L85.8 262.8 L86.7 261.9 L87.4 260.9 L86.8 260.0 L84.9 259.1 L85.1 258.1 L86.7 257.2 L86.0 256.2 L86.2 255.2 L88.3 254.2 L87.0 253.2 L87.0 252.1 L86.4 251.1 L86.0 250.1 L87.8 249.0 L86.2 247.9 L86.6 246.8 L86.3 245.7 L86.4 244.6 L86.8 243.5 L87.2 242.4 L86.6 241.2 L86.2 240.1 L87.0 238.9 L87.1 237.7 L86.5 236.5 L86.1 235.3 L86.2 234.1 L86.7 232.9 L86.0 231.7 L85.6 230.4 L86.4 229.1 L86.7 227.9 L86.5 226.6 L86.9 225.3 L87.2 224.0 L87.5 222.7 L86.7 221.3 L86.0 220.0 L85.3 218.6 L85.4 217.3 L86.4 215.9 L85.7 214.5 L85.6 213.1 L86.2 211.7 L86.2 210.2 L86.3 208.8 L85.8 207.4 L85.7 205.9 L87.1 204.4 L87.1 202.9 L86.0 201.4 L84.2 199.9 L86.7 198.4 L86.3 196.9 L86.4 195.3 L86.8 193.8 L86.2 192.2 L87.3 190.6 L87.3 189.0 L85.7 187.4 L86.4 185.8 L86.5 184.2 L85.5 182.6 L85.7 180.9 L85.9 179.2 L85.9 177.6 L84.5 175.9 L85.5 174.2 L85.9 172.5 L86.6 170.8 L86.7 169.0 L86.7 167.3 L85.9 165.5 L85.1 163.8 L85.3 162.0 L85.7 160.2 L85.5 158.4 L85.0 156.6 L84.4 154.8 L85.0 152.9 L86.3 151.1 L87.1 149.2 L87.6 147.4 L86.3 145.5 L86.1 143.6 L86.4 141.7 L85.3 139.8 L85.6 137.8 L86.1 135.9 L85.3 133.9 L85.3 132.0 L85.7 130.0Z" fill="#ff0000" stroke="#000" stroke-width="0.50" stroke-linejoin="round" stroke-dasharray="2.3 7.0 3.8 3.5 4.0 3.8 4.0 4.0 5.7 1.9 2.4 2.9 4.5 3.3 2.5 6.3 3.1 4.3 1.1 5.5 5.9 4.6 5.8 7.2 5.6 2.7 3.5 7.8 3.1 1.0 2.8 4.0 1.6 4.2 2.5 5.9 2.3 7.3 2.8 6.9 2.9 4.5 1.4 4.8 1.6 7.6 2.3 5.2 5.0 4.0 4.5 7.8 1.9 4.4 3.5 3.2 4.6 4.6 3.9 3.5 4.5 4.2 2.1 4.4 3.5 5.9 5.1 3.6 2.3 7.7 5.0 5.7 4.7 1.9 2.0 5.0 1.5 7.6 2.9 1.3 3.7 3.2 3.3 4.7 4.4 7.9 1.7 4.2 1.4 4.7 1.2 1.4 4.7 6.0 3.1 1.9 2.2 7.2 3.7 4.1 5.4 5.1 5.8 1.1 4.9 4.6 4.2 1.7 1.2 3.8 4.5 2.0 2.4 7.4 1.1 6.9 2.7 7.5 1.7 3.8"/>
<path d="M86.9 297.3 L88.5 297.1 L89.3 298.0 L90.3 298.3 L91.0 299.0 L91.7 299.9 L93.3 299.5 L93.5 300.8 L93.8 302.2 L94.8 302.5 L95.2 303.5 L96.2 304.0 L97.0 304.6 L97.5 305.5 L98.6 305.9 L99.2 306.7 L99.9 307.5 L100.4 308.4 L100.9 309.4 L101.8 310.0 L102.0 311.0 L102.2 311.9 L102.6 312.9 L103.3 313.7 L103.5 314.8 L103.4 315.9 L102.7 316.9 L103.3 317.9 L104.9 319.1 L104.5 320.2 L103.2 321.0 L102.7 321.9 L102.2 322.9 L102.3 323.9 L102.1 324.9 L101.5 325.8 L101.4 326.9 L101.4 328.0 L101.0 329.0 L100.7 330.0 L99.9 330.7 L98.4 331.1 L96.3 331.1 L97.5 332.9 L97.4 334.0 L97.0 335.0 L96.7 336.0 L95.9 336.7 L94.7 337.2 L94.6 338.3 L94.8 339.6 L94.5 340.6 L94.2 341.6 L92.9 342.0 L91.3 342.1 L91.2 343.3 L91.5 345.0 L90.6 345.8 L89.5 346.6 L88.4 346.8 L88.0 345.5 L88.1 345.9 L88.2 345.7 L87.9 345.8 L87.2 345.8 L86.9 345.7 L86.9 345.5 L87.2 345.2 L87.9 344.9 L87.6 344.6 L86.3 344.4 L86.0 344.0 L87.2 343.5 L87.2 343.1 L87.5 342.6 L87.9 342.1 L87.8 341.5 L87.7 340.9 L87.8 340.3 L87.5 339.6 L88.4 338.8 L87.5 338.0 L86.9 337.2 L85.9 336.3 L86.8 335.4 L89.1 334.4 L88.1 333.3 L90.7 332.2 L88.4 331.1 L86.5 329.9 L86.2 328.6 L86.0 327.3 L86.1 325.9 L87.2 324.5 L88.1 323.0 L88.9 321.4 L88.2 319.8 L88.0 318.1 L88.3 316.4 L87.4 314.6 L86.7 312.7 L86.1 310.7 L86.3 308.7 L87.0 306.6 L86.7 304.4 L86.8 302.2 L87.0 299.9Z" fill="#ff0000" stroke="#000" stroke-width="0.50" stroke-linejoin="round" stroke-dasharray="2.9 2.5 3.8 1.5 2.0 4.2 2.0 4.2 1.8 2.8 1.7 5.6 1.2 5.8 2.6 3.8 2.5 1.8 3.3 1.7 1.4 2.9 3.7 2.2 3.4 3.5 3.6 5.5 3.7 1.2 3.7 3.0 1.3 1.2 1.4 1.6 3.3 1.5 3.0 3.1 2.2 4.7 2.3 3.0 2.4 3.1 2.1 5.1 1.8 3.2 2.6 5.0 2.4 4.0 3.7 1.3 3.6 4.2 3.0 5.5 2.3 1.4 1.6 1.3 1.2 5.6 2.1 2.4 3.8 3.6 1.7 5.0 2.2 5.4 2.6 4.4 3.9 3.8 2.1 1.2 2.4 5.2 2.1 5.9 1.7 2.6 1.3 3.2 2.4 2.6 1.2 2.9 2.5 1.9 2.1 2.8 3.3 5.1 3.2 2.1 2.4 5.6 2.8 5.2 2.4 3.1 3.5 4.9 2.2 2.1 3.1 5.6 1.7 3.6 3.5 4.0 1.2 2.3 2.3 1.3"/>
<path d="M75.7 12.0 L75.7 20.0 L75.7 28.0 L75.7 36.0 L75.7 44.0 L75.7 52.0 L75.7 60.0 L75.7 68.0 L75.7 76.0 L75.7 84.0 L77.0 92.0 L77.0 100.0 L77.0 108.0 L77.0 116.0 L77.1 124.0 L77.1 132.0 L77.1 140.0 L77.1 148.0 L77.1 156.0 L77.1 164.0 L77.1 172.0 L77.2 180.0 L77.2 188.0 L77.2 196.0 L77.3 204.0 L77.4 212.0 L77.5 220.0 L77.6 228.0 L77.7 236.0 L77.8 244.0 L77.9 252.0 L78.0 260.0 L78.2 268.0 L78.3 276.0 L78.4 284.0 L78.5 292.0 L78.6 300.0 L78.8 308.0 L79.1 316.0 L79.3 324.0 L79.6 332.0 L79.8 340.0 L80.3 348.0 L80.8 356.0 L81.1 360.5 L87.3 360.5 L87.2 356.0 L87.1 348.0 L87.1 340.0 L87.0 332.0 L86.9 324.0 L86.8 316.0 L86.8 308.0 L86.7 300.0 L86.6 292.0 L86.5 284.0 L86.5 276.0 L86.4 268.0 L86.3 260.0 L86.2 252.0 L86.2 244.0 L86.1 236.0 L86.0 228.0 L85.9 220.0 L85.9 212.0 L85.8 204.0 L85.7 196.0 L85.6 188.0 L85.6 180.0 L85.5 172.0 L85.4 164.0 L85.3 156.0 L85.3 148.0 L85.2 140.0 L85.1 132.0 L85.0 124.0 L85.0 116.0 L84.9 108.0 L84.8 100.0 L84.7 92.0 L84.7 84.0 L84.6 76.0 L84.5 68.0 L84.4 60.0 L84.4 52.0 L84.3 44.0 L84.2 36.0 L84.1 28.0 L84.1 20.0 L84.0 12.0Z" fill="#ff0000"/>
<path d="M81.1 360.5 L81.5 368.5 L81.7 371.0 L87.4 371.0 L87.3 368.5 L87.3 360.5Z" fill="#ffff00"/>
<path d="M81.7 371.0 L82.1 377.0 L87.4 377.0 L87.4 371.0Z" fill="#00ff80"/>
<path d="M82.1 377.0 L82.7 385.0 L83.3 393.0 L83.9 401.0 L84.2 406.0 L87.7 406.0 L87.6 401.0 L87.6 393.0 L87.5 385.0 L87.4 377.0Z" fill="#00ffff"/>
<path d="M84.2 406.0 L84.7 414.0 L85.3 422.0 L85.8 430.0 L86.2 437.0 L88.0 437.0 L87.9 430.0 L87.8 422.0 L87.8 414.0 L87.7 406.0Z" fill="#0000ff"/>
<path d="M77.7 236.0 L77.8 244.0 L77.9 252.0 L78.0 260.0 L78.2 268.0 L78.3 276.0 L78.4 284.0 L78.5 292.0 L78.6 300.0 L78.8 308.0 L79.1 316.0 L79.3 324.0 L79.6 332.0 L79.8 340.0 L80.3 348.0 L80.8 356.0 L81.3 364.0 L81.8 372.0 L83.3 372.0 L82.8 364.0 L82.3 356.0 L81.8 348.0 L81.3 340.0 L81.0 332.0 L80.7 324.0 L80.4 316.0 L80.2 308.0 L79.9 300.0 L79.7 292.0 L79.5 284.0 L79.3 276.0 L79.1 268.0 L78.8 260.0 L78.6 252.0 L78.4 244.0 L78.2 236.0Z" fill="#00d8d8"/>
<path d="M80.6 356.0 L80.8 359.0 L80.9 362.0 L81.1 365.0 L81.3 368.0 L81.5 371.0 L81.7 374.0 L81.9 377.0 L82.1 380.0 L82.3 383.0 L82.5 386.0 L82.8 389.0 L83.0 392.0 L83.2 395.0 L83.4 398.0 L83.7 401.0 L83.9 404.0 L84.1 407.0" stroke="#0000ff" stroke-width="1" stroke-dasharray="2 1.5 3 1 1.5 2" fill="none"/>
<path d="M81.0 12.5 L83 12.5 L83.4 27 L82.4 27 Z" fill="#00e0a0"/>
<path d="M76.3 152 V166 M76.4 172 V184 M76.6 226 V250 M76.9 300 V326" stroke="#40d0d0" stroke-width="0.7" fill="none"/>
</g>
<g id="axes" fill="none" stroke="#000">
<path d="M74.35 11 V91.5" stroke-width="2.7"/>
<path d="M75.5 91.5 V440" stroke="#dcdcdc" stroke-width="1.6"/>
<path d="M73.7 91 V441" stroke-width="1.4"/>
<path d="M73 440.3 H685.5" stroke-width="2"/>
<path d="M684.4 11 V441" stroke-width="2.4"/>
<path d="M73 12.3 H685.5" stroke-width="2"/>
<path d="M73.9 440V448.8M107.8 440V445.5M141.7 440V448.8M175.6 440V445.5M209.5 440V448.8M243.4 440V445.5M277.3 440V448.8M311.2 440V445.5M345.1 440V448.8M379.0 440V445.5M412.9 440V448.8M446.7 440V445.5M480.6 440V448.8M514.5 440V445.5M548.4 440V448.8M582.3 440V445.5M616.2 440V448.8M650.1 440V445.5M684.0 440V448.8" stroke-width="2"/>
<path d="M65.3 357.6H74M65.3 273.3H74M65.3 189.0H74M65.3 104.7H74M65.3 20.4H74M70.2 399.8H74M70.2 315.4H74M70.2 231.1H74M70.2 146.8H74M70.2 62.6H74" stroke-width="2"/>
<path d="M84 12 L88 440" stroke-width="3.3"/>
<path d="M243.3 123.5 L243.8 440" stroke-width="3.2"/>
</g>
</svg>
<svg width="700" height="498" viewBox="0 0 700 498" style="position:absolute;left:0;top:0" font-family="Liberation Sans, sans-serif">
<rect x="328.0" y="0.0" width="179.6" height="159.3" fill="#fff"/>
<rect x="341.5" y="11.0" width="164.8" height="130.6" fill="none" stroke="#444" stroke-width="0.8"/>
<path d="M341.5 141.6v2.4M373.7 141.6v2.4M405.9 141.6v2.4M438.2 141.6v2.4M470.4 141.6v2.4M502.6 141.6v2.4M357.6 141.6v1.4M389.8 141.6v1.4M422.1 141.6v1.4M454.3 141.6v1.4M486.5 141.6v1.4M341.5 141.6h-2.4M341.5 115.5h-2.4M341.5 89.4h-2.4M341.5 63.2h-2.4M341.5 37.1h-2.4M341.5 11.0h-2.4M341.5 128.5h-1.4M341.5 102.4h-1.4M341.5 76.3h-1.4M341.5 50.2h-1.4M341.5 24.1h-1.4" stroke="#222" stroke-width="0.6" fill="none"/>
<text x="341.5" y="148.8" font-size="4.2" text-anchor="middle" fill="#000" stroke="#000" stroke-width="0.1">0</text>
<text x="373.7" y="148.8" font-size="4.2" text-anchor="middle" fill="#000" stroke="#000" stroke-width="0.1">50</text>
<text x="405.9" y="148.8" font-size="4.2" text-anchor="middle" fill="#000" stroke="#000" stroke-width="0.1">100</text>
<text x="438.2" y="148.8" font-size="4.2" text-anchor="middle" fill="#000" stroke="#000" stroke-width="0.1">150</text>
<text x="470.4" y="148.8" font-size="4.2" text-anchor="middle" fill="#000" stroke="#000" stroke-width="0.1">200</text>
<text x="502.6" y="148.8" font-size="4.2" text-anchor="middle" fill="#000" stroke="#000" stroke-width="0.1">250</text>
<text x="338.7" y="143.0" font-size="4.2" text-anchor="end" fill="#000" stroke="#000" stroke-width="0.1">0</text>
<text x="338.7" y="116.9" font-size="4.2" text-anchor="end" fill="#000" stroke="#000" stroke-width="0.1">100</text>
<text x="338.7" y="90.8" font-size="4.2" text-anchor="end" fill="#000" stroke="#000" stroke-width="0.1">200</text>
<text x="338.7" y="64.6" font-size="4.2" text-anchor="end" fill="#000" stroke="#000" stroke-width="0.1">300</text>
<text x="338.7" y="38.5" font-size="4.2" text-anchor="end" fill="#000" stroke="#000" stroke-width="0.1">400</text>
<text x="338.7" y="12.4" font-size="4.2" text-anchor="end" fill="#000" stroke="#000" stroke-width="0.1">500</text>
<path d="M354.6 141.4 L355.2 141.3 L355.8 141.3 L356.4 141.2 L357.1 141.1 L357.7 141.0 L358.3 140.9 L358.9 140.8 L359.5 140.7 L360.2 140.5 L360.8 140.3 L361.4 140.1 L362.0 139.8 L362.7 139.6 L363.3 139.2 L363.9 138.9 L364.5 138.5 L365.1 138.0 L365.8 137.5 L366.4 136.9 L367.0 136.3 L367.6 135.6 L368.3 134.8 L368.9 133.9 L369.5 133.0 L370.1 132.0 L370.7 130.9 L371.4 129.8 L372.0 128.5 L372.6 127.2 L373.2 125.8 L373.8 124.3 L374.5 122.7 L375.1 121.1 L375.7 119.4 L376.3 117.7 L377.0 115.9 L377.6 114.0 L378.2 112.2 L378.8 110.3 L379.4 108.4 L380.1 106.5 L380.7 104.6 L381.3 102.8 L381.9 101.0 L382.6 99.2 L383.2 97.6 L383.8 96.0 L384.4 94.6 L385.0 93.2 L385.7 92.0 L386.3 90.9 L386.9 90.0 L387.5 89.3 L388.2 88.7 L388.8 88.3 L389.4 88.1 L390.0 88.1 L390.6 88.2 L391.3 88.5 L391.9 89.0 L392.5 89.7 L393.1 90.6 L393.8 91.6 L394.4 92.7 L395.0 94.0 L395.6 95.4 L396.2 96.9 L396.9 98.6 L397.5 100.3 L398.1 102.0 L398.7 103.9 L399.4 105.7 L400.0 107.6 L400.6 109.5 L401.2 111.4 L401.8 113.3 L402.5 115.1 L403.1 117.0 L403.7 118.7 L404.3 120.5 L405.0 122.1 L405.6 123.7 L406.2 125.2 L406.8 126.6 L407.4 128.0 L408.1 129.3 L408.7 130.5 L409.3 131.6 L409.9 132.6 L410.6 133.6 L411.2 134.4 L411.8 135.3 L412.4 136.0 L413.0 136.6 L413.7 137.2 L414.3 137.8 L414.9 138.3 L415.5 138.7 L416.2 139.1 L416.8 139.4 L417.4 139.7 L418.0 140.0 L418.6 140.2 L419.3 140.4 L419.9 140.6 L420.5 140.8 L421.1 140.9 L421.8 141.0 L422.4 141.1 L423.0 141.2 L423.6 141.3 L424.2 141.3 L424.9 141.4" fill="none" stroke="#555" stroke-width="0.5"/>
<path d="M408.1 141.1 L408.7 141.0 L409.3 140.9 L409.9 140.7 L410.6 140.5 L411.2 140.2 L411.8 139.9 L412.4 139.5 L413.0 139.0 L413.7 138.5 L414.3 137.8 L414.9 137.1 L415.5 136.2 L416.2 135.2 L416.8 134.0 L417.4 132.7 L418.0 131.1 L418.6 129.4 L419.3 127.5 L419.9 125.3 L420.5 122.9 L421.1 120.3 L421.8 117.4 L422.4 114.3 L423.0 110.9 L423.6 107.3 L424.2 103.5 L424.9 99.4 L425.5 95.1 L426.1 90.7 L426.7 86.1 L427.4 81.4 L428.0 76.7 L428.6 71.9 L429.2 67.2 L429.8 62.6 L430.5 58.1 L431.1 53.8 L431.7 49.7 L432.3 46.0 L432.9 42.6 L433.6 39.6 L434.2 37.0 L434.8 35.0 L435.4 33.4 L436.1 32.4 L436.7 31.9 L437.3 32.0 L437.9 32.7 L438.5 33.9 L439.2 35.6 L439.8 37.8 L440.4 40.6 L441.0 43.7 L441.7 47.2 L442.3 51.1 L442.9 55.2 L443.5 59.6 L444.1 64.2 L444.8 68.8 L445.4 73.6 L446.0 78.3 L446.6 83.0 L447.3 87.7 L447.9 92.2 L448.5 96.6 L449.1 100.8 L449.7 104.8 L450.4 108.6 L451.0 112.1 L451.6 115.4 L452.2 118.5 L452.9 121.2 L453.5 123.8 L454.1 126.1 L454.7 128.2 L455.3 130.0 L456.0 131.7 L456.6 133.2 L457.2 134.4 L457.8 135.6 L458.5 136.5 L459.1 137.4 L459.7 138.1 L460.3 138.7 L460.9 139.2 L461.6 139.6 L462.2 140.0 L462.8 140.3 L463.4 140.6 L464.1 140.8 L464.7 140.9 L465.3 141.1" fill="none" stroke="#555" stroke-width="0.5"/>
<path d="M448.5 141.4 L449.1 141.4 L449.7 141.3 L450.4 141.2 L451.0 141.2 L451.6 141.0 L452.2 140.9 L452.9 140.7 L453.5 140.5 L454.1 140.3 L454.7 140.0 L455.3 139.7 L456.0 139.3 L456.6 138.8 L457.2 138.3 L457.8 137.7 L458.5 137.1 L459.1 136.3 L459.7 135.4 L460.3 134.5 L460.9 133.5 L461.6 132.3 L462.2 131.1 L462.8 129.8 L463.4 128.3 L464.1 126.9 L464.7 125.3 L465.3 123.7 L465.9 122.0 L466.5 120.3 L467.2 118.6 L467.8 116.9 L468.4 115.2 L469.0 113.6 L469.7 112.0 L470.3 110.6 L470.9 109.3 L471.5 108.1 L472.1 107.1 L472.8 106.3 L473.4 105.7 L474.0 105.3 L474.6 105.1 L475.3 105.1 L475.9 105.3 L476.5 105.7 L477.1 106.4 L477.7 107.2 L478.4 108.2 L479.0 109.4 L479.6 110.7 L480.2 112.2 L480.9 113.7 L481.5 115.4 L482.1 117.0 L482.7 118.7 L483.3 120.4 L484.0 122.1 L484.6 123.8 L485.2 125.4 L485.8 127.0 L486.5 128.5 L487.1 129.9 L487.7 131.2 L488.3 132.4 L488.9 133.6 L489.6 134.6 L490.2 135.5 L490.8 136.4 L491.4 137.1 L492.0 137.8 L492.7 138.4 L493.3 138.9 L493.9 139.3 L494.5 139.7 L495.2 140.0 L495.8 140.3 L496.4 140.6 L497.0 140.8 L497.6 140.9 L498.3 141.1 L498.9 141.2 L499.5 141.3 L500.1 141.3 L500.8 141.4 L501.4 141.4" fill="none" stroke="#555" stroke-width="0.5"/>
<path d="M342.8 141.6m-1.1 0a1.1 1.1 0 1 0 2.2 0a1.1 1.1 0 1 0 -2.2 0M343.4 141.3m-1.1 0a1.1 1.1 0 1 0 2.2 0a1.1 1.1 0 1 0 -2.2 0M344.1 141.2m-1.1 0a1.1 1.1 0 1 0 2.2 0a1.1 1.1 0 1 0 -2.2 0M344.7 141.4m-1.1 0a1.1 1.1 0 1 0 2.2 0a1.1 1.1 0 1 0 -2.2 0M345.4 141.6m-1.1 0a1.1 1.1 0 1 0 2.2 0a1.1 1.1 0 1 0 -2.2 0M346.0 141.6m-1.1 0a1.1 1.1 0 1 0 2.2 0a1.1 1.1 0 1 0 -2.2 0M346.7 141.5m-1.1 0a1.1 1.1 0 1 0 2.2 0a1.1 1.1 0 1 0 -2.2 0M347.3 141.6m-1.1 0a1.1 1.1 0 1 0 2.2 0a1.1 1.1 0 1 0 -2.2 0M347.9 141.6m-1.1 0a1.1 1.1 0 1 0 2.2 0a1.1 1.1 0 1 0 -2.2 0M348.6 141.6m-1.1 0a1.1 1.1 0 1 0 2.2 0a1.1 1.1 0 1 0 -2.2 0M349.2 141.4m-1.1 0a1.1 1.1 0 1 0 2.2 0a1.1 1.1 0 1 0 -2.2 0M349.9 141.2m-1.1 0a1.1 1.1 0 1 0 2.2 0a1.1 1.1 0 1 0 -2.2 0M350.5 141.5m-1.1 0a1.1 1.1 0 1 0 2.2 0a1.1 1.1 0 1 0 -2.2 0M351.2 141.2m-1.1 0a1.1 1.1 0 1 0 2.2 0a1.1 1.1 0 1 0 -2.2 0M351.8 141.6m-1.1 0a1.1 1.1 0 1 0 2.2 0a1.1 1.1 0 1 0 -2.2 0M352.5 141.4m-1.1 0a1.1 1.1 0 1 0 2.2 0a1.1 1.1 0 1 0 -2.2 0M353.1 141.3m-1.1 0a1.1 1.1 0 1 0 2.2 0a1.1 1.1 0 1 0 -2.2 0M353.7 141.6m-1.1 0a1.1 1.1 0 1 0 2.2 0a1.1 1.1 0 1 0 -2.2 0M354.4 141.2m-1.1 0a1.1 1.1 0 1 0 2.2 0a1.1 1.1 0 1 0 -2.2 0M355.0 141.6m-1.1 0a1.1 1.1 0 1 0 2.2 0a1.1 1.1 0 1 0 -2.2 0M355.7 141.6m-1.1 0a1.1 1.1 0 1 0 2.2 0a1.1 1.1 0 1 0 -2.2 0M356.3 141.1m-1.1 0a1.1 1.1 0 1 0 2.2 0a1.1 1.1 0 1 0 -2.2 0M357.0 140.7m-1.1 0a1.1 1.1 0 1 0 2.2 0a1.1 1.1 0 1 0 -2.2 0M357.6 140.2m-1.1 0a1.1 1.1 0 1 0 2.2 0a1.1 1.1 0 1 0 -2.2 0M358.3 141.6m-1.1 0a1.1 1.1 0 1 0 2.2 0a1.1 1.1 0 1 0 -2.2 0M358.9 140.5m-1.1 0a1.1 1.1 0 1 0 2.2 0a1.1 1.1 0 1 0 -2.2 0M359.5 139.7m-1.1 0a1.1 1.1 0 1 0 2.2 0a1.1 1.1 0 1 0 -2.2 0M360.2 140.0m-1.1 0a1.1 1.1 0 1 0 2.2 0a1.1 1.1 0 1 0 -2.2 0M360.8 140.5m-1.1 0a1.1 1.1 0 1 0 2.2 0a1.1 1.1 0 1 0 -2.2 0M361.5 141.5m-1.1 0a1.1 1.1 0 1 0 2.2 0a1.1 1.1 0 1 0 -2.2 0M362.1 139.2m-1.1 0a1.1 1.1 0 1 0 2.2 0a1.1 1.1 0 1 0 -2.2 0M362.8 140.9m-1.1 0a1.1 1.1 0 1 0 2.2 0a1.1 1.1 0 1 0 -2.2 0M363.4 138.3m-1.1 0a1.1 1.1 0 1 0 2.2 0a1.1 1.1 0 1 0 -2.2 0M364.1 139.9m-1.1 0a1.1 1.1 0 1 0 2.2 0a1.1 1.1 0 1 0 -2.2 0M364.7 138.5m-1.1 0a1.1 1.1 0 1 0 2.2 0a1.1 1.1 0 1 0 -2.2 0M365.3 139.6m-1.1 0a1.1 1.1 0 1 0 2.2 0a1.1 1.1 0 1 0 -2.2 0M366.0 137.2m-1.1 0a1.1 1.1 0 1 0 2.2 0a1.1 1.1 0 1 0 -2.2 0M366.6 135.0m-1.1 0a1.1 1.1 0 1 0 2.2 0a1.1 1.1 0 1 0 -2.2 0M367.3 135.7m-1.1 0a1.1 1.1 0 1 0 2.2 0a1.1 1.1 0 1 0 -2.2 0M367.9 135.2m-1.1 0a1.1 1.1 0 1 0 2.2 0a1.1 1.1 0 1 0 -2.2 0M368.6 134.6m-1.1 0a1.1 1.1 0 1 0 2.2 0a1.1 1.1 0 1 0 -2.2 0M369.2 134.5m-1.1 0a1.1 1.1 0 1 0 2.2 0a1.1 1.1 0 1 0 -2.2 0M369.9 131.1m-1.1 0a1.1 1.1 0 1 0 2.2 0a1.1 1.1 0 1 0 -2.2 0M370.5 133.9m-1.1 0a1.1 1.1 0 1 0 2.2 0a1.1 1.1 0 1 0 -2.2 0M371.1 131.8m-1.1 0a1.1 1.1 0 1 0 2.2 0a1.1 1.1 0 1 0 -2.2 0M371.8 129.2m-1.1 0a1.1 1.1 0 1 0 2.2 0a1.1 1.1 0 1 0 -2.2 0M372.4 130.3m-1.1 0a1.1 1.1 0 1 0 2.2 0a1.1 1.1 0 1 0 -2.2 0M373.1 129.6m-1.1 0a1.1 1.1 0 1 0 2.2 0a1.1 1.1 0 1 0 -2.2 0M373.7 125.1m-1.1 0a1.1 1.1 0 1 0 2.2 0a1.1 1.1 0 1 0 -2.2 0M374.4 126.7m-1.1 0a1.1 1.1 0 1 0 2.2 0a1.1 1.1 0 1 0 -2.2 0M375.0 117.9m-1.1 0a1.1 1.1 0 1 0 2.2 0a1.1 1.1 0 1 0 -2.2 0M375.7 117.7m-1.1 0a1.1 1.1 0 1 0 2.2 0a1.1 1.1 0 1 0 -2.2 0M376.3 114.4m-1.1 0a1.1 1.1 0 1 0 2.2 0a1.1 1.1 0 1 0 -2.2 0M376.9 112.5m-1.1 0a1.1 1.1 0 1 0 2.2 0a1.1 1.1 0 1 0 -2.2 0M377.6 111.6m-1.1 0a1.1 1.1 0 1 0 2.2 0a1.1 1.1 0 1 0 -2.2 0M378.2 114.4m-1.1 0a1.1 1.1 0 1 0 2.2 0a1.1 1.1 0 1 0 -2.2 0M378.9 108.3m-1.1 0a1.1 1.1 0 1 0 2.2 0a1.1 1.1 0 1 0 -2.2 0M379.5 106.4m-1.1 0a1.1 1.1 0 1 0 2.2 0a1.1 1.1 0 1 0 -2.2 0M380.2 105.4m-1.1 0a1.1 1.1 0 1 0 2.2 0a1.1 1.1 0 1 0 -2.2 0M380.8 106.2m-1.1 0a1.1 1.1 0 1 0 2.2 0a1.1 1.1 0 1 0 -2.2 0M381.5 109.8m-1.1 0a1.1 1.1 0 1 0 2.2 0a1.1 1.1 0 1 0 -2.2 0M382.1 98.8m-1.1 0a1.1 1.1 0 1 0 2.2 0a1.1 1.1 0 1 0 -2.2 0M382.7 99.3m-1.1 0a1.1 1.1 0 1 0 2.2 0a1.1 1.1 0 1 0 -2.2 0M383.4 94.5m-1.1 0a1.1 1.1 0 1 0 2.2 0a1.1 1.1 0 1 0 -2.2 0M384.0 100.2m-1.1 0a1.1 1.1 0 1 0 2.2 0a1.1 1.1 0 1 0 -2.2 0M384.7 97.3m-1.1 0a1.1 1.1 0 1 0 2.2 0a1.1 1.1 0 1 0 -2.2 0M385.3 97.2m-1.1 0a1.1 1.1 0 1 0 2.2 0a1.1 1.1 0 1 0 -2.2 0M386.0 91.8m-1.1 0a1.1 1.1 0 1 0 2.2 0a1.1 1.1 0 1 0 -2.2 0M386.6 88.6m-1.1 0a1.1 1.1 0 1 0 2.2 0a1.1 1.1 0 1 0 -2.2 0M387.3 90.0m-1.1 0a1.1 1.1 0 1 0 2.2 0a1.1 1.1 0 1 0 -2.2 0M387.9 83.8m-1.1 0a1.1 1.1 0 1 0 2.2 0a1.1 1.1 0 1 0 -2.2 0M388.5 84.6m-1.1 0a1.1 1.1 0 1 0 2.2 0a1.1 1.1 0 1 0 -2.2 0M389.2 86.0m-1.1 0a1.1 1.1 0 1 0 2.2 0a1.1 1.1 0 1 0 -2.2 0M389.8 84.2m-1.1 0a1.1 1.1 0 1 0 2.2 0a1.1 1.1 0 1 0 -2.2 0M390.5 90.2m-1.1 0a1.1 1.1 0 1 0 2.2 0a1.1 1.1 0 1 0 -2.2 0M391.1 87.6m-1.1 0a1.1 1.1 0 1 0 2.2 0a1.1 1.1 0 1 0 -2.2 0M391.8 84.2m-1.1 0a1.1 1.1 0 1 0 2.2 0a1.1 1.1 0 1 0 -2.2 0M392.4 91.9m-1.1 0a1.1 1.1 0 1 0 2.2 0a1.1 1.1 0 1 0 -2.2 0M393.1 87.3m-1.1 0a1.1 1.1 0 1 0 2.2 0a1.1 1.1 0 1 0 -2.2 0M393.7 85.8m-1.1 0a1.1 1.1 0 1 0 2.2 0a1.1 1.1 0 1 0 -2.2 0M394.3 89.6m-1.1 0a1.1 1.1 0 1 0 2.2 0a1.1 1.1 0 1 0 -2.2 0M395.0 86.0m-1.1 0a1.1 1.1 0 1 0 2.2 0a1.1 1.1 0 1 0 -2.2 0M395.6 96.7m-1.1 0a1.1 1.1 0 1 0 2.2 0a1.1 1.1 0 1 0 -2.2 0M396.3 97.0m-1.1 0a1.1 1.1 0 1 0 2.2 0a1.1 1.1 0 1 0 -2.2 0M396.9 101.2m-1.1 0a1.1 1.1 0 1 0 2.2 0a1.1 1.1 0 1 0 -2.2 0M397.6 96.7m-1.1 0a1.1 1.1 0 1 0 2.2 0a1.1 1.1 0 1 0 -2.2 0M398.2 101.5m-1.1 0a1.1 1.1 0 1 0 2.2 0a1.1 1.1 0 1 0 -2.2 0M398.9 104.0m-1.1 0a1.1 1.1 0 1 0 2.2 0a1.1 1.1 0 1 0 -2.2 0M399.5 102.1m-1.1 0a1.1 1.1 0 1 0 2.2 0a1.1 1.1 0 1 0 -2.2 0M400.1 110.0m-1.1 0a1.1 1.1 0 1 0 2.2 0a1.1 1.1 0 1 0 -2.2 0M400.8 109.0m-1.1 0a1.1 1.1 0 1 0 2.2 0a1.1 1.1 0 1 0 -2.2 0M401.4 109.1m-1.1 0a1.1 1.1 0 1 0 2.2 0a1.1 1.1 0 1 0 -2.2 0M402.1 118.4m-1.1 0a1.1 1.1 0 1 0 2.2 0a1.1 1.1 0 1 0 -2.2 0M402.7 114.5m-1.1 0a1.1 1.1 0 1 0 2.2 0a1.1 1.1 0 1 0 -2.2 0M403.4 115.7m-1.1 0a1.1 1.1 0 1 0 2.2 0a1.1 1.1 0 1 0 -2.2 0M404.0 122.7m-1.1 0a1.1 1.1 0 1 0 2.2 0a1.1 1.1 0 1 0 -2.2 0M404.7 117.8m-1.1 0a1.1 1.1 0 1 0 2.2 0a1.1 1.1 0 1 0 -2.2 0M405.3 121.9m-1.1 0a1.1 1.1 0 1 0 2.2 0a1.1 1.1 0 1 0 -2.2 0M405.9 125.3m-1.1 0a1.1 1.1 0 1 0 2.2 0a1.1 1.1 0 1 0 -2.2 0M406.6 125.7m-1.1 0a1.1 1.1 0 1 0 2.2 0a1.1 1.1 0 1 0 -2.2 0M407.2 127.9m-1.1 0a1.1 1.1 0 1 0 2.2 0a1.1 1.1 0 1 0 -2.2 0M407.9 127.0m-1.1 0a1.1 1.1 0 1 0 2.2 0a1.1 1.1 0 1 0 -2.2 0M408.5 127.3m-1.1 0a1.1 1.1 0 1 0 2.2 0a1.1 1.1 0 1 0 -2.2 0M409.2 130.2m-1.1 0a1.1 1.1 0 1 0 2.2 0a1.1 1.1 0 1 0 -2.2 0M409.8 132.4m-1.1 0a1.1 1.1 0 1 0 2.2 0a1.1 1.1 0 1 0 -2.2 0M410.5 133.0m-1.1 0a1.1 1.1 0 1 0 2.2 0a1.1 1.1 0 1 0 -2.2 0M411.1 132.9m-1.1 0a1.1 1.1 0 1 0 2.2 0a1.1 1.1 0 1 0 -2.2 0M411.8 133.3m-1.1 0a1.1 1.1 0 1 0 2.2 0a1.1 1.1 0 1 0 -2.2 0M412.4 134.7m-1.1 0a1.1 1.1 0 1 0 2.2 0a1.1 1.1 0 1 0 -2.2 0M413.0 132.0m-1.1 0a1.1 1.1 0 1 0 2.2 0a1.1 1.1 0 1 0 -2.2 0M413.7 137.0m-1.1 0a1.1 1.1 0 1 0 2.2 0a1.1 1.1 0 1 0 -2.2 0M414.3 133.3m-1.1 0a1.1 1.1 0 1 0 2.2 0a1.1 1.1 0 1 0 -2.2 0M415.0 131.4m-1.1 0a1.1 1.1 0 1 0 2.2 0a1.1 1.1 0 1 0 -2.2 0M415.6 134.1m-1.1 0a1.1 1.1 0 1 0 2.2 0a1.1 1.1 0 1 0 -2.2 0M416.3 129.6m-1.1 0a1.1 1.1 0 1 0 2.2 0a1.1 1.1 0 1 0 -2.2 0M416.9 132.2m-1.1 0a1.1 1.1 0 1 0 2.2 0a1.1 1.1 0 1 0 -2.2 0M417.6 129.2m-1.1 0a1.1 1.1 0 1 0 2.2 0a1.1 1.1 0 1 0 -2.2 0M418.2 128.3m-1.1 0a1.1 1.1 0 1 0 2.2 0a1.1 1.1 0 1 0 -2.2 0M418.8 129.3m-1.1 0a1.1 1.1 0 1 0 2.2 0a1.1 1.1 0 1 0 -2.2 0M419.5 124.9m-1.1 0a1.1 1.1 0 1 0 2.2 0a1.1 1.1 0 1 0 -2.2 0M420.1 123.1m-1.1 0a1.1 1.1 0 1 0 2.2 0a1.1 1.1 0 1 0 -2.2 0M420.8 118.6m-1.1 0a1.1 1.1 0 1 0 2.2 0a1.1 1.1 0 1 0 -2.2 0M421.4 117.1m-1.1 0a1.1 1.1 0 1 0 2.2 0a1.1 1.1 0 1 0 -2.2 0M422.1 115.9m-1.1 0a1.1 1.1 0 1 0 2.2 0a1.1 1.1 0 1 0 -2.2 0M422.7 109.9m-1.1 0a1.1 1.1 0 1 0 2.2 0a1.1 1.1 0 1 0 -2.2 0M423.4 102.4m-1.1 0a1.1 1.1 0 1 0 2.2 0a1.1 1.1 0 1 0 -2.2 0M424.0 102.4m-1.1 0a1.1 1.1 0 1 0 2.2 0a1.1 1.1 0 1 0 -2.2 0M424.6 100.8m-1.1 0a1.1 1.1 0 1 0 2.2 0a1.1 1.1 0 1 0 -2.2 0M425.3 95.5m-1.1 0a1.1 1.1 0 1 0 2.2 0a1.1 1.1 0 1 0 -2.2 0M425.9 91.2m-1.1 0a1.1 1.1 0 1 0 2.2 0a1.1 1.1 0 1 0 -2.2 0M426.6 88.6m-1.1 0a1.1 1.1 0 1 0 2.2 0a1.1 1.1 0 1 0 -2.2 0M427.2 87.6m-1.1 0a1.1 1.1 0 1 0 2.2 0a1.1 1.1 0 1 0 -2.2 0M427.9 79.9m-1.1 0a1.1 1.1 0 1 0 2.2 0a1.1 1.1 0 1 0 -2.2 0M428.5 66.0m-1.1 0a1.1 1.1 0 1 0 2.2 0a1.1 1.1 0 1 0 -2.2 0M429.2 62.5m-1.1 0a1.1 1.1 0 1 0 2.2 0a1.1 1.1 0 1 0 -2.2 0M429.8 60.5m-1.1 0a1.1 1.1 0 1 0 2.2 0a1.1 1.1 0 1 0 -2.2 0M430.4 56.0m-1.1 0a1.1 1.1 0 1 0 2.2 0a1.1 1.1 0 1 0 -2.2 0M431.1 45.8m-1.1 0a1.1 1.1 0 1 0 2.2 0a1.1 1.1 0 1 0 -2.2 0M431.7 43.1m-1.1 0a1.1 1.1 0 1 0 2.2 0a1.1 1.1 0 1 0 -2.2 0M432.4 46.1m-1.1 0a1.1 1.1 0 1 0 2.2 0a1.1 1.1 0 1 0 -2.2 0M433.0 41.4m-1.1 0a1.1 1.1 0 1 0 2.2 0a1.1 1.1 0 1 0 -2.2 0M433.7 35.5m-1.1 0a1.1 1.1 0 1 0 2.2 0a1.1 1.1 0 1 0 -2.2 0M434.3 39.0m-1.1 0a1.1 1.1 0 1 0 2.2 0a1.1 1.1 0 1 0 -2.2 0M435.0 32.2m-1.1 0a1.1 1.1 0 1 0 2.2 0a1.1 1.1 0 1 0 -2.2 0M435.6 30.6m-1.1 0a1.1 1.1 0 1 0 2.2 0a1.1 1.1 0 1 0 -2.2 0M436.2 30.3m-1.1 0a1.1 1.1 0 1 0 2.2 0a1.1 1.1 0 1 0 -2.2 0M436.9 29.9m-1.1 0a1.1 1.1 0 1 0 2.2 0a1.1 1.1 0 1 0 -2.2 0M437.5 29.9m-1.1 0a1.1 1.1 0 1 0 2.2 0a1.1 1.1 0 1 0 -2.2 0M438.2 31.6m-1.1 0a1.1 1.1 0 1 0 2.2 0a1.1 1.1 0 1 0 -2.2 0M438.8 33.5m-1.1 0a1.1 1.1 0 1 0 2.2 0a1.1 1.1 0 1 0 -2.2 0M439.5 35.7m-1.1 0a1.1 1.1 0 1 0 2.2 0a1.1 1.1 0 1 0 -2.2 0M440.1 39.7m-1.1 0a1.1 1.1 0 1 0 2.2 0a1.1 1.1 0 1 0 -2.2 0M440.8 40.5m-1.1 0a1.1 1.1 0 1 0 2.2 0a1.1 1.1 0 1 0 -2.2 0M441.4 47.2m-1.1 0a1.1 1.1 0 1 0 2.2 0a1.1 1.1 0 1 0 -2.2 0M442.0 49.3m-1.1 0a1.1 1.1 0 1 0 2.2 0a1.1 1.1 0 1 0 -2.2 0M442.7 54.2m-1.1 0a1.1 1.1 0 1 0 2.2 0a1.1 1.1 0 1 0 -2.2 0M443.3 56.7m-1.1 0a1.1 1.1 0 1 0 2.2 0a1.1 1.1 0 1 0 -2.2 0M444.0 62.1m-1.1 0a1.1 1.1 0 1 0 2.2 0a1.1 1.1 0 1 0 -2.2 0M444.6 70.6m-1.1 0a1.1 1.1 0 1 0 2.2 0a1.1 1.1 0 1 0 -2.2 0M445.3 67.5m-1.1 0a1.1 1.1 0 1 0 2.2 0a1.1 1.1 0 1 0 -2.2 0M445.9 82.3m-1.1 0a1.1 1.1 0 1 0 2.2 0a1.1 1.1 0 1 0 -2.2 0M446.6 82.9m-1.1 0a1.1 1.1 0 1 0 2.2 0a1.1 1.1 0 1 0 -2.2 0M447.2 86.3m-1.1 0a1.1 1.1 0 1 0 2.2 0a1.1 1.1 0 1 0 -2.2 0M447.8 92.0m-1.1 0a1.1 1.1 0 1 0 2.2 0a1.1 1.1 0 1 0 -2.2 0M448.5 93.5m-1.1 0a1.1 1.1 0 1 0 2.2 0a1.1 1.1 0 1 0 -2.2 0M449.1 99.3m-1.1 0a1.1 1.1 0 1 0 2.2 0a1.1 1.1 0 1 0 -2.2 0M449.8 100.4m-1.1 0a1.1 1.1 0 1 0 2.2 0a1.1 1.1 0 1 0 -2.2 0M450.4 112.8m-1.1 0a1.1 1.1 0 1 0 2.2 0a1.1 1.1 0 1 0 -2.2 0M451.1 111.0m-1.1 0a1.1 1.1 0 1 0 2.2 0a1.1 1.1 0 1 0 -2.2 0M451.7 113.3m-1.1 0a1.1 1.1 0 1 0 2.2 0a1.1 1.1 0 1 0 -2.2 0M452.4 117.6m-1.1 0a1.1 1.1 0 1 0 2.2 0a1.1 1.1 0 1 0 -2.2 0M453.0 124.6m-1.1 0a1.1 1.1 0 1 0 2.2 0a1.1 1.1 0 1 0 -2.2 0M453.6 121.3m-1.1 0a1.1 1.1 0 1 0 2.2 0a1.1 1.1 0 1 0 -2.2 0M454.3 123.9m-1.1 0a1.1 1.1 0 1 0 2.2 0a1.1 1.1 0 1 0 -2.2 0M454.9 129.4m-1.1 0a1.1 1.1 0 1 0 2.2 0a1.1 1.1 0 1 0 -2.2 0M455.6 127.5m-1.1 0a1.1 1.1 0 1 0 2.2 0a1.1 1.1 0 1 0 -2.2 0M456.2 132.7m-1.1 0a1.1 1.1 0 1 0 2.2 0a1.1 1.1 0 1 0 -2.2 0M456.9 129.7m-1.1 0a1.1 1.1 0 1 0 2.2 0a1.1 1.1 0 1 0 -2.2 0M457.5 131.3m-1.1 0a1.1 1.1 0 1 0 2.2 0a1.1 1.1 0 1 0 -2.2 0M458.2 131.9m-1.1 0a1.1 1.1 0 1 0 2.2 0a1.1 1.1 0 1 0 -2.2 0M458.8 132.1m-1.1 0a1.1 1.1 0 1 0 2.2 0a1.1 1.1 0 1 0 -2.2 0M459.4 132.9m-1.1 0a1.1 1.1 0 1 0 2.2 0a1.1 1.1 0 1 0 -2.2 0M460.1 132.6m-1.1 0a1.1 1.1 0 1 0 2.2 0a1.1 1.1 0 1 0 -2.2 0M460.7 130.2m-1.1 0a1.1 1.1 0 1 0 2.2 0a1.1 1.1 0 1 0 -2.2 0M461.4 133.5m-1.1 0a1.1 1.1 0 1 0 2.2 0a1.1 1.1 0 1 0 -2.2 0M462.0 128.7m-1.1 0a1.1 1.1 0 1 0 2.2 0a1.1 1.1 0 1 0 -2.2 0M462.7 128.4m-1.1 0a1.1 1.1 0 1 0 2.2 0a1.1 1.1 0 1 0 -2.2 0M463.3 125.0m-1.1 0a1.1 1.1 0 1 0 2.2 0a1.1 1.1 0 1 0 -2.2 0M464.0 125.1m-1.1 0a1.1 1.1 0 1 0 2.2 0a1.1 1.1 0 1 0 -2.2 0M464.6 120.5m-1.1 0a1.1 1.1 0 1 0 2.2 0a1.1 1.1 0 1 0 -2.2 0M465.2 119.3m-1.1 0a1.1 1.1 0 1 0 2.2 0a1.1 1.1 0 1 0 -2.2 0M465.9 122.1m-1.1 0a1.1 1.1 0 1 0 2.2 0a1.1 1.1 0 1 0 -2.2 0M466.5 118.2m-1.1 0a1.1 1.1 0 1 0 2.2 0a1.1 1.1 0 1 0 -2.2 0M467.2 119.8m-1.1 0a1.1 1.1 0 1 0 2.2 0a1.1 1.1 0 1 0 -2.2 0M467.8 115.2m-1.1 0a1.1 1.1 0 1 0 2.2 0a1.1 1.1 0 1 0 -2.2 0M468.5 113.8m-1.1 0a1.1 1.1 0 1 0 2.2 0a1.1 1.1 0 1 0 -2.2 0M469.1 113.8m-1.1 0a1.1 1.1 0 1 0 2.2 0a1.1 1.1 0 1 0 -2.2 0M469.8 108.6m-1.1 0a1.1 1.1 0 1 0 2.2 0a1.1 1.1 0 1 0 -2.2 0M470.4 111.3m-1.1 0a1.1 1.1 0 1 0 2.2 0a1.1 1.1 0 1 0 -2.2 0M471.0 107.8m-1.1 0a1.1 1.1 0 1 0 2.2 0a1.1 1.1 0 1 0 -2.2 0M471.7 105.1m-1.1 0a1.1 1.1 0 1 0 2.2 0a1.1 1.1 0 1 0 -2.2 0M472.3 107.5m-1.1 0a1.1 1.1 0 1 0 2.2 0a1.1 1.1 0 1 0 -2.2 0M473.0 107.8m-1.1 0a1.1 1.1 0 1 0 2.2 0a1.1 1.1 0 1 0 -2.2 0M473.6 105.5m-1.1 0a1.1 1.1 0 1 0 2.2 0a1.1 1.1 0 1 0 -2.2 0M474.3 107.1m-1.1 0a1.1 1.1 0 1 0 2.2 0a1.1 1.1 0 1 0 -2.2 0M474.9 100.8m-1.1 0a1.1 1.1 0 1 0 2.2 0a1.1 1.1 0 1 0 -2.2 0M475.6 103.7m-1.1 0a1.1 1.1 0 1 0 2.2 0a1.1 1.1 0 1 0 -2.2 0M476.2 103.0m-1.1 0a1.1 1.1 0 1 0 2.2 0a1.1 1.1 0 1 0 -2.2 0M476.8 106.7m-1.1 0a1.1 1.1 0 1 0 2.2 0a1.1 1.1 0 1 0 -2.2 0M477.5 109.3m-1.1 0a1.1 1.1 0 1 0 2.2 0a1.1 1.1 0 1 0 -2.2 0M478.1 106.4m-1.1 0a1.1 1.1 0 1 0 2.2 0a1.1 1.1 0 1 0 -2.2 0M478.8 110.7m-1.1 0a1.1 1.1 0 1 0 2.2 0a1.1 1.1 0 1 0 -2.2 0M479.4 109.7m-1.1 0a1.1 1.1 0 1 0 2.2 0a1.1 1.1 0 1 0 -2.2 0M480.1 113.9m-1.1 0a1.1 1.1 0 1 0 2.2 0a1.1 1.1 0 1 0 -2.2 0M480.7 116.1m-1.1 0a1.1 1.1 0 1 0 2.2 0a1.1 1.1 0 1 0 -2.2 0M481.4 113.1m-1.1 0a1.1 1.1 0 1 0 2.2 0a1.1 1.1 0 1 0 -2.2 0M482.0 117.1m-1.1 0a1.1 1.1 0 1 0 2.2 0a1.1 1.1 0 1 0 -2.2 0M482.6 119.3m-1.1 0a1.1 1.1 0 1 0 2.2 0a1.1 1.1 0 1 0 -2.2 0M483.3 118.0m-1.1 0a1.1 1.1 0 1 0 2.2 0a1.1 1.1 0 1 0 -2.2 0M483.9 126.6m-1.1 0a1.1 1.1 0 1 0 2.2 0a1.1 1.1 0 1 0 -2.2 0M484.6 121.6m-1.1 0a1.1 1.1 0 1 0 2.2 0a1.1 1.1 0 1 0 -2.2 0M485.2 125.5m-1.1 0a1.1 1.1 0 1 0 2.2 0a1.1 1.1 0 1 0 -2.2 0M485.9 129.6m-1.1 0a1.1 1.1 0 1 0 2.2 0a1.1 1.1 0 1 0 -2.2 0M486.5 131.0m-1.1 0a1.1 1.1 0 1 0 2.2 0a1.1 1.1 0 1 0 -2.2 0M487.2 131.2m-1.1 0a1.1 1.1 0 1 0 2.2 0a1.1 1.1 0 1 0 -2.2 0M487.8 130.9m-1.1 0a1.1 1.1 0 1 0 2.2 0a1.1 1.1 0 1 0 -2.2 0M488.4 135.0m-1.1 0a1.1 1.1 0 1 0 2.2 0a1.1 1.1 0 1 0 -2.2 0M489.1 132.7m-1.1 0a1.1 1.1 0 1 0 2.2 0a1.1 1.1 0 1 0 -2.2 0M489.7 135.0m-1.1 0a1.1 1.1 0 1 0 2.2 0a1.1 1.1 0 1 0 -2.2 0M490.4 135.6m-1.1 0a1.1 1.1 0 1 0 2.2 0a1.1 1.1 0 1 0 -2.2 0M491.0 137.3m-1.1 0a1.1 1.1 0 1 0 2.2 0a1.1 1.1 0 1 0 -2.2 0M491.7 137.7m-1.1 0a1.1 1.1 0 1 0 2.2 0a1.1 1.1 0 1 0 -2.2 0M492.3 137.4m-1.1 0a1.1 1.1 0 1 0 2.2 0a1.1 1.1 0 1 0 -2.2 0M493.0 138.0m-1.1 0a1.1 1.1 0 1 0 2.2 0a1.1 1.1 0 1 0 -2.2 0M493.6 140.0m-1.1 0a1.1 1.1 0 1 0 2.2 0a1.1 1.1 0 1 0 -2.2 0M494.2 140.3m-1.1 0a1.1 1.1 0 1 0 2.2 0a1.1 1.1 0 1 0 -2.2 0M494.9 140.3m-1.1 0a1.1 1.1 0 1 0 2.2 0a1.1 1.1 0 1 0 -2.2 0M495.5 139.0m-1.1 0a1.1 1.1 0 1 0 2.2 0a1.1 1.1 0 1 0 -2.2 0M496.2 140.8m-1.1 0a1.1 1.1 0 1 0 2.2 0a1.1 1.1 0 1 0 -2.2 0M496.8 139.9m-1.1 0a1.1 1.1 0 1 0 2.2 0a1.1 1.1 0 1 0 -2.2 0M497.5 140.9m-1.1 0a1.1 1.1 0 1 0 2.2 0a1.1 1.1 0 1 0 -2.2 0M498.1 140.1m-1.1 0a1.1 1.1 0 1 0 2.2 0a1.1 1.1 0 1 0 -2.2 0M498.8 140.7m-1.1 0a1.1 1.1 0 1 0 2.2 0a1.1 1.1 0 1 0 -2.2 0M499.4 141.1m-1.1 0a1.1 1.1 0 1 0 2.2 0a1.1 1.1 0 1 0 -2.2 0M500.0 141.3m-1.1 0a1.1 1.1 0 1 0 2.2 0a1.1 1.1 0 1 0 -2.2 0M500.7 141.0m-1.1 0a1.1 1.1 0 1 0 2.2 0a1.1 1.1 0 1 0 -2.2 0M501.3 140.9m-1.1 0a1.1 1.1 0 1 0 2.2 0a1.1 1.1 0 1 0 -2.2 0M502.0 141.6m-1.1 0a1.1 1.1 0 1 0 2.2 0a1.1 1.1 0 1 0 -2.2 0" fill="#000"/>
<text x="469.0" y="19.5" font-size="7.6" fill="#000" stroke="#000" stroke-width="0.12" textLength="30.5" lengthAdjust="spacingAndGlyphs">FoM = 0.97</text>
<text x="469.0" y="31.0" font-size="7.6" fill="#000" stroke="#000" stroke-width="0.12" textLength="30.0" lengthAdjust="spacingAndGlyphs">E<tspan font-size="4.6" dy="1.6">e</tspan><tspan dy="-1.6"> = 40 keV</tspan></text>
<text x="469.0" y="42.5" font-size="7.6" fill="#000" stroke="#000" stroke-width="0.12" textLength="33.5" lengthAdjust="spacingAndGlyphs">E<tspan font-size="4.6" dy="1.6">p</tspan><tspan dy="-1.6"> = 400 keV</tspan></text>
<text x="335.5" y="6.2" font-size="4.4" font-weight="bold" text-anchor="middle" fill="#111">N</text>
<text x="423.5" y="157.2" font-size="5.8" text-anchor="middle" fill="#000" stroke="#000" stroke-width="0.1" textLength="23.5" lengthAdjust="spacingAndGlyphs">R, channel</text>
<rect x="434.6" y="275.0" width="182.4" height="163.0" fill="#fff"/>
<rect x="447.2" y="283.7" width="167.1" height="135.8" fill="none" stroke="#444" stroke-width="0.8"/>
<path d="M447.2 419.5v2.4M480.0 419.5v2.4M512.8 419.5v2.4M545.6 419.5v2.4M578.4 419.5v2.4M611.2 419.5v2.4M463.6 419.5v1.4M496.4 419.5v1.4M529.2 419.5v1.4M562.0 419.5v1.4M594.8 419.5v1.4M447.2 419.5h-2.4M447.2 405.9h-2.4M447.2 392.3h-2.4M447.2 378.8h-2.4M447.2 365.2h-2.4M447.2 351.6h-2.4M447.2 338.0h-2.4M447.2 324.4h-2.4M447.2 310.9h-2.4M447.2 297.3h-2.4M447.2 283.7h-2.4M447.2 412.7h-1.4M447.2 399.1h-1.4M447.2 385.6h-1.4M447.2 372.0h-1.4M447.2 358.4h-1.4M447.2 344.8h-1.4M447.2 331.2h-1.4M447.2 317.6h-1.4M447.2 304.1h-1.4M447.2 290.5h-1.4" stroke="#222" stroke-width="0.6" fill="none"/>
<text x="447.2" y="426.7" font-size="4.2" text-anchor="middle" fill="#000" stroke="#000" stroke-width="0.1">0</text>
<text x="480.0" y="426.7" font-size="4.2" text-anchor="middle" fill="#000" stroke="#000" stroke-width="0.1">50</text>
<text x="512.8" y="426.7" font-size="4.2" text-anchor="middle" fill="#000" stroke="#000" stroke-width="0.1">100</text>
<text x="545.6" y="426.7" font-size="4.2" text-anchor="middle" fill="#000" stroke="#000" stroke-width="0.1">150</text>
<text x="578.4" y="426.7" font-size="4.2" text-anchor="middle" fill="#000" stroke="#000" stroke-width="0.1">200</text>
<text x="611.2" y="426.7" font-size="4.2" text-anchor="middle" fill="#000" stroke="#000" stroke-width="0.1">250</text>
<text x="444.4" y="420.9" font-size="4.2" text-anchor="end" fill="#000" stroke="#000" stroke-width="0.1">0</text>
<text x="444.4" y="407.3" font-size="4.2" text-anchor="end" fill="#000" stroke="#000" stroke-width="0.1">20</text>
<text x="444.4" y="393.7" font-size="4.2" text-anchor="end" fill="#000" stroke="#000" stroke-width="0.1">40</text>
<text x="444.4" y="380.2" font-size="4.2" text-anchor="end" fill="#000" stroke="#000" stroke-width="0.1">60</text>
<text x="444.4" y="366.6" font-size="4.2" text-anchor="end" fill="#000" stroke="#000" stroke-width="0.1">80</text>
<text x="444.4" y="353.0" font-size="4.2" text-anchor="end" fill="#000" stroke="#000" stroke-width="0.1">100</text>
<text x="444.4" y="339.4" font-size="4.2" text-anchor="end" fill="#000" stroke="#000" stroke-width="0.1">120</text>
<text x="444.4" y="325.8" font-size="4.2" text-anchor="end" fill="#000" stroke="#000" stroke-width="0.1">140</text>
<text x="444.4" y="312.3" font-size="4.2" text-anchor="end" fill="#000" stroke="#000" stroke-width="0.1">160</text>
<text x="444.4" y="298.7" font-size="4.2" text-anchor="end" fill="#000" stroke="#000" stroke-width="0.1">180</text>
<text x="444.4" y="285.1" font-size="4.2" text-anchor="end" fill="#000" stroke="#000" stroke-width="0.1">200</text>
<path d="M501.0 419.4 L501.7 419.3 L502.3 419.2 L502.9 419.1 L503.6 418.8 L504.2 418.4 L504.8 417.9 L505.5 417.2 L506.1 416.2 L506.7 415.1 L507.4 413.7 L508.0 412.2 L508.6 410.6 L509.3 408.9 L509.9 407.4 L510.5 406.1 L511.2 405.2 L511.8 404.6 L512.4 404.6 L513.1 405.1 L513.7 406.0 L514.3 407.2 L515.0 408.7 L515.6 410.3 L516.2 412.0 L516.9 413.5 L517.5 414.9 L518.1 416.1 L518.8 417.0 L519.4 417.8 L520.0 418.4 L520.7 418.8 L521.3 419.0 L521.9 419.2 L522.6 419.3 L523.2 419.4" fill="none" stroke="#555" stroke-width="0.5"/>
<path d="M539.0 418.7 L539.6 417.7 L540.3 415.7 L540.9 412.0 L541.5 405.8 L542.2 396.3 L542.8 383.1 L543.4 366.5 L544.1 348.0 L544.7 330.1 L545.3 315.9 L546.0 308.3 L546.6 308.8 L547.2 317.4 L547.9 332.2 L548.5 350.4 L549.1 368.8 L549.8 385.0 L550.4 397.7 L551.0 406.8 L551.7 412.6 L552.3 416.0 L552.9 417.9 L553.6 418.8" fill="none" stroke="#555" stroke-width="0.5"/>
<path d="M447.9 419.4m-1.1 0a1.1 1.1 0 1 0 2.2 0a1.1 1.1 0 1 0 -2.2 0M448.5 419.5m-1.1 0a1.1 1.1 0 1 0 2.2 0a1.1 1.1 0 1 0 -2.2 0M449.2 419.5m-1.1 0a1.1 1.1 0 1 0 2.2 0a1.1 1.1 0 1 0 -2.2 0M449.8 419.5m-1.1 0a1.1 1.1 0 1 0 2.2 0a1.1 1.1 0 1 0 -2.2 0M450.5 419.1m-1.1 0a1.1 1.1 0 1 0 2.2 0a1.1 1.1 0 1 0 -2.2 0M451.1 419.4m-1.1 0a1.1 1.1 0 1 0 2.2 0a1.1 1.1 0 1 0 -2.2 0M451.8 419.5m-1.1 0a1.1 1.1 0 1 0 2.2 0a1.1 1.1 0 1 0 -2.2 0M452.4 418.9m-1.1 0a1.1 1.1 0 1 0 2.2 0a1.1 1.1 0 1 0 -2.2 0M453.1 419.5m-1.1 0a1.1 1.1 0 1 0 2.2 0a1.1 1.1 0 1 0 -2.2 0M453.8 419.5m-1.1 0a1.1 1.1 0 1 0 2.2 0a1.1 1.1 0 1 0 -2.2 0M454.4 419.5m-1.1 0a1.1 1.1 0 1 0 2.2 0a1.1 1.1 0 1 0 -2.2 0M455.1 419.5m-1.1 0a1.1 1.1 0 1 0 2.2 0a1.1 1.1 0 1 0 -2.2 0M455.7 419.5m-1.1 0a1.1 1.1 0 1 0 2.2 0a1.1 1.1 0 1 0 -2.2 0M456.4 419.5m-1.1 0a1.1 1.1 0 1 0 2.2 0a1.1 1.1 0 1 0 -2.2 0M457.0 419.3m-1.1 0a1.1 1.1 0 1 0 2.2 0a1.1 1.1 0 1 0 -2.2 0M457.7 419.5m-1.1 0a1.1 1.1 0 1 0 2.2 0a1.1 1.1 0 1 0 -2.2 0M458.4 419.5m-1.1 0a1.1 1.1 0 1 0 2.2 0a1.1 1.1 0 1 0 -2.2 0M459.0 419.5m-1.1 0a1.1 1.1 0 1 0 2.2 0a1.1 1.1 0 1 0 -2.2 0M459.7 419.5m-1.1 0a1.1 1.1 0 1 0 2.2 0a1.1 1.1 0 1 0 -2.2 0M460.3 419.3m-1.1 0a1.1 1.1 0 1 0 2.2 0a1.1 1.1 0 1 0 -2.2 0M461.0 419.5m-1.1 0a1.1 1.1 0 1 0 2.2 0a1.1 1.1 0 1 0 -2.2 0M461.6 419.5m-1.1 0a1.1 1.1 0 1 0 2.2 0a1.1 1.1 0 1 0 -2.2 0M462.3 419.5m-1.1 0a1.1 1.1 0 1 0 2.2 0a1.1 1.1 0 1 0 -2.2 0M462.9 419.5m-1.1 0a1.1 1.1 0 1 0 2.2 0a1.1 1.1 0 1 0 -2.2 0M463.6 419.5m-1.1 0a1.1 1.1 0 1 0 2.2 0a1.1 1.1 0 1 0 -2.2 0M464.3 419.5m-1.1 0a1.1 1.1 0 1 0 2.2 0a1.1 1.1 0 1 0 -2.2 0M464.9 419.5m-1.1 0a1.1 1.1 0 1 0 2.2 0a1.1 1.1 0 1 0 -2.2 0M465.6 419.2m-1.1 0a1.1 1.1 0 1 0 2.2 0a1.1 1.1 0 1 0 -2.2 0M466.2 419.5m-1.1 0a1.1 1.1 0 1 0 2.2 0a1.1 1.1 0 1 0 -2.2 0M466.9 419.5m-1.1 0a1.1 1.1 0 1 0 2.2 0a1.1 1.1 0 1 0 -2.2 0M467.5 419.5m-1.1 0a1.1 1.1 0 1 0 2.2 0a1.1 1.1 0 1 0 -2.2 0M468.2 419.4m-1.1 0a1.1 1.1 0 1 0 2.2 0a1.1 1.1 0 1 0 -2.2 0M468.8 419.5m-1.1 0a1.1 1.1 0 1 0 2.2 0a1.1 1.1 0 1 0 -2.2 0M469.5 419.5m-1.1 0a1.1 1.1 0 1 0 2.2 0a1.1 1.1 0 1 0 -2.2 0M470.2 419.5m-1.1 0a1.1 1.1 0 1 0 2.2 0a1.1 1.1 0 1 0 -2.2 0M470.8 419.5m-1.1 0a1.1 1.1 0 1 0 2.2 0a1.1 1.1 0 1 0 -2.2 0M471.5 419.5m-1.1 0a1.1 1.1 0 1 0 2.2 0a1.1 1.1 0 1 0 -2.2 0M472.1 419.5m-1.1 0a1.1 1.1 0 1 0 2.2 0a1.1 1.1 0 1 0 -2.2 0M472.8 419.3m-1.1 0a1.1 1.1 0 1 0 2.2 0a1.1 1.1 0 1 0 -2.2 0M473.4 419.3m-1.1 0a1.1 1.1 0 1 0 2.2 0a1.1 1.1 0 1 0 -2.2 0M474.1 419.5m-1.1 0a1.1 1.1 0 1 0 2.2 0a1.1 1.1 0 1 0 -2.2 0M474.8 419.5m-1.1 0a1.1 1.1 0 1 0 2.2 0a1.1 1.1 0 1 0 -2.2 0M475.4 419.3m-1.1 0a1.1 1.1 0 1 0 2.2 0a1.1 1.1 0 1 0 -2.2 0M476.1 419.4m-1.1 0a1.1 1.1 0 1 0 2.2 0a1.1 1.1 0 1 0 -2.2 0M476.7 419.5m-1.1 0a1.1 1.1 0 1 0 2.2 0a1.1 1.1 0 1 0 -2.2 0M477.4 419.2m-1.1 0a1.1 1.1 0 1 0 2.2 0a1.1 1.1 0 1 0 -2.2 0M478.0 419.5m-1.1 0a1.1 1.1 0 1 0 2.2 0a1.1 1.1 0 1 0 -2.2 0M478.7 419.5m-1.1 0a1.1 1.1 0 1 0 2.2 0a1.1 1.1 0 1 0 -2.2 0M479.3 419.3m-1.1 0a1.1 1.1 0 1 0 2.2 0a1.1 1.1 0 1 0 -2.2 0M480.0 419.5m-1.1 0a1.1 1.1 0 1 0 2.2 0a1.1 1.1 0 1 0 -2.2 0M480.7 419.5m-1.1 0a1.1 1.1 0 1 0 2.2 0a1.1 1.1 0 1 0 -2.2 0M481.3 419.5m-1.1 0a1.1 1.1 0 1 0 2.2 0a1.1 1.1 0 1 0 -2.2 0M482.0 419.4m-1.1 0a1.1 1.1 0 1 0 2.2 0a1.1 1.1 0 1 0 -2.2 0M482.6 419.5m-1.1 0a1.1 1.1 0 1 0 2.2 0a1.1 1.1 0 1 0 -2.2 0M483.3 418.9m-1.1 0a1.1 1.1 0 1 0 2.2 0a1.1 1.1 0 1 0 -2.2 0M483.9 419.5m-1.1 0a1.1 1.1 0 1 0 2.2 0a1.1 1.1 0 1 0 -2.2 0M484.6 419.5m-1.1 0a1.1 1.1 0 1 0 2.2 0a1.1 1.1 0 1 0 -2.2 0M485.2 419.5m-1.1 0a1.1 1.1 0 1 0 2.2 0a1.1 1.1 0 1 0 -2.2 0M485.9 419.2m-1.1 0a1.1 1.1 0 1 0 2.2 0a1.1 1.1 0 1 0 -2.2 0M486.6 419.5m-1.1 0a1.1 1.1 0 1 0 2.2 0a1.1 1.1 0 1 0 -2.2 0M487.2 419.5m-1.1 0a1.1 1.1 0 1 0 2.2 0a1.1 1.1 0 1 0 -2.2 0M487.9 419.4m-1.1 0a1.1 1.1 0 1 0 2.2 0a1.1 1.1 0 1 0 -2.2 0M488.5 419.5m-1.1 0a1.1 1.1 0 1 0 2.2 0a1.1 1.1 0 1 0 -2.2 0M489.2 419.5m-1.1 0a1.1 1.1 0 1 0 2.2 0a1.1 1.1 0 1 0 -2.2 0M489.8 419.5m-1.1 0a1.1 1.1 0 1 0 2.2 0a1.1 1.1 0 1 0 -2.2 0M490.5 419.4m-1.1 0a1.1 1.1 0 1 0 2.2 0a1.1 1.1 0 1 0 -2.2 0M491.2 419.3m-1.1 0a1.1 1.1 0 1 0 2.2 0a1.1 1.1 0 1 0 -2.2 0M491.8 419.5m-1.1 0a1.1 1.1 0 1 0 2.2 0a1.1 1.1 0 1 0 -2.2 0M492.5 419.5m-1.1 0a1.1 1.1 0 1 0 2.2 0a1.1 1.1 0 1 0 -2.2 0M493.1 419.0m-1.1 0a1.1 1.1 0 1 0 2.2 0a1.1 1.1 0 1 0 -2.2 0M493.8 419.1m-1.1 0a1.1 1.1 0 1 0 2.2 0a1.1 1.1 0 1 0 -2.2 0M494.4 419.3m-1.1 0a1.1 1.1 0 1 0 2.2 0a1.1 1.1 0 1 0 -2.2 0M495.1 419.5m-1.1 0a1.1 1.1 0 1 0 2.2 0a1.1 1.1 0 1 0 -2.2 0M495.7 419.2m-1.1 0a1.1 1.1 0 1 0 2.2 0a1.1 1.1 0 1 0 -2.2 0M496.4 419.5m-1.1 0a1.1 1.1 0 1 0 2.2 0a1.1 1.1 0 1 0 -2.2 0M497.1 419.4m-1.1 0a1.1 1.1 0 1 0 2.2 0a1.1 1.1 0 1 0 -2.2 0M497.7 419.4m-1.1 0a1.1 1.1 0 1 0 2.2 0a1.1 1.1 0 1 0 -2.2 0M498.4 419.5m-1.1 0a1.1 1.1 0 1 0 2.2 0a1.1 1.1 0 1 0 -2.2 0M499.0 419.2m-1.1 0a1.1 1.1 0 1 0 2.2 0a1.1 1.1 0 1 0 -2.2 0M499.7 419.4m-1.1 0a1.1 1.1 0 1 0 2.2 0a1.1 1.1 0 1 0 -2.2 0M500.3 419.5m-1.1 0a1.1 1.1 0 1 0 2.2 0a1.1 1.1 0 1 0 -2.2 0M501.0 419.5m-1.1 0a1.1 1.1 0 1 0 2.2 0a1.1 1.1 0 1 0 -2.2 0M501.6 419.5m-1.1 0a1.1 1.1 0 1 0 2.2 0a1.1 1.1 0 1 0 -2.2 0M502.3 419.5m-1.1 0a1.1 1.1 0 1 0 2.2 0a1.1 1.1 0 1 0 -2.2 0M503.0 419.5m-1.1 0a1.1 1.1 0 1 0 2.2 0a1.1 1.1 0 1 0 -2.2 0M503.6 418.1m-1.1 0a1.1 1.1 0 1 0 2.2 0a1.1 1.1 0 1 0 -2.2 0M504.3 417.4m-1.1 0a1.1 1.1 0 1 0 2.2 0a1.1 1.1 0 1 0 -2.2 0M504.9 417.7m-1.1 0a1.1 1.1 0 1 0 2.2 0a1.1 1.1 0 1 0 -2.2 0M505.6 418.1m-1.1 0a1.1 1.1 0 1 0 2.2 0a1.1 1.1 0 1 0 -2.2 0M506.2 416.5m-1.1 0a1.1 1.1 0 1 0 2.2 0a1.1 1.1 0 1 0 -2.2 0M506.9 414.8m-1.1 0a1.1 1.1 0 1 0 2.2 0a1.1 1.1 0 1 0 -2.2 0M507.6 414.6m-1.1 0a1.1 1.1 0 1 0 2.2 0a1.1 1.1 0 1 0 -2.2 0M508.2 411.8m-1.1 0a1.1 1.1 0 1 0 2.2 0a1.1 1.1 0 1 0 -2.2 0M508.9 409.5m-1.1 0a1.1 1.1 0 1 0 2.2 0a1.1 1.1 0 1 0 -2.2 0M509.5 410.3m-1.1 0a1.1 1.1 0 1 0 2.2 0a1.1 1.1 0 1 0 -2.2 0M510.2 409.4m-1.1 0a1.1 1.1 0 1 0 2.2 0a1.1 1.1 0 1 0 -2.2 0M510.8 404.4m-1.1 0a1.1 1.1 0 1 0 2.2 0a1.1 1.1 0 1 0 -2.2 0M511.5 404.3m-1.1 0a1.1 1.1 0 1 0 2.2 0a1.1 1.1 0 1 0 -2.2 0M512.1 403.3m-1.1 0a1.1 1.1 0 1 0 2.2 0a1.1 1.1 0 1 0 -2.2 0M512.8 405.7m-1.1 0a1.1 1.1 0 1 0 2.2 0a1.1 1.1 0 1 0 -2.2 0M513.5 406.4m-1.1 0a1.1 1.1 0 1 0 2.2 0a1.1 1.1 0 1 0 -2.2 0M514.1 403.9m-1.1 0a1.1 1.1 0 1 0 2.2 0a1.1 1.1 0 1 0 -2.2 0M514.8 407.1m-1.1 0a1.1 1.1 0 1 0 2.2 0a1.1 1.1 0 1 0 -2.2 0M515.4 408.4m-1.1 0a1.1 1.1 0 1 0 2.2 0a1.1 1.1 0 1 0 -2.2 0M516.1 410.4m-1.1 0a1.1 1.1 0 1 0 2.2 0a1.1 1.1 0 1 0 -2.2 0M516.7 414.1m-1.1 0a1.1 1.1 0 1 0 2.2 0a1.1 1.1 0 1 0 -2.2 0M517.4 414.5m-1.1 0a1.1 1.1 0 1 0 2.2 0a1.1 1.1 0 1 0 -2.2 0M518.0 418.1m-1.1 0a1.1 1.1 0 1 0 2.2 0a1.1 1.1 0 1 0 -2.2 0M518.7 415.9m-1.1 0a1.1 1.1 0 1 0 2.2 0a1.1 1.1 0 1 0 -2.2 0M519.4 419.4m-1.1 0a1.1 1.1 0 1 0 2.2 0a1.1 1.1 0 1 0 -2.2 0M520.0 418.0m-1.1 0a1.1 1.1 0 1 0 2.2 0a1.1 1.1 0 1 0 -2.2 0M520.7 419.0m-1.1 0a1.1 1.1 0 1 0 2.2 0a1.1 1.1 0 1 0 -2.2 0M521.3 418.5m-1.1 0a1.1 1.1 0 1 0 2.2 0a1.1 1.1 0 1 0 -2.2 0M522.0 418.9m-1.1 0a1.1 1.1 0 1 0 2.2 0a1.1 1.1 0 1 0 -2.2 0M522.6 419.3m-1.1 0a1.1 1.1 0 1 0 2.2 0a1.1 1.1 0 1 0 -2.2 0M523.3 419.4m-1.1 0a1.1 1.1 0 1 0 2.2 0a1.1 1.1 0 1 0 -2.2 0M524.0 419.4m-1.1 0a1.1 1.1 0 1 0 2.2 0a1.1 1.1 0 1 0 -2.2 0M524.6 419.3m-1.1 0a1.1 1.1 0 1 0 2.2 0a1.1 1.1 0 1 0 -2.2 0M525.3 419.4m-1.1 0a1.1 1.1 0 1 0 2.2 0a1.1 1.1 0 1 0 -2.2 0M525.9 419.2m-1.1 0a1.1 1.1 0 1 0 2.2 0a1.1 1.1 0 1 0 -2.2 0M526.6 419.1m-1.1 0a1.1 1.1 0 1 0 2.2 0a1.1 1.1 0 1 0 -2.2 0M527.2 419.5m-1.1 0a1.1 1.1 0 1 0 2.2 0a1.1 1.1 0 1 0 -2.2 0M527.9 419.1m-1.1 0a1.1 1.1 0 1 0 2.2 0a1.1 1.1 0 1 0 -2.2 0M528.5 419.5m-1.1 0a1.1 1.1 0 1 0 2.2 0a1.1 1.1 0 1 0 -2.2 0M529.2 419.3m-1.1 0a1.1 1.1 0 1 0 2.2 0a1.1 1.1 0 1 0 -2.2 0M529.9 419.5m-1.1 0a1.1 1.1 0 1 0 2.2 0a1.1 1.1 0 1 0 -2.2 0M530.5 418.9m-1.1 0a1.1 1.1 0 1 0 2.2 0a1.1 1.1 0 1 0 -2.2 0M531.2 419.4m-1.1 0a1.1 1.1 0 1 0 2.2 0a1.1 1.1 0 1 0 -2.2 0M531.8 419.2m-1.1 0a1.1 1.1 0 1 0 2.2 0a1.1 1.1 0 1 0 -2.2 0M532.5 418.9m-1.1 0a1.1 1.1 0 1 0 2.2 0a1.1 1.1 0 1 0 -2.2 0M533.1 419.1m-1.1 0a1.1 1.1 0 1 0 2.2 0a1.1 1.1 0 1 0 -2.2 0M533.8 419.0m-1.1 0a1.1 1.1 0 1 0 2.2 0a1.1 1.1 0 1 0 -2.2 0M534.4 419.5m-1.1 0a1.1 1.1 0 1 0 2.2 0a1.1 1.1 0 1 0 -2.2 0M535.1 419.5m-1.1 0a1.1 1.1 0 1 0 2.2 0a1.1 1.1 0 1 0 -2.2 0M535.8 419.4m-1.1 0a1.1 1.1 0 1 0 2.2 0a1.1 1.1 0 1 0 -2.2 0M536.4 419.5m-1.1 0a1.1 1.1 0 1 0 2.2 0a1.1 1.1 0 1 0 -2.2 0M537.1 419.5m-1.1 0a1.1 1.1 0 1 0 2.2 0a1.1 1.1 0 1 0 -2.2 0M537.7 419.5m-1.1 0a1.1 1.1 0 1 0 2.2 0a1.1 1.1 0 1 0 -2.2 0M538.4 419.5m-1.1 0a1.1 1.1 0 1 0 2.2 0a1.1 1.1 0 1 0 -2.2 0M539.0 417.7m-1.1 0a1.1 1.1 0 1 0 2.2 0a1.1 1.1 0 1 0 -2.2 0M539.7 416.6m-1.1 0a1.1 1.1 0 1 0 2.2 0a1.1 1.1 0 1 0 -2.2 0M540.4 415.2m-1.1 0a1.1 1.1 0 1 0 2.2 0a1.1 1.1 0 1 0 -2.2 0M541.0 409.5m-1.1 0a1.1 1.1 0 1 0 2.2 0a1.1 1.1 0 1 0 -2.2 0M541.7 406.0m-1.1 0a1.1 1.1 0 1 0 2.2 0a1.1 1.1 0 1 0 -2.2 0M542.3 386.5m-1.1 0a1.1 1.1 0 1 0 2.2 0a1.1 1.1 0 1 0 -2.2 0M543.0 379.9m-1.1 0a1.1 1.1 0 1 0 2.2 0a1.1 1.1 0 1 0 -2.2 0M543.6 356.9m-1.1 0a1.1 1.1 0 1 0 2.2 0a1.1 1.1 0 1 0 -2.2 0M544.3 343.6m-1.1 0a1.1 1.1 0 1 0 2.2 0a1.1 1.1 0 1 0 -2.2 0M544.9 322.2m-1.1 0a1.1 1.1 0 1 0 2.2 0a1.1 1.1 0 1 0 -2.2 0M545.6 307.3m-1.1 0a1.1 1.1 0 1 0 2.2 0a1.1 1.1 0 1 0 -2.2 0M546.3 301.7m-1.1 0a1.1 1.1 0 1 0 2.2 0a1.1 1.1 0 1 0 -2.2 0M546.9 314.2m-1.1 0a1.1 1.1 0 1 0 2.2 0a1.1 1.1 0 1 0 -2.2 0M547.6 324.6m-1.1 0a1.1 1.1 0 1 0 2.2 0a1.1 1.1 0 1 0 -2.2 0M548.2 342.5m-1.1 0a1.1 1.1 0 1 0 2.2 0a1.1 1.1 0 1 0 -2.2 0M548.9 355.6m-1.1 0a1.1 1.1 0 1 0 2.2 0a1.1 1.1 0 1 0 -2.2 0M549.5 379.5m-1.1 0a1.1 1.1 0 1 0 2.2 0a1.1 1.1 0 1 0 -2.2 0M550.2 395.4m-1.1 0a1.1 1.1 0 1 0 2.2 0a1.1 1.1 0 1 0 -2.2 0M550.8 407.2m-1.1 0a1.1 1.1 0 1 0 2.2 0a1.1 1.1 0 1 0 -2.2 0M551.5 414.5m-1.1 0a1.1 1.1 0 1 0 2.2 0a1.1 1.1 0 1 0 -2.2 0M552.2 417.1m-1.1 0a1.1 1.1 0 1 0 2.2 0a1.1 1.1 0 1 0 -2.2 0M552.8 417.1m-1.1 0a1.1 1.1 0 1 0 2.2 0a1.1 1.1 0 1 0 -2.2 0M553.5 419.4m-1.1 0a1.1 1.1 0 1 0 2.2 0a1.1 1.1 0 1 0 -2.2 0M554.1 419.4m-1.1 0a1.1 1.1 0 1 0 2.2 0a1.1 1.1 0 1 0 -2.2 0M554.8 419.5m-1.1 0a1.1 1.1 0 1 0 2.2 0a1.1 1.1 0 1 0 -2.2 0M555.4 419.5m-1.1 0a1.1 1.1 0 1 0 2.2 0a1.1 1.1 0 1 0 -2.2 0M556.1 419.5m-1.1 0a1.1 1.1 0 1 0 2.2 0a1.1 1.1 0 1 0 -2.2 0M556.8 419.3m-1.1 0a1.1 1.1 0 1 0 2.2 0a1.1 1.1 0 1 0 -2.2 0M557.4 419.5m-1.1 0a1.1 1.1 0 1 0 2.2 0a1.1 1.1 0 1 0 -2.2 0M558.1 419.3m-1.1 0a1.1 1.1 0 1 0 2.2 0a1.1 1.1 0 1 0 -2.2 0M558.7 419.5m-1.1 0a1.1 1.1 0 1 0 2.2 0a1.1 1.1 0 1 0 -2.2 0M559.4 419.5m-1.1 0a1.1 1.1 0 1 0 2.2 0a1.1 1.1 0 1 0 -2.2 0M560.0 419.5m-1.1 0a1.1 1.1 0 1 0 2.2 0a1.1 1.1 0 1 0 -2.2 0M560.7 419.2m-1.1 0a1.1 1.1 0 1 0 2.2 0a1.1 1.1 0 1 0 -2.2 0M561.3 419.0m-1.1 0a1.1 1.1 0 1 0 2.2 0a1.1 1.1 0 1 0 -2.2 0M562.0 419.5m-1.1 0a1.1 1.1 0 1 0 2.2 0a1.1 1.1 0 1 0 -2.2 0M562.7 419.3m-1.1 0a1.1 1.1 0 1 0 2.2 0a1.1 1.1 0 1 0 -2.2 0M563.3 419.1m-1.1 0a1.1 1.1 0 1 0 2.2 0a1.1 1.1 0 1 0 -2.2 0M564.0 418.8m-1.1 0a1.1 1.1 0 1 0 2.2 0a1.1 1.1 0 1 0 -2.2 0M564.6 419.5m-1.1 0a1.1 1.1 0 1 0 2.2 0a1.1 1.1 0 1 0 -2.2 0M565.3 419.2m-1.1 0a1.1 1.1 0 1 0 2.2 0a1.1 1.1 0 1 0 -2.2 0M565.9 419.5m-1.1 0a1.1 1.1 0 1 0 2.2 0a1.1 1.1 0 1 0 -2.2 0M566.6 419.1m-1.1 0a1.1 1.1 0 1 0 2.2 0a1.1 1.1 0 1 0 -2.2 0M567.2 419.3m-1.1 0a1.1 1.1 0 1 0 2.2 0a1.1 1.1 0 1 0 -2.2 0M567.9 419.5m-1.1 0a1.1 1.1 0 1 0 2.2 0a1.1 1.1 0 1 0 -2.2 0M568.6 419.5m-1.1 0a1.1 1.1 0 1 0 2.2 0a1.1 1.1 0 1 0 -2.2 0M569.2 419.5m-1.1 0a1.1 1.1 0 1 0 2.2 0a1.1 1.1 0 1 0 -2.2 0M569.9 419.4m-1.1 0a1.1 1.1 0 1 0 2.2 0a1.1 1.1 0 1 0 -2.2 0M570.5 419.4m-1.1 0a1.1 1.1 0 1 0 2.2 0a1.1 1.1 0 1 0 -2.2 0M571.2 419.4m-1.1 0a1.1 1.1 0 1 0 2.2 0a1.1 1.1 0 1 0 -2.2 0M571.8 419.3m-1.1 0a1.1 1.1 0 1 0 2.2 0a1.1 1.1 0 1 0 -2.2 0M572.5 419.5m-1.1 0a1.1 1.1 0 1 0 2.2 0a1.1 1.1 0 1 0 -2.2 0M573.2 419.5m-1.1 0a1.1 1.1 0 1 0 2.2 0a1.1 1.1 0 1 0 -2.2 0M573.8 419.4m-1.1 0a1.1 1.1 0 1 0 2.2 0a1.1 1.1 0 1 0 -2.2 0M574.5 419.5m-1.1 0a1.1 1.1 0 1 0 2.2 0a1.1 1.1 0 1 0 -2.2 0M575.1 419.5m-1.1 0a1.1 1.1 0 1 0 2.2 0a1.1 1.1 0 1 0 -2.2 0M575.8 419.5m-1.1 0a1.1 1.1 0 1 0 2.2 0a1.1 1.1 0 1 0 -2.2 0M576.4 419.0m-1.1 0a1.1 1.1 0 1 0 2.2 0a1.1 1.1 0 1 0 -2.2 0M577.1 419.4m-1.1 0a1.1 1.1 0 1 0 2.2 0a1.1 1.1 0 1 0 -2.2 0M577.7 419.0m-1.1 0a1.1 1.1 0 1 0 2.2 0a1.1 1.1 0 1 0 -2.2 0M578.4 419.2m-1.1 0a1.1 1.1 0 1 0 2.2 0a1.1 1.1 0 1 0 -2.2 0M579.1 419.5m-1.1 0a1.1 1.1 0 1 0 2.2 0a1.1 1.1 0 1 0 -2.2 0M579.7 419.0m-1.1 0a1.1 1.1 0 1 0 2.2 0a1.1 1.1 0 1 0 -2.2 0M580.4 419.5m-1.1 0a1.1 1.1 0 1 0 2.2 0a1.1 1.1 0 1 0 -2.2 0M581.0 419.1m-1.1 0a1.1 1.1 0 1 0 2.2 0a1.1 1.1 0 1 0 -2.2 0M581.7 419.4m-1.1 0a1.1 1.1 0 1 0 2.2 0a1.1 1.1 0 1 0 -2.2 0M582.3 419.5m-1.1 0a1.1 1.1 0 1 0 2.2 0a1.1 1.1 0 1 0 -2.2 0M583.0 419.5m-1.1 0a1.1 1.1 0 1 0 2.2 0a1.1 1.1 0 1 0 -2.2 0M583.6 419.3m-1.1 0a1.1 1.1 0 1 0 2.2 0a1.1 1.1 0 1 0 -2.2 0M584.3 419.5m-1.1 0a1.1 1.1 0 1 0 2.2 0a1.1 1.1 0 1 0 -2.2 0M585.0 418.8m-1.1 0a1.1 1.1 0 1 0 2.2 0a1.1 1.1 0 1 0 -2.2 0M585.6 419.5m-1.1 0a1.1 1.1 0 1 0 2.2 0a1.1 1.1 0 1 0 -2.2 0M586.3 419.5m-1.1 0a1.1 1.1 0 1 0 2.2 0a1.1 1.1 0 1 0 -2.2 0M586.9 419.5m-1.1 0a1.1 1.1 0 1 0 2.2 0a1.1 1.1 0 1 0 -2.2 0M587.6 419.5m-1.1 0a1.1 1.1 0 1 0 2.2 0a1.1 1.1 0 1 0 -2.2 0M588.2 419.1m-1.1 0a1.1 1.1 0 1 0 2.2 0a1.1 1.1 0 1 0 -2.2 0M588.9 419.1m-1.1 0a1.1 1.1 0 1 0 2.2 0a1.1 1.1 0 1 0 -2.2 0M589.6 419.5m-1.1 0a1.1 1.1 0 1 0 2.2 0a1.1 1.1 0 1 0 -2.2 0M590.2 419.5m-1.1 0a1.1 1.1 0 1 0 2.2 0a1.1 1.1 0 1 0 -2.2 0M590.9 419.5m-1.1 0a1.1 1.1 0 1 0 2.2 0a1.1 1.1 0 1 0 -2.2 0M591.5 419.5m-1.1 0a1.1 1.1 0 1 0 2.2 0a1.1 1.1 0 1 0 -2.2 0M592.2 419.2m-1.1 0a1.1 1.1 0 1 0 2.2 0a1.1 1.1 0 1 0 -2.2 0M592.8 419.5m-1.1 0a1.1 1.1 0 1 0 2.2 0a1.1 1.1 0 1 0 -2.2 0M593.5 419.5m-1.1 0a1.1 1.1 0 1 0 2.2 0a1.1 1.1 0 1 0 -2.2 0M594.1 419.4m-1.1 0a1.1 1.1 0 1 0 2.2 0a1.1 1.1 0 1 0 -2.2 0M594.8 419.4m-1.1 0a1.1 1.1 0 1 0 2.2 0a1.1 1.1 0 1 0 -2.2 0M595.5 419.5m-1.1 0a1.1 1.1 0 1 0 2.2 0a1.1 1.1 0 1 0 -2.2 0M596.1 419.5m-1.1 0a1.1 1.1 0 1 0 2.2 0a1.1 1.1 0 1 0 -2.2 0M596.8 419.3m-1.1 0a1.1 1.1 0 1 0 2.2 0a1.1 1.1 0 1 0 -2.2 0M597.4 419.3m-1.1 0a1.1 1.1 0 1 0 2.2 0a1.1 1.1 0 1 0 -2.2 0M598.1 419.5m-1.1 0a1.1 1.1 0 1 0 2.2 0a1.1 1.1 0 1 0 -2.2 0M598.7 419.3m-1.1 0a1.1 1.1 0 1 0 2.2 0a1.1 1.1 0 1 0 -2.2 0M599.4 419.5m-1.1 0a1.1 1.1 0 1 0 2.2 0a1.1 1.1 0 1 0 -2.2 0M600.0 419.5m-1.1 0a1.1 1.1 0 1 0 2.2 0a1.1 1.1 0 1 0 -2.2 0M600.7 419.2m-1.1 0a1.1 1.1 0 1 0 2.2 0a1.1 1.1 0 1 0 -2.2 0M601.4 418.8m-1.1 0a1.1 1.1 0 1 0 2.2 0a1.1 1.1 0 1 0 -2.2 0M602.0 419.3m-1.1 0a1.1 1.1 0 1 0 2.2 0a1.1 1.1 0 1 0 -2.2 0M602.7 419.3m-1.1 0a1.1 1.1 0 1 0 2.2 0a1.1 1.1 0 1 0 -2.2 0M603.3 418.7m-1.1 0a1.1 1.1 0 1 0 2.2 0a1.1 1.1 0 1 0 -2.2 0M604.0 419.0m-1.1 0a1.1 1.1 0 1 0 2.2 0a1.1 1.1 0 1 0 -2.2 0M604.6 419.4m-1.1 0a1.1 1.1 0 1 0 2.2 0a1.1 1.1 0 1 0 -2.2 0M605.3 419.5m-1.1 0a1.1 1.1 0 1 0 2.2 0a1.1 1.1 0 1 0 -2.2 0M606.0 419.5m-1.1 0a1.1 1.1 0 1 0 2.2 0a1.1 1.1 0 1 0 -2.2 0M606.6 419.2m-1.1 0a1.1 1.1 0 1 0 2.2 0a1.1 1.1 0 1 0 -2.2 0M607.3 419.5m-1.1 0a1.1 1.1 0 1 0 2.2 0a1.1 1.1 0 1 0 -2.2 0M607.9 419.4m-1.1 0a1.1 1.1 0 1 0 2.2 0a1.1 1.1 0 1 0 -2.2 0M608.6 419.5m-1.1 0a1.1 1.1 0 1 0 2.2 0a1.1 1.1 0 1 0 -2.2 0M609.2 419.5m-1.1 0a1.1 1.1 0 1 0 2.2 0a1.1 1.1 0 1 0 -2.2 0M609.9 419.2m-1.1 0a1.1 1.1 0 1 0 2.2 0a1.1 1.1 0 1 0 -2.2 0M610.5 419.3m-1.1 0a1.1 1.1 0 1 0 2.2 0a1.1 1.1 0 1 0 -2.2 0" fill="#000"/>
<text x="570.0" y="291.6" font-size="7.6" fill="#000" stroke="#000" stroke-width="0.12" textLength="35.0" lengthAdjust="spacingAndGlyphs">FoM = 3.22</text>
<text x="570.0" y="303.6" font-size="7.6" fill="#000" stroke="#000" stroke-width="0.12" textLength="37.0" lengthAdjust="spacingAndGlyphs">E<tspan font-size="4.6" dy="1.6">e</tspan><tspan dy="-1.6"> = 500 keV</tspan></text>
<text x="570.0" y="315.6" font-size="7.6" fill="#000" stroke="#000" stroke-width="0.12" textLength="41.0" lengthAdjust="spacingAndGlyphs">E<tspan font-size="4.6" dy="1.6">p</tspan><tspan dy="-1.6"> = 2250 keV</tspan></text>
<text x="441.5" y="279.5" font-size="4.4" font-weight="bold" text-anchor="middle" fill="#111">N</text>
<text x="531.0" y="432.5" font-size="5.8" text-anchor="middle" fill="#000" stroke="#000" stroke-width="0.1" textLength="23.5" lengthAdjust="spacingAndGlyphs">R, channel</text>
<g stroke="#111" stroke-width="1.1" fill="#000">
<path d="M86.3 119.8 L309 67.0" fill="none"/>
<path d="M317.3 64.8 L306.8 64.2 L308.2 70.2 Z" stroke="none"/>
<path d="M244 313.5 L427 333.1" fill="none"/>
<path d="M434.3 333.8 L426 330.2 L425.5 335.9 Z" stroke="none"/>
</g>
</svg>
<div class="t xt" style="left:73.3px">0.0</div>
<div class="t xt" style="left:141.1px">0.2</div>
<div class="t xt" style="left:208.9px">0.4</div>
<div class="t xt" style="left:276.7px">0.6</div>
<div class="t xt" style="left:344.5px">0.8</div>
<div class="t xt" style="left:412.3px">1.0</div>
<div class="t xt" style="left:480.0px">1.2</div>
<div class="t xt" style="left:547.8px">1.4</div>
<div class="t xt" style="left:615.6px">1.6</div>
<div class="t xt" style="left:683.4px">1.8</div>
<div class="t yt" style="top:349.3px">50</div>
<div class="t yt" style="top:265.0px">100</div>
<div class="t yt" style="top:180.7px">150</div>
<div class="t yt" style="top:96.4px">200</div>
<div class="t yt" style="top:12.1px">250</div>
<div class="t" style="font-size:19.7px;left:303.2px;top:474.2px;">Энергия, МэВ</div>
<div class="t" style="font-size:19.7px;left:13px;top:240.2px;transform:translate(-50%,-50%) rotate(-90deg);">Параметр разделения</div>
<div class="t" style="font-size:19.9px;left:581.3px;top:137.6px;">Электроны</div>
<div class="t" style="font-size:19.5px;left:597.5px;top:210px;">Протоны</div>
</body></html>
